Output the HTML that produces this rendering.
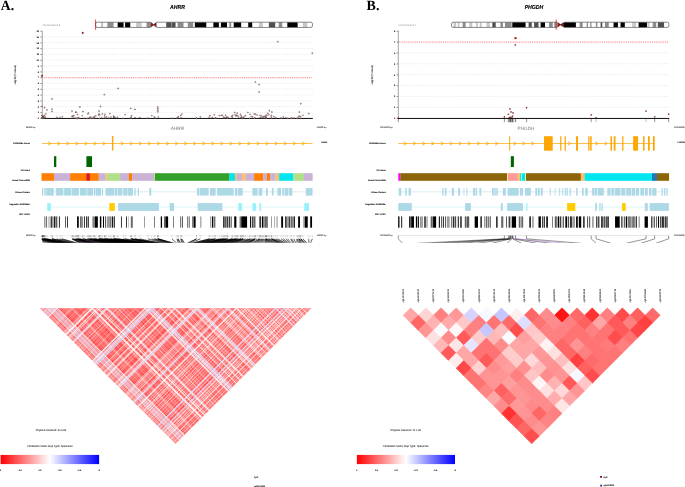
<!DOCTYPE html>
<html lang="en"><head><meta charset="utf-8"><title>coMET regional plots: AHRR and PHGDH</title>
<style>html,body{margin:0;padding:0;background:#fff;overflow:hidden}text{text-rendering:geometricPrecision}svg{display:block;will-change:transform;transform:translateZ(0)}</style></head>
<body>
<svg width="685" height="487" viewBox="0 0 685 487">
<rect width="685" height="487" fill="#fff"/>
<text x="0.00" y="0.00" font-size="14.1" fill="#000" text-anchor="start" font-family="Liberation Serif, Times New Roman, serif"  font-weight="bold" transform="translate(0.8,9.65) scale(0.97,1)">A.</text>
<line x1="44.00" y1="112.44" x2="312.50" y2="112.44" stroke="#d8d8d8" stroke-width="0.6" stroke-dasharray="0.9 1.16"/>
<line x1="44.00" y1="106.62" x2="312.50" y2="106.62" stroke="#d8d8d8" stroke-width="0.6" stroke-dasharray="0.9 1.16"/>
<line x1="44.00" y1="100.81" x2="312.50" y2="100.81" stroke="#d8d8d8" stroke-width="0.6" stroke-dasharray="0.9 1.16"/>
<line x1="44.00" y1="95.00" x2="312.50" y2="95.00" stroke="#d8d8d8" stroke-width="0.6" stroke-dasharray="0.9 1.16"/>
<line x1="44.00" y1="89.18" x2="312.50" y2="89.18" stroke="#d8d8d8" stroke-width="0.6" stroke-dasharray="0.9 1.16"/>
<line x1="44.00" y1="83.37" x2="312.50" y2="83.37" stroke="#d8d8d8" stroke-width="0.6" stroke-dasharray="0.9 1.16"/>
<line x1="44.00" y1="71.74" x2="312.50" y2="71.74" stroke="#d8d8d8" stroke-width="0.6" stroke-dasharray="0.9 1.16"/>
<line x1="44.00" y1="65.93" x2="312.50" y2="65.93" stroke="#d8d8d8" stroke-width="0.6" stroke-dasharray="0.9 1.16"/>
<line x1="44.00" y1="60.12" x2="312.50" y2="60.12" stroke="#d8d8d8" stroke-width="0.6" stroke-dasharray="0.9 1.16"/>
<line x1="44.00" y1="54.30" x2="312.50" y2="54.30" stroke="#d8d8d8" stroke-width="0.6" stroke-dasharray="0.9 1.16"/>
<line x1="44.00" y1="48.49" x2="312.50" y2="48.49" stroke="#d8d8d8" stroke-width="0.6" stroke-dasharray="0.9 1.16"/>
<line x1="44.00" y1="42.68" x2="312.50" y2="42.68" stroke="#d8d8d8" stroke-width="0.6" stroke-dasharray="0.9 1.16"/>
<line x1="44.00" y1="36.86" x2="312.50" y2="36.86" stroke="#d8d8d8" stroke-width="0.6" stroke-dasharray="0.9 1.16"/>
<line x1="42.40" y1="77.71" x2="312.50" y2="77.71" stroke="#ff2020" stroke-width="0.65" stroke-dasharray="0.95 0.9"/>
<line x1="42.30" y1="30.80" x2="42.30" y2="118.40" stroke="#4a4a4a" stroke-width="0.5" />
<line x1="40.30" y1="118.40" x2="42.00" y2="118.40" stroke="#222" stroke-width="0.45" />
<text x="39.00" y="119.18" font-size="2.2" fill="#000" text-anchor="end" font-family="Liberation Sans, Arial, sans-serif" stroke="#000" stroke-width="0.1" >0</text>
<line x1="40.30" y1="112.59" x2="42.00" y2="112.59" stroke="#222" stroke-width="0.45" />
<text x="39.00" y="113.37" font-size="2.2" fill="#000" text-anchor="end" font-family="Liberation Sans, Arial, sans-serif" stroke="#000" stroke-width="0.1" >1</text>
<line x1="40.30" y1="106.77" x2="42.00" y2="106.77" stroke="#222" stroke-width="0.45" />
<text x="39.00" y="107.55" font-size="2.2" fill="#000" text-anchor="end" font-family="Liberation Sans, Arial, sans-serif" stroke="#000" stroke-width="0.1" >2</text>
<line x1="40.30" y1="100.96" x2="42.00" y2="100.96" stroke="#222" stroke-width="0.45" />
<text x="39.00" y="101.74" font-size="2.2" fill="#000" text-anchor="end" font-family="Liberation Sans, Arial, sans-serif" stroke="#000" stroke-width="0.1" >3</text>
<line x1="40.30" y1="95.15" x2="42.00" y2="95.15" stroke="#222" stroke-width="0.45" />
<text x="39.00" y="95.93" font-size="2.2" fill="#000" text-anchor="end" font-family="Liberation Sans, Arial, sans-serif" stroke="#000" stroke-width="0.1" >4</text>
<line x1="40.30" y1="89.33" x2="42.00" y2="89.33" stroke="#222" stroke-width="0.45" />
<text x="39.00" y="90.11" font-size="2.2" fill="#000" text-anchor="end" font-family="Liberation Sans, Arial, sans-serif" stroke="#000" stroke-width="0.1" >5</text>
<line x1="40.30" y1="83.52" x2="42.00" y2="83.52" stroke="#222" stroke-width="0.45" />
<text x="39.00" y="84.30" font-size="2.2" fill="#000" text-anchor="end" font-family="Liberation Sans, Arial, sans-serif" stroke="#000" stroke-width="0.1" >6</text>
<line x1="40.30" y1="77.71" x2="42.00" y2="77.71" stroke="#222" stroke-width="0.45" />
<text x="39.00" y="78.49" font-size="2.2" fill="#000" text-anchor="end" font-family="Liberation Sans, Arial, sans-serif" stroke="#000" stroke-width="0.1" >7</text>
<line x1="40.30" y1="71.89" x2="42.00" y2="71.89" stroke="#222" stroke-width="0.45" />
<text x="39.00" y="72.67" font-size="2.2" fill="#000" text-anchor="end" font-family="Liberation Sans, Arial, sans-serif" stroke="#000" stroke-width="0.1" >8</text>
<line x1="40.30" y1="66.08" x2="42.00" y2="66.08" stroke="#222" stroke-width="0.45" />
<text x="39.00" y="66.86" font-size="2.2" fill="#000" text-anchor="end" font-family="Liberation Sans, Arial, sans-serif" stroke="#000" stroke-width="0.1" >9</text>
<line x1="40.30" y1="60.27" x2="42.00" y2="60.27" stroke="#222" stroke-width="0.45" />
<text x="39.00" y="61.05" font-size="2.2" fill="#000" text-anchor="end" font-family="Liberation Sans, Arial, sans-serif" stroke="#000" stroke-width="0.1" >10</text>
<line x1="40.30" y1="54.45" x2="42.00" y2="54.45" stroke="#222" stroke-width="0.45" />
<text x="39.00" y="55.23" font-size="2.2" fill="#000" text-anchor="end" font-family="Liberation Sans, Arial, sans-serif" stroke="#000" stroke-width="0.1" >11</text>
<line x1="40.30" y1="48.64" x2="42.00" y2="48.64" stroke="#222" stroke-width="0.45" />
<text x="39.00" y="49.42" font-size="2.2" fill="#000" text-anchor="end" font-family="Liberation Sans, Arial, sans-serif" stroke="#000" stroke-width="0.1" >12</text>
<line x1="40.30" y1="42.83" x2="42.00" y2="42.83" stroke="#222" stroke-width="0.45" />
<text x="39.00" y="43.61" font-size="2.2" fill="#000" text-anchor="end" font-family="Liberation Sans, Arial, sans-serif" stroke="#000" stroke-width="0.1" >13</text>
<line x1="40.30" y1="37.01" x2="42.00" y2="37.01" stroke="#222" stroke-width="0.45" />
<text x="39.00" y="37.79" font-size="2.2" fill="#000" text-anchor="end" font-family="Liberation Sans, Arial, sans-serif" stroke="#000" stroke-width="0.1" >14</text>
<line x1="40.30" y1="31.20" x2="42.00" y2="31.20" stroke="#222" stroke-width="0.45" />
<text x="39.00" y="31.98" font-size="2.2" fill="#000" text-anchor="end" font-family="Liberation Sans, Arial, sans-serif" stroke="#000" stroke-width="0.1" >15</text>
<line x1="41.70" y1="118.45" x2="312.80" y2="118.45" stroke="#000" stroke-width="0.95" />
<text x="0.00" y="0.00" font-size="2.95" fill="#222" text-anchor="middle" font-family="Liberation Sans, Arial, sans-serif" stroke="#222" stroke-width="0.04" transform="translate(16.30,74.7) rotate(-90)">-log10(P-value)</text>
<text x="177.40" y="129.80" font-size="4.7" fill="#7a7a7a" text-anchor="middle" font-family="Liberation Sans, Arial, sans-serif"  >AHRR</text>
<text x="42.50" y="25.90" font-size="2.6" fill="#9c9c9c" text-anchor="start" font-family="Liberation Sans, Arial, sans-serif" stroke="#9c9c9c" stroke-width="0.03" >Chromosome 5</text>
<text x="26.00" y="128.00" font-size="2.0" fill="#333" text-anchor="start" font-family="Liberation Sans, Arial, sans-serif" stroke="#333" stroke-width="0.05" >368000 bp</text>
<text x="316.80" y="128.00" font-size="2.0" fill="#333" text-anchor="start" font-family="Liberation Sans, Arial, sans-serif" stroke="#333" stroke-width="0.05" >429600 bp</text>
<text x="0.00" y="0.00" font-size="5.7" fill="#000" text-anchor="middle" font-family="Liberation Sans, Arial, sans-serif" stroke="#000" stroke-width="0.12" font-weight="bold" font-style="italic" transform="translate(177.40,8.9) scale(0.91,1)">AHRR</text>
<clipPath id="c5a"><path d="M97.30,22.20 H149.97 Q150.87,22.20 153.63,24.57 Q156.39,22.20 157.29,22.20 H310.80 A1.7,1.7 0 0 1 312.50,23.90 V25.75 A1.7,1.7 0 0 1 310.80,27.45 H157.29 Q156.39,27.45 153.63,25.07 Q150.87,27.45 149.97,27.45 H97.30 A1.7,1.7 0 0 1 95.60,25.75 V23.90 A1.7,1.7 0 0 1 97.30,22.20 Z"/></clipPath>
<g clip-path="url(#c5a)">
<rect x="101.00" y="22.20" width="2.16" height="5.25" fill="#c8c8c8" />
<rect x="107.35" y="22.20" width="6.23" height="5.25" fill="#8c8c8c" />
<rect x="117.66" y="22.20" width="5.88" height="5.25" fill="#000000" />
<rect x="125.10" y="22.20" width="5.16" height="5.25" fill="#000000" />
<rect x="136.13" y="22.20" width="5.52" height="5.25" fill="#c8c8c8" />
<rect x="146.56" y="22.20" width="4.32" height="5.25" fill="#8c8c8c" />
<rect x="150.77" y="22.20" width="2.96" height="5.25" fill="#8b1a1a" />
<rect x="153.53" y="22.20" width="2.96" height="5.25" fill="#8b1a1a" />
<rect x="166.22" y="22.20" width="4.80" height="5.25" fill="#505050" />
<rect x="171.38" y="22.20" width="4.20" height="5.25" fill="#505050" />
<rect x="177.61" y="22.20" width="5.88" height="5.25" fill="#8c8c8c" />
<rect x="187.80" y="22.20" width="5.40" height="5.25" fill="#8c8c8c" />
<rect x="194.88" y="22.20" width="11.39" height="5.25" fill="#000000" />
<rect x="213.34" y="22.20" width="5.52" height="5.25" fill="#000000" />
<rect x="220.90" y="22.20" width="6.11" height="5.25" fill="#000000" />
<rect x="229.29" y="22.20" width="1.92" height="5.25" fill="#8c8c8c" />
<rect x="233.73" y="22.20" width="7.43" height="5.25" fill="#000000" />
<rect x="248.23" y="22.20" width="3.96" height="5.25" fill="#000000" />
<rect x="258.90" y="22.20" width="3.96" height="5.25" fill="#c8c8c8" />
<rect x="268.86" y="22.20" width="6.35" height="5.25" fill="#505050" />
<rect x="278.69" y="22.20" width="3.60" height="5.25" fill="#8c8c8c" />
<rect x="287.32" y="22.20" width="10.31" height="5.25" fill="#000000" />
<rect x="302.79" y="22.20" width="4.56" height="5.25" fill="#c8c8c8" />
</g>
<path d="M97.30,22.20 H149.97 Q150.87,22.20 153.63,24.57 Q156.39,22.20 157.29,22.20 H310.80 A1.7,1.7 0 0 1 312.50,23.90 V25.75 A1.7,1.7 0 0 1 310.80,27.45 H157.29 Q156.39,27.45 153.63,25.07 Q150.87,27.45 149.97,27.45 H97.30 A1.7,1.7 0 0 1 95.60,25.75 V23.90 A1.7,1.7 0 0 1 97.30,22.20 Z" fill="none" stroke="#2a2a2a" stroke-width="0.55"/>
<line x1="95.60" y1="19.60" x2="95.60" y2="29.75" stroke="#e8000a" stroke-width="0.75" />
<circle cx="43.16" cy="116.37" r="0.55" fill="#e6b4b4" stroke="#2a1212" stroke-width="0.33"/>
<circle cx="42.10" cy="115.57" r="0.55" fill="#e6b4b4" stroke="#2a1212" stroke-width="0.33"/>
<circle cx="44.05" cy="117.85" r="0.55" fill="#e6b4b4" stroke="#2a1212" stroke-width="0.33"/>
<circle cx="43.93" cy="117.78" r="0.55" fill="#e6b4b4" stroke="#2a1212" stroke-width="0.33"/>
<circle cx="41.96" cy="117.56" r="0.55" fill="#e6b4b4" stroke="#2a1212" stroke-width="0.33"/>
<circle cx="42.18" cy="118.03" r="0.55" fill="#e6b4b4" stroke="#2a1212" stroke-width="0.33"/>
<circle cx="43.58" cy="117.83" r="0.55" fill="#e6b4b4" stroke="#2a1212" stroke-width="0.33"/>
<circle cx="42.74" cy="117.31" r="0.55" fill="#e6b4b4" stroke="#2a1212" stroke-width="0.33"/>
<circle cx="44.44" cy="115.42" r="0.55" fill="#e6b4b4" stroke="#2a1212" stroke-width="0.33"/>
<circle cx="43.47" cy="117.38" r="0.55" fill="#e6b4b4" stroke="#2a1212" stroke-width="0.33"/>
<circle cx="45.90" cy="113.86" r="0.55" fill="#e6b4b4" stroke="#2a1212" stroke-width="0.33"/>
<circle cx="43.02" cy="117.03" r="0.55" fill="#e6b4b4" stroke="#2a1212" stroke-width="0.33"/>
<circle cx="42.41" cy="116.88" r="0.55" fill="#e6b4b4" stroke="#2a1212" stroke-width="0.33"/>
<circle cx="45.23" cy="117.01" r="0.55" fill="#e6b4b4" stroke="#2a1212" stroke-width="0.33"/>
<circle cx="42.56" cy="115.41" r="0.55" fill="#e6b4b4" stroke="#2a1212" stroke-width="0.33"/>
<circle cx="43.36" cy="116.72" r="0.55" fill="#e6b4b4" stroke="#2a1212" stroke-width="0.33"/>
<circle cx="44.10" cy="117.62" r="0.55" fill="#e6b4b4" stroke="#2a1212" stroke-width="0.33"/>
<circle cx="42.67" cy="118.08" r="0.55" fill="#e6b4b4" stroke="#2a1212" stroke-width="0.33"/>
<circle cx="62.33" cy="116.84" r="0.55" fill="#e6b4b4" stroke="#2a1212" stroke-width="0.33"/>
<circle cx="60.05" cy="117.64" r="0.55" fill="#e6b4b4" stroke="#2a1212" stroke-width="0.33"/>
<circle cx="56.88" cy="117.31" r="0.55" fill="#e6b4b4" stroke="#2a1212" stroke-width="0.33"/>
<circle cx="104.95" cy="114.34" r="0.55" fill="#e6b4b4" stroke="#2a1212" stroke-width="0.33"/>
<circle cx="82.20" cy="115.79" r="0.55" fill="#e6b4b4" stroke="#2a1212" stroke-width="0.33"/>
<circle cx="113.76" cy="117.08" r="0.55" fill="#e6b4b4" stroke="#2a1212" stroke-width="0.33"/>
<circle cx="106.47" cy="116.81" r="0.55" fill="#e6b4b4" stroke="#2a1212" stroke-width="0.33"/>
<circle cx="75.90" cy="112.40" r="0.55" fill="#e6b4b4" stroke="#2a1212" stroke-width="0.33"/>
<circle cx="90.91" cy="118.34" r="0.55" fill="#e6b4b4" stroke="#2a1212" stroke-width="0.33"/>
<circle cx="94.45" cy="117.02" r="0.55" fill="#e6b4b4" stroke="#2a1212" stroke-width="0.33"/>
<circle cx="71.96" cy="116.39" r="0.55" fill="#e6b4b4" stroke="#2a1212" stroke-width="0.33"/>
<circle cx="98.65" cy="114.85" r="0.55" fill="#e6b4b4" stroke="#2a1212" stroke-width="0.33"/>
<circle cx="113.77" cy="116.96" r="0.55" fill="#e6b4b4" stroke="#2a1212" stroke-width="0.33"/>
<circle cx="99.72" cy="114.99" r="0.55" fill="#e6b4b4" stroke="#2a1212" stroke-width="0.33"/>
<circle cx="98.99" cy="113.98" r="0.55" fill="#e6b4b4" stroke="#2a1212" stroke-width="0.33"/>
<circle cx="117.23" cy="117.15" r="0.55" fill="#e6b4b4" stroke="#2a1212" stroke-width="0.33"/>
<circle cx="93.70" cy="117.96" r="0.55" fill="#e6b4b4" stroke="#2a1212" stroke-width="0.33"/>
<circle cx="105.07" cy="117.67" r="0.55" fill="#e6b4b4" stroke="#2a1212" stroke-width="0.33"/>
<circle cx="102.36" cy="113.95" r="0.55" fill="#e6b4b4" stroke="#2a1212" stroke-width="0.33"/>
<circle cx="84.23" cy="118.21" r="0.55" fill="#e6b4b4" stroke="#2a1212" stroke-width="0.33"/>
<circle cx="89.29" cy="118.15" r="0.55" fill="#e6b4b4" stroke="#2a1212" stroke-width="0.33"/>
<circle cx="93.08" cy="117.95" r="0.55" fill="#e6b4b4" stroke="#2a1212" stroke-width="0.33"/>
<circle cx="78.40" cy="117.78" r="0.55" fill="#e6b4b4" stroke="#2a1212" stroke-width="0.33"/>
<circle cx="108.41" cy="117.84" r="0.55" fill="#e6b4b4" stroke="#2a1212" stroke-width="0.33"/>
<circle cx="76.47" cy="118.36" r="0.55" fill="#e6b4b4" stroke="#2a1212" stroke-width="0.33"/>
<circle cx="113.57" cy="116.01" r="0.55" fill="#e6b4b4" stroke="#2a1212" stroke-width="0.33"/>
<circle cx="74.03" cy="115.52" r="0.55" fill="#e6b4b4" stroke="#2a1212" stroke-width="0.33"/>
<circle cx="114.17" cy="117.45" r="0.55" fill="#e6b4b4" stroke="#2a1212" stroke-width="0.33"/>
<circle cx="110.96" cy="117.13" r="0.55" fill="#e6b4b4" stroke="#2a1212" stroke-width="0.33"/>
<circle cx="90.76" cy="116.94" r="0.55" fill="#e6b4b4" stroke="#2a1212" stroke-width="0.33"/>
<circle cx="87.94" cy="113.89" r="0.55" fill="#e6b4b4" stroke="#2a1212" stroke-width="0.33"/>
<circle cx="77.55" cy="114.38" r="0.55" fill="#e6b4b4" stroke="#2a1212" stroke-width="0.33"/>
<circle cx="78.81" cy="118.20" r="0.55" fill="#e6b4b4" stroke="#2a1212" stroke-width="0.33"/>
<circle cx="94.25" cy="116.66" r="0.55" fill="#e6b4b4" stroke="#2a1212" stroke-width="0.33"/>
<circle cx="99.46" cy="118.38" r="0.55" fill="#e6b4b4" stroke="#2a1212" stroke-width="0.33"/>
<circle cx="90.95" cy="118.18" r="0.55" fill="#e6b4b4" stroke="#2a1212" stroke-width="0.33"/>
<circle cx="88.46" cy="112.97" r="0.55" fill="#e6b4b4" stroke="#2a1212" stroke-width="0.33"/>
<circle cx="104.52" cy="116.00" r="0.55" fill="#e6b4b4" stroke="#2a1212" stroke-width="0.33"/>
<circle cx="95.77" cy="115.74" r="0.55" fill="#e6b4b4" stroke="#2a1212" stroke-width="0.33"/>
<circle cx="72.70" cy="115.97" r="0.55" fill="#e6b4b4" stroke="#2a1212" stroke-width="0.33"/>
<circle cx="114.98" cy="117.48" r="0.55" fill="#e6b4b4" stroke="#2a1212" stroke-width="0.33"/>
<circle cx="109.89" cy="113.60" r="0.55" fill="#e6b4b4" stroke="#2a1212" stroke-width="0.33"/>
<circle cx="89.62" cy="117.50" r="0.55" fill="#e6b4b4" stroke="#2a1212" stroke-width="0.33"/>
<circle cx="101.71" cy="117.73" r="0.55" fill="#e6b4b4" stroke="#2a1212" stroke-width="0.33"/>
<circle cx="73.11" cy="116.90" r="0.55" fill="#e6b4b4" stroke="#2a1212" stroke-width="0.33"/>
<circle cx="78.12" cy="117.73" r="0.55" fill="#e6b4b4" stroke="#2a1212" stroke-width="0.33"/>
<circle cx="87.00" cy="118.35" r="0.55" fill="#e6b4b4" stroke="#2a1212" stroke-width="0.33"/>
<circle cx="77.56" cy="118.38" r="0.55" fill="#e6b4b4" stroke="#2a1212" stroke-width="0.33"/>
<circle cx="75.07" cy="118.04" r="0.55" fill="#e6b4b4" stroke="#2a1212" stroke-width="0.33"/>
<circle cx="147.98" cy="118.06" r="0.55" fill="#e6b4b4" stroke="#2a1212" stroke-width="0.33"/>
<circle cx="139.65" cy="117.49" r="0.55" fill="#e6b4b4" stroke="#2a1212" stroke-width="0.33"/>
<circle cx="131.12" cy="117.17" r="0.55" fill="#e6b4b4" stroke="#2a1212" stroke-width="0.33"/>
<circle cx="131.65" cy="115.61" r="0.55" fill="#e6b4b4" stroke="#2a1212" stroke-width="0.33"/>
<circle cx="151.78" cy="115.69" r="0.55" fill="#e6b4b4" stroke="#2a1212" stroke-width="0.33"/>
<circle cx="134.91" cy="117.56" r="0.55" fill="#e6b4b4" stroke="#2a1212" stroke-width="0.33"/>
<circle cx="123.27" cy="118.31" r="0.55" fill="#e6b4b4" stroke="#2a1212" stroke-width="0.33"/>
<circle cx="130.96" cy="118.05" r="0.55" fill="#e6b4b4" stroke="#2a1212" stroke-width="0.33"/>
<circle cx="125.17" cy="114.66" r="0.55" fill="#e6b4b4" stroke="#2a1212" stroke-width="0.33"/>
<circle cx="154.18" cy="117.00" r="0.55" fill="#e6b4b4" stroke="#2a1212" stroke-width="0.33"/>
<circle cx="155.17" cy="117.95" r="0.55" fill="#e6b4b4" stroke="#2a1212" stroke-width="0.33"/>
<circle cx="158.35" cy="116.95" r="0.55" fill="#e6b4b4" stroke="#2a1212" stroke-width="0.33"/>
<circle cx="171.96" cy="118.23" r="0.55" fill="#e6b4b4" stroke="#2a1212" stroke-width="0.33"/>
<circle cx="181.18" cy="117.78" r="0.55" fill="#e6b4b4" stroke="#2a1212" stroke-width="0.33"/>
<circle cx="178.20" cy="116.64" r="0.55" fill="#e6b4b4" stroke="#2a1212" stroke-width="0.33"/>
<circle cx="177.00" cy="117.99" r="0.55" fill="#e6b4b4" stroke="#2a1212" stroke-width="0.33"/>
<circle cx="180.67" cy="115.47" r="0.55" fill="#e6b4b4" stroke="#2a1212" stroke-width="0.33"/>
<circle cx="177.98" cy="117.66" r="0.55" fill="#e6b4b4" stroke="#2a1212" stroke-width="0.33"/>
<circle cx="181.91" cy="114.08" r="0.55" fill="#e6b4b4" stroke="#2a1212" stroke-width="0.33"/>
<circle cx="212.20" cy="117.38" r="0.55" fill="#e6b4b4" stroke="#2a1212" stroke-width="0.33"/>
<circle cx="210.06" cy="115.63" r="0.55" fill="#e6b4b4" stroke="#2a1212" stroke-width="0.33"/>
<circle cx="200.31" cy="116.91" r="0.55" fill="#e6b4b4" stroke="#2a1212" stroke-width="0.33"/>
<circle cx="196.55" cy="118.23" r="0.55" fill="#e6b4b4" stroke="#2a1212" stroke-width="0.33"/>
<circle cx="196.53" cy="118.17" r="0.55" fill="#e6b4b4" stroke="#2a1212" stroke-width="0.33"/>
<circle cx="209.16" cy="117.18" r="0.55" fill="#e6b4b4" stroke="#2a1212" stroke-width="0.33"/>
<circle cx="214.17" cy="114.84" r="0.55" fill="#e6b4b4" stroke="#2a1212" stroke-width="0.33"/>
<circle cx="264.40" cy="116.56" r="0.55" fill="#e6b4b4" stroke="#2a1212" stroke-width="0.33"/>
<circle cx="262.75" cy="117.28" r="0.55" fill="#e6b4b4" stroke="#2a1212" stroke-width="0.33"/>
<circle cx="226.34" cy="117.13" r="0.55" fill="#e6b4b4" stroke="#2a1212" stroke-width="0.33"/>
<circle cx="224.84" cy="117.45" r="0.55" fill="#e6b4b4" stroke="#2a1212" stroke-width="0.33"/>
<circle cx="260.02" cy="115.18" r="0.55" fill="#e6b4b4" stroke="#2a1212" stroke-width="0.33"/>
<circle cx="257.02" cy="114.94" r="0.55" fill="#e6b4b4" stroke="#2a1212" stroke-width="0.33"/>
<circle cx="254.98" cy="117.95" r="0.55" fill="#e6b4b4" stroke="#2a1212" stroke-width="0.33"/>
<circle cx="219.24" cy="115.60" r="0.55" fill="#e6b4b4" stroke="#2a1212" stroke-width="0.33"/>
<circle cx="254.12" cy="113.95" r="0.55" fill="#e6b4b4" stroke="#2a1212" stroke-width="0.33"/>
<circle cx="252.51" cy="116.91" r="0.55" fill="#e6b4b4" stroke="#2a1212" stroke-width="0.33"/>
<circle cx="254.46" cy="118.19" r="0.55" fill="#e6b4b4" stroke="#2a1212" stroke-width="0.33"/>
<circle cx="231.63" cy="116.39" r="0.55" fill="#e6b4b4" stroke="#2a1212" stroke-width="0.33"/>
<circle cx="234.79" cy="112.40" r="0.55" fill="#e6b4b4" stroke="#2a1212" stroke-width="0.33"/>
<circle cx="235.07" cy="114.76" r="0.55" fill="#e6b4b4" stroke="#2a1212" stroke-width="0.33"/>
<circle cx="223.50" cy="117.14" r="0.55" fill="#e6b4b4" stroke="#2a1212" stroke-width="0.33"/>
<circle cx="221.35" cy="115.37" r="0.55" fill="#e6b4b4" stroke="#2a1212" stroke-width="0.33"/>
<circle cx="255.33" cy="114.17" r="0.55" fill="#e6b4b4" stroke="#2a1212" stroke-width="0.33"/>
<circle cx="222.31" cy="115.29" r="0.55" fill="#e6b4b4" stroke="#2a1212" stroke-width="0.33"/>
<circle cx="247.86" cy="112.44" r="0.55" fill="#e6b4b4" stroke="#2a1212" stroke-width="0.33"/>
<circle cx="232.52" cy="117.19" r="0.55" fill="#e6b4b4" stroke="#2a1212" stroke-width="0.33"/>
<circle cx="215.71" cy="118.02" r="0.55" fill="#e6b4b4" stroke="#2a1212" stroke-width="0.33"/>
<circle cx="263.54" cy="116.67" r="0.55" fill="#e6b4b4" stroke="#2a1212" stroke-width="0.33"/>
<circle cx="261.68" cy="116.03" r="0.55" fill="#e6b4b4" stroke="#2a1212" stroke-width="0.33"/>
<circle cx="236.69" cy="115.29" r="0.55" fill="#e6b4b4" stroke="#2a1212" stroke-width="0.33"/>
<circle cx="225.55" cy="115.16" r="0.55" fill="#e6b4b4" stroke="#2a1212" stroke-width="0.33"/>
<circle cx="227.59" cy="117.93" r="0.55" fill="#e6b4b4" stroke="#2a1212" stroke-width="0.33"/>
<circle cx="244.32" cy="116.68" r="0.55" fill="#e6b4b4" stroke="#2a1212" stroke-width="0.33"/>
<circle cx="227.97" cy="117.29" r="0.55" fill="#e6b4b4" stroke="#2a1212" stroke-width="0.33"/>
<circle cx="260.50" cy="117.78" r="0.55" fill="#e6b4b4" stroke="#2a1212" stroke-width="0.33"/>
<circle cx="232.69" cy="115.33" r="0.55" fill="#e6b4b4" stroke="#2a1212" stroke-width="0.33"/>
<circle cx="260.21" cy="117.57" r="0.55" fill="#e6b4b4" stroke="#2a1212" stroke-width="0.33"/>
<circle cx="236.03" cy="115.94" r="0.55" fill="#e6b4b4" stroke="#2a1212" stroke-width="0.33"/>
<circle cx="241.59" cy="117.00" r="0.55" fill="#e6b4b4" stroke="#2a1212" stroke-width="0.33"/>
<circle cx="241.18" cy="115.83" r="0.55" fill="#e6b4b4" stroke="#2a1212" stroke-width="0.33"/>
<circle cx="224.16" cy="118.10" r="0.55" fill="#e6b4b4" stroke="#2a1212" stroke-width="0.33"/>
<circle cx="215.20" cy="117.95" r="0.55" fill="#e6b4b4" stroke="#2a1212" stroke-width="0.33"/>
<circle cx="238.67" cy="116.99" r="0.55" fill="#e6b4b4" stroke="#2a1212" stroke-width="0.33"/>
<circle cx="251.26" cy="116.40" r="0.55" fill="#e6b4b4" stroke="#2a1212" stroke-width="0.33"/>
<circle cx="240.92" cy="117.66" r="0.55" fill="#e6b4b4" stroke="#2a1212" stroke-width="0.33"/>
<circle cx="242.77" cy="118.16" r="0.55" fill="#e6b4b4" stroke="#2a1212" stroke-width="0.33"/>
<circle cx="243.01" cy="117.29" r="0.55" fill="#e6b4b4" stroke="#2a1212" stroke-width="0.33"/>
<circle cx="227.42" cy="117.71" r="0.55" fill="#e6b4b4" stroke="#2a1212" stroke-width="0.33"/>
<circle cx="240.39" cy="114.33" r="0.55" fill="#e6b4b4" stroke="#2a1212" stroke-width="0.33"/>
<circle cx="243.09" cy="118.07" r="0.55" fill="#e6b4b4" stroke="#2a1212" stroke-width="0.33"/>
<circle cx="237.16" cy="113.11" r="0.55" fill="#e6b4b4" stroke="#2a1212" stroke-width="0.33"/>
<circle cx="245.63" cy="115.53" r="0.55" fill="#e6b4b4" stroke="#2a1212" stroke-width="0.33"/>
<circle cx="249.64" cy="118.30" r="0.55" fill="#e6b4b4" stroke="#2a1212" stroke-width="0.33"/>
<circle cx="237.62" cy="115.72" r="0.55" fill="#e6b4b4" stroke="#2a1212" stroke-width="0.33"/>
<circle cx="262.08" cy="117.83" r="0.55" fill="#e6b4b4" stroke="#2a1212" stroke-width="0.33"/>
<circle cx="249.96" cy="114.31" r="0.55" fill="#e6b4b4" stroke="#2a1212" stroke-width="0.33"/>
<circle cx="266.82" cy="115.06" r="0.55" fill="#e6b4b4" stroke="#2a1212" stroke-width="0.33"/>
<circle cx="268.92" cy="114.81" r="0.55" fill="#e6b4b4" stroke="#2a1212" stroke-width="0.33"/>
<circle cx="265.96" cy="117.06" r="0.55" fill="#e6b4b4" stroke="#2a1212" stroke-width="0.33"/>
<circle cx="265.85" cy="117.67" r="0.55" fill="#e6b4b4" stroke="#2a1212" stroke-width="0.33"/>
<circle cx="266.68" cy="118.12" r="0.55" fill="#e6b4b4" stroke="#2a1212" stroke-width="0.33"/>
<circle cx="265.51" cy="116.70" r="0.55" fill="#e6b4b4" stroke="#2a1212" stroke-width="0.33"/>
<circle cx="271.28" cy="115.34" r="0.55" fill="#e6b4b4" stroke="#2a1212" stroke-width="0.33"/>
<circle cx="266.08" cy="117.78" r="0.55" fill="#e6b4b4" stroke="#2a1212" stroke-width="0.33"/>
<circle cx="266.00" cy="115.53" r="0.55" fill="#e6b4b4" stroke="#2a1212" stroke-width="0.33"/>
<circle cx="271.18" cy="117.02" r="0.55" fill="#e6b4b4" stroke="#2a1212" stroke-width="0.33"/>
<circle cx="271.67" cy="118.11" r="0.55" fill="#e6b4b4" stroke="#2a1212" stroke-width="0.33"/>
<circle cx="267.79" cy="113.40" r="0.55" fill="#e6b4b4" stroke="#2a1212" stroke-width="0.33"/>
<circle cx="281.16" cy="118.01" r="0.55" fill="#e6b4b4" stroke="#2a1212" stroke-width="0.33"/>
<circle cx="273.78" cy="116.65" r="0.55" fill="#e6b4b4" stroke="#2a1212" stroke-width="0.33"/>
<circle cx="275.73" cy="117.60" r="0.55" fill="#e6b4b4" stroke="#2a1212" stroke-width="0.33"/>
<circle cx="285.74" cy="117.73" r="0.55" fill="#e6b4b4" stroke="#2a1212" stroke-width="0.33"/>
<circle cx="283.27" cy="116.95" r="0.55" fill="#e6b4b4" stroke="#2a1212" stroke-width="0.33"/>
<circle cx="290.76" cy="118.22" r="0.55" fill="#e6b4b4" stroke="#2a1212" stroke-width="0.33"/>
<circle cx="287.64" cy="118.33" r="0.55" fill="#e6b4b4" stroke="#2a1212" stroke-width="0.33"/>
<circle cx="291.73" cy="118.04" r="0.55" fill="#e6b4b4" stroke="#2a1212" stroke-width="0.33"/>
<circle cx="296.79" cy="118.37" r="0.55" fill="#e6b4b4" stroke="#2a1212" stroke-width="0.33"/>
<circle cx="294.04" cy="117.94" r="0.55" fill="#e6b4b4" stroke="#2a1212" stroke-width="0.33"/>
<circle cx="300.72" cy="118.23" r="0.55" fill="#e6b4b4" stroke="#2a1212" stroke-width="0.33"/>
<circle cx="297.55" cy="118.11" r="0.55" fill="#e6b4b4" stroke="#2a1212" stroke-width="0.33"/>
<circle cx="298.81" cy="116.84" r="0.55" fill="#e6b4b4" stroke="#2a1212" stroke-width="0.33"/>
<circle cx="302.91" cy="115.26" r="0.55" fill="#e6b4b4" stroke="#2a1212" stroke-width="0.33"/>
<circle cx="300.62" cy="116.45" r="0.55" fill="#e6b4b4" stroke="#2a1212" stroke-width="0.33"/>
<circle cx="299.09" cy="116.13" r="0.55" fill="#e6b4b4" stroke="#2a1212" stroke-width="0.33"/>
<circle cx="82.70" cy="32.90" r="0.82" fill="#a30f14" stroke="#5c0000" stroke-width="0.35"/>
<circle cx="277.80" cy="41.70" r="0.62" fill="#e6b4b4" stroke="#2a1212" stroke-width="0.33"/>
<circle cx="312.30" cy="53.20" r="0.62" fill="#e6b4b4" stroke="#2a1212" stroke-width="0.33"/>
<circle cx="42.00" cy="75.80" r="0.82" fill="#a30f14" stroke="#5c0000" stroke-width="0.35"/>
<circle cx="52.00" cy="98.90" r="0.62" fill="#e6b4b4" stroke="#2a1212" stroke-width="0.33"/>
<circle cx="118.10" cy="88.40" r="0.62" fill="#e6b4b4" stroke="#2a1212" stroke-width="0.33"/>
<circle cx="104.30" cy="94.60" r="0.62" fill="#e6b4b4" stroke="#2a1212" stroke-width="0.33"/>
<circle cx="255.40" cy="82.00" r="0.62" fill="#e6b4b4" stroke="#2a1212" stroke-width="0.33"/>
<circle cx="259.10" cy="84.50" r="0.62" fill="#e6b4b4" stroke="#2a1212" stroke-width="0.33"/>
<circle cx="259.10" cy="92.00" r="0.62" fill="#e6b4b4" stroke="#2a1212" stroke-width="0.33"/>
<circle cx="300.80" cy="103.70" r="0.62" fill="#e6b4b4" stroke="#2a1212" stroke-width="0.33"/>
<circle cx="42.20" cy="106.40" r="0.62" fill="#e6b4b4" stroke="#2a1212" stroke-width="0.33"/>
<circle cx="44.70" cy="107.70" r="0.62" fill="#e6b4b4" stroke="#2a1212" stroke-width="0.33"/>
<circle cx="52.00" cy="109.00" r="0.62" fill="#e6b4b4" stroke="#2a1212" stroke-width="0.33"/>
<circle cx="52.00" cy="111.40" r="0.62" fill="#e6b4b4" stroke="#2a1212" stroke-width="0.33"/>
<circle cx="79.90" cy="106.90" r="0.62" fill="#e6b4b4" stroke="#2a1212" stroke-width="0.33"/>
<circle cx="100.50" cy="106.40" r="0.62" fill="#e6b4b4" stroke="#2a1212" stroke-width="0.33"/>
<circle cx="130.70" cy="108.40" r="0.62" fill="#e6b4b4" stroke="#2a1212" stroke-width="0.33"/>
<circle cx="134.90" cy="109.40" r="0.62" fill="#e6b4b4" stroke="#2a1212" stroke-width="0.33"/>
<circle cx="157.80" cy="107.00" r="0.62" fill="#e6b4b4" stroke="#2a1212" stroke-width="0.33"/>
<circle cx="157.80" cy="108.60" r="0.62" fill="#e6b4b4" stroke="#2a1212" stroke-width="0.33"/>
<circle cx="157.80" cy="110.20" r="0.62" fill="#e6b4b4" stroke="#2a1212" stroke-width="0.33"/>
<circle cx="157.80" cy="111.80" r="0.62" fill="#e6b4b4" stroke="#2a1212" stroke-width="0.33"/>
<circle cx="269.40" cy="110.70" r="0.62" fill="#e6b4b4" stroke="#2a1212" stroke-width="0.33"/>
<circle cx="271.90" cy="112.00" r="0.62" fill="#e6b4b4" stroke="#2a1212" stroke-width="0.33"/>
<circle cx="299.30" cy="112.00" r="0.62" fill="#e6b4b4" stroke="#2a1212" stroke-width="0.33"/>
<circle cx="308.80" cy="113.70" r="0.62" fill="#e6b4b4" stroke="#2a1212" stroke-width="0.33"/>
<circle cx="72.00" cy="111.00" r="0.62" fill="#e6b4b4" stroke="#2a1212" stroke-width="0.33"/>
<circle cx="76.00" cy="112.00" r="0.62" fill="#e6b4b4" stroke="#2a1212" stroke-width="0.33"/>
<circle cx="83.00" cy="111.50" r="0.62" fill="#e6b4b4" stroke="#2a1212" stroke-width="0.33"/>
<circle cx="99.00" cy="111.00" r="0.62" fill="#e6b4b4" stroke="#2a1212" stroke-width="0.33"/>
<circle cx="47.00" cy="110.00" r="0.62" fill="#e6b4b4" stroke="#2a1212" stroke-width="0.33"/>
<line x1="42.00" y1="143.50" x2="312.50" y2="143.50" stroke="#ffa500" stroke-width="0.7" />
<polyline points="48.20,141.85 51.10,143.50 48.20,145.15" fill="none" stroke="#ffa500" stroke-width="0.8" stroke-linejoin="miter"/>
<polyline points="57.26,141.85 60.16,143.50 57.26,145.15" fill="none" stroke="#ffa500" stroke-width="0.8" stroke-linejoin="miter"/>
<polyline points="66.32,141.85 69.22,143.50 66.32,145.15" fill="none" stroke="#ffa500" stroke-width="0.8" stroke-linejoin="miter"/>
<polyline points="75.38,141.85 78.28,143.50 75.38,145.15" fill="none" stroke="#ffa500" stroke-width="0.8" stroke-linejoin="miter"/>
<polyline points="84.44,141.85 87.34,143.50 84.44,145.15" fill="none" stroke="#ffa500" stroke-width="0.8" stroke-linejoin="miter"/>
<polyline points="93.50,141.85 96.40,143.50 93.50,145.15" fill="none" stroke="#ffa500" stroke-width="0.8" stroke-linejoin="miter"/>
<polyline points="102.56,141.85 105.46,143.50 102.56,145.15" fill="none" stroke="#ffa500" stroke-width="0.8" stroke-linejoin="miter"/>
<polyline points="120.68,141.85 123.58,143.50 120.68,145.15" fill="none" stroke="#ffa500" stroke-width="0.8" stroke-linejoin="miter"/>
<polyline points="129.74,141.85 132.64,143.50 129.74,145.15" fill="none" stroke="#ffa500" stroke-width="0.8" stroke-linejoin="miter"/>
<polyline points="138.80,141.85 141.70,143.50 138.80,145.15" fill="none" stroke="#ffa500" stroke-width="0.8" stroke-linejoin="miter"/>
<polyline points="147.86,141.85 150.76,143.50 147.86,145.15" fill="none" stroke="#ffa500" stroke-width="0.8" stroke-linejoin="miter"/>
<polyline points="156.92,141.85 159.82,143.50 156.92,145.15" fill="none" stroke="#ffa500" stroke-width="0.8" stroke-linejoin="miter"/>
<polyline points="165.98,141.85 168.88,143.50 165.98,145.15" fill="none" stroke="#ffa500" stroke-width="0.8" stroke-linejoin="miter"/>
<polyline points="175.04,141.85 177.94,143.50 175.04,145.15" fill="none" stroke="#ffa500" stroke-width="0.8" stroke-linejoin="miter"/>
<polyline points="184.10,141.85 187.00,143.50 184.10,145.15" fill="none" stroke="#ffa500" stroke-width="0.8" stroke-linejoin="miter"/>
<polyline points="193.16,141.85 196.06,143.50 193.16,145.15" fill="none" stroke="#ffa500" stroke-width="0.8" stroke-linejoin="miter"/>
<polyline points="202.22,141.85 205.12,143.50 202.22,145.15" fill="none" stroke="#ffa500" stroke-width="0.8" stroke-linejoin="miter"/>
<polyline points="211.28,141.85 214.18,143.50 211.28,145.15" fill="none" stroke="#ffa500" stroke-width="0.8" stroke-linejoin="miter"/>
<polyline points="220.34,141.85 223.24,143.50 220.34,145.15" fill="none" stroke="#ffa500" stroke-width="0.8" stroke-linejoin="miter"/>
<polyline points="229.40,141.85 232.30,143.50 229.40,145.15" fill="none" stroke="#ffa500" stroke-width="0.8" stroke-linejoin="miter"/>
<polyline points="238.46,141.85 241.36,143.50 238.46,145.15" fill="none" stroke="#ffa500" stroke-width="0.8" stroke-linejoin="miter"/>
<polyline points="247.52,141.85 250.42,143.50 247.52,145.15" fill="none" stroke="#ffa500" stroke-width="0.8" stroke-linejoin="miter"/>
<polyline points="256.58,141.85 259.48,143.50 256.58,145.15" fill="none" stroke="#ffa500" stroke-width="0.8" stroke-linejoin="miter"/>
<polyline points="265.64,141.85 268.54,143.50 265.64,145.15" fill="none" stroke="#ffa500" stroke-width="0.8" stroke-linejoin="miter"/>
<polyline points="274.70,141.85 277.60,143.50 274.70,145.15" fill="none" stroke="#ffa500" stroke-width="0.8" stroke-linejoin="miter"/>
<polyline points="283.76,141.85 286.66,143.50 283.76,145.15" fill="none" stroke="#ffa500" stroke-width="0.8" stroke-linejoin="miter"/>
<polyline points="292.82,141.85 295.72,143.50 292.82,145.15" fill="none" stroke="#ffa500" stroke-width="0.8" stroke-linejoin="miter"/>
<polyline points="301.88,141.85 304.78,143.50 301.88,145.15" fill="none" stroke="#ffa500" stroke-width="0.8" stroke-linejoin="miter"/>
<rect x="111.90" y="135.90" width="1.40" height="14.60" fill="#ffa500" />
<text x="29.90" y="144.30" font-size="2.1" fill="#111" text-anchor="end" font-family="Liberation Sans, Arial, sans-serif" stroke="#111" stroke-width="0.1" >ENSEMBL Genes</text>
<text x="321.30" y="143.20" font-size="2.1" fill="#111" text-anchor="start" font-family="Liberation Sans, Arial, sans-serif" stroke="#111" stroke-width="0.1" >AHRR</text>
<rect x="54.00" y="156.20" width="2.30" height="10.80" fill="#006400" />
<rect x="86.40" y="156.20" width="5.60" height="10.80" fill="#006400" />
<text x="29.90" y="171.00" font-size="2.1" fill="#111" text-anchor="end" font-family="Liberation Sans, Arial, sans-serif" stroke="#111" stroke-width="0.1" >CG Island</text>
<rect x="41.50" y="173.20" width="12.65" height="7.60" fill="#ff7f00" />
<rect x="54.00" y="173.20" width="16.25" height="7.60" fill="#cab2d6" />
<rect x="70.10" y="173.20" width="16.25" height="7.60" fill="#ff7f00" />
<rect x="86.20" y="173.20" width="3.85" height="7.60" fill="#e31a1c" />
<rect x="89.90" y="173.20" width="8.95" height="7.60" fill="#ff7f00" />
<rect x="98.70" y="173.20" width="6.95" height="7.60" fill="#cab2d6" />
<rect x="105.50" y="173.20" width="1.65" height="7.60" fill="#fdbf6f" />
<rect x="107.00" y="173.20" width="13.25" height="7.60" fill="#b2df8a" />
<rect x="120.10" y="173.20" width="8.95" height="7.60" fill="#cab2d6" />
<rect x="128.90" y="173.20" width="3.45" height="7.60" fill="#ff7f00" />
<rect x="132.20" y="173.20" width="21.75" height="7.60" fill="#cab2d6" />
<rect x="153.80" y="173.20" width="1.35" height="7.60" fill="#b2df8a" />
<rect x="155.00" y="173.20" width="74.55" height="7.60" fill="#33a02c" />
<rect x="229.40" y="173.20" width="5.65" height="7.60" fill="#00e5ee" />
<rect x="234.90" y="173.20" width="2.15" height="7.60" fill="#fdbf6f" />
<rect x="236.90" y="173.20" width="5.15" height="7.60" fill="#cab2d6" />
<rect x="241.90" y="173.20" width="3.85" height="7.60" fill="#fdbf6f" />
<rect x="245.60" y="173.20" width="8.65" height="7.60" fill="#cab2d6" />
<rect x="254.10" y="173.20" width="9.15" height="7.60" fill="#ff7f00" />
<rect x="263.10" y="173.20" width="3.95" height="7.60" fill="#cab2d6" />
<rect x="266.90" y="173.20" width="3.35" height="7.60" fill="#ff7f00" />
<rect x="270.10" y="173.20" width="5.65" height="7.60" fill="#cab2d6" />
<rect x="275.60" y="173.20" width="3.65" height="7.60" fill="#fdbf6f" />
<rect x="279.10" y="173.20" width="14.35" height="7.60" fill="#00e5ee" />
<rect x="293.30" y="173.20" width="10.85" height="7.60" fill="#b2df8a" />
<rect x="304.00" y="173.20" width="8.65" height="7.60" fill="#cab2d6" />
<text x="29.90" y="180.80" font-size="2.1" fill="#111" text-anchor="end" font-family="Liberation Sans, Arial, sans-serif" stroke="#111" stroke-width="0.1" >Broad ChromHMM</text>
<line x1="42.00" y1="191.80" x2="312.50" y2="191.80" stroke="#add8e6" stroke-width="0.45" />
<rect x="41.96" y="188.00" width="1.26" height="7.60" fill="#add8e6" />
<rect x="44.22" y="188.00" width="1.51" height="7.60" fill="#add8e6" />
<rect x="46.23" y="188.00" width="7.54" height="7.60" fill="#add8e6" />
<rect x="55.78" y="188.00" width="7.54" height="7.60" fill="#add8e6" />
<rect x="63.82" y="188.00" width="7.29" height="7.60" fill="#add8e6" />
<rect x="71.61" y="188.00" width="7.29" height="7.60" fill="#add8e6" />
<rect x="79.90" y="188.00" width="6.78" height="7.60" fill="#add8e6" />
<rect x="87.19" y="188.00" width="5.78" height="7.60" fill="#add8e6" />
<rect x="93.72" y="188.00" width="1.26" height="7.60" fill="#add8e6" />
<rect x="95.48" y="188.00" width="5.53" height="7.60" fill="#add8e6" />
<rect x="101.76" y="188.00" width="1.26" height="7.60" fill="#add8e6" />
<rect x="105.53" y="188.00" width="8.79" height="7.60" fill="#add8e6" />
<rect x="114.82" y="188.00" width="2.76" height="7.60" fill="#add8e6" />
<rect x="118.09" y="188.00" width="4.27" height="7.60" fill="#add8e6" />
<rect x="123.12" y="188.00" width="3.77" height="7.60" fill="#add8e6" />
<rect x="127.39" y="188.00" width="5.53" height="7.60" fill="#add8e6" />
<rect x="134.42" y="188.00" width="1.26" height="7.60" fill="#add8e6" />
<rect x="137.69" y="188.00" width="1.26" height="7.60" fill="#add8e6" />
<rect x="149.25" y="188.00" width="2.01" height="7.60" fill="#add8e6" />
<rect x="196.96" y="188.00" width="2.00" height="7.60" fill="#add8e6" />
<rect x="199.46" y="188.00" width="9.24" height="7.60" fill="#add8e6" />
<rect x="209.94" y="188.00" width="5.74" height="7.60" fill="#add8e6" />
<rect x="216.93" y="188.00" width="16.72" height="7.60" fill="#add8e6" />
<rect x="234.91" y="188.00" width="2.50" height="7.60" fill="#add8e6" />
<rect x="237.90" y="188.00" width="4.74" height="7.60" fill="#add8e6" />
<rect x="252.38" y="188.00" width="5.24" height="7.60" fill="#add8e6" />
<rect x="258.62" y="188.00" width="3.74" height="7.60" fill="#add8e6" />
<rect x="265.86" y="188.00" width="2.00" height="7.60" fill="#add8e6" />
<rect x="271.85" y="188.00" width="1.75" height="7.60" fill="#add8e6" />
<rect x="277.34" y="188.00" width="3.74" height="7.60" fill="#add8e6" />
<rect x="282.33" y="188.00" width="2.00" height="7.60" fill="#add8e6" />
<rect x="284.83" y="188.00" width="3.49" height="7.60" fill="#add8e6" />
<rect x="288.82" y="188.00" width="3.49" height="7.60" fill="#add8e6" />
<rect x="305.80" y="188.00" width="6.74" height="7.60" fill="#add8e6" />
<text x="29.90" y="192.90" font-size="2.1" fill="#111" text-anchor="end" font-family="Liberation Sans, Arial, sans-serif" stroke="#111" stroke-width="0.1" >DNase Clusters</text>
<line x1="47.20" y1="207.00" x2="309.00" y2="207.00" stroke="#b5ecf5" stroke-width="0.45" />
<rect x="47.20" y="203.10" width="3.60" height="7.80" fill="#97f0fb" />
<rect x="109.30" y="203.10" width="5.50" height="7.80" fill="#ffcc00" />
<rect x="118.10" y="203.10" width="40.90" height="7.80" fill="#add8e6" />
<rect x="169.60" y="203.10" width="4.40" height="7.80" fill="#add8e6" />
<rect x="197.70" y="203.10" width="24.70" height="7.80" fill="#add8e6" />
<rect x="238.40" y="203.10" width="3.50" height="7.80" fill="#97f0fb" />
<rect x="252.40" y="203.10" width="3.50" height="7.80" fill="#97f0fb" />
<rect x="259.40" y="203.10" width="1.70" height="7.80" fill="#97f0fb" />
<rect x="304.30" y="203.10" width="4.70" height="7.80" fill="#97f0fb" />
<text x="29.90" y="204.90" font-size="2.1" fill="#111" text-anchor="end" font-family="Liberation Sans, Arial, sans-serif" stroke="#111" stroke-width="0.1" >Regulation ENSEMBL</text>
<text x="29.90" y="214.70" font-size="2.1" fill="#111" text-anchor="end" font-family="Liberation Sans, Arial, sans-serif" stroke="#111" stroke-width="0.1" >SNP UCSC</text>
<rect x="44.18" y="216.40" width="0.64" height="11.30" fill="#666" />
<rect x="45.79" y="216.40" width="0.77" height="11.30" fill="#000" />
<rect x="47.94" y="216.40" width="0.37" height="11.30" fill="#666" />
<rect x="49.81" y="216.40" width="0.51" height="11.30" fill="#000" />
<rect x="51.16" y="216.40" width="0.77" height="11.30" fill="#000" />
<rect x="52.63" y="216.40" width="0.64" height="11.30" fill="#000" />
<rect x="53.98" y="216.40" width="0.91" height="11.30" fill="#000" />
<rect x="55.59" y="216.40" width="1.04" height="11.30" fill="#000" />
<rect x="57.60" y="216.40" width="0.51" height="11.30" fill="#666" />
<rect x="59.21" y="216.40" width="0.77" height="11.30" fill="#000" />
<rect x="65.38" y="216.40" width="0.64" height="11.30" fill="#000" />
<rect x="67.00" y="216.40" width="0.77" height="11.30" fill="#000" />
<rect x="77.06" y="216.40" width="1.71" height="11.30" fill="#000" />
<rect x="80.42" y="216.40" width="1.04" height="11.30" fill="#000" />
<rect x="82.30" y="216.40" width="0.77" height="11.30" fill="#666" />
<rect x="84.18" y="216.40" width="0.77" height="11.30" fill="#000" />
<rect x="86.06" y="216.40" width="0.77" height="11.30" fill="#000" />
<rect x="87.67" y="216.40" width="1.04" height="11.30" fill="#000" />
<rect x="92.50" y="216.40" width="1.31" height="11.30" fill="#666" />
<rect x="94.51" y="216.40" width="3.32" height="11.30" fill="#000" />
<rect x="99.88" y="216.40" width="1.44" height="11.30" fill="#000" />
<rect x="102.97" y="216.40" width="1.04" height="11.30" fill="#000" />
<rect x="105.25" y="216.40" width="0.64" height="11.30" fill="#000" />
<rect x="106.86" y="216.40" width="0.77" height="11.30" fill="#666" />
<rect x="108.61" y="216.40" width="0.77" height="11.30" fill="#000" />
<rect x="110.49" y="216.40" width="0.77" height="11.30" fill="#000" />
<rect x="112.10" y="216.40" width="0.91" height="11.30" fill="#000" />
<rect x="113.71" y="216.40" width="1.04" height="11.30" fill="#000" />
<rect x="120.96" y="216.40" width="0.77" height="11.30" fill="#000" />
<rect x="126.06" y="216.40" width="0.77" height="11.30" fill="#000" />
<rect x="128.07" y="216.40" width="0.37" height="11.30" fill="#666" />
<rect x="131.43" y="216.40" width="1.04" height="11.30" fill="#000" />
<rect x="130.82" y="216.40" width="0.64" height="11.30" fill="#666" />
<rect x="144.24" y="216.40" width="0.64" height="11.30" fill="#666" />
<rect x="154.04" y="216.40" width="0.51" height="11.30" fill="#000" />
<rect x="160.75" y="216.40" width="1.31" height="11.30" fill="#000" />
<rect x="163.98" y="216.40" width="1.04" height="11.30" fill="#666" />
<rect x="165.32" y="216.40" width="2.79" height="11.30" fill="#000" />
<rect x="173.10" y="216.40" width="0.51" height="11.30" fill="#000" />
<rect x="180.49" y="216.40" width="0.64" height="11.30" fill="#000" />
<rect x="182.10" y="216.40" width="0.64" height="11.30" fill="#000" />
<rect x="187.20" y="216.40" width="0.51" height="11.30" fill="#000" />
<rect x="188.81" y="216.40" width="0.64" height="11.30" fill="#000" />
<rect x="192.16" y="216.40" width="1.04" height="11.30" fill="#666" />
<rect x="193.51" y="216.40" width="2.12" height="11.30" fill="#000" />
<rect x="200.49" y="216.40" width="0.77" height="11.30" fill="#666" />
<rect x="210.42" y="216.40" width="0.77" height="11.30" fill="#666" />
<rect x="212.03" y="216.40" width="1.31" height="11.30" fill="#000" />
<rect x="214.45" y="216.40" width="0.77" height="11.30" fill="#000" />
<rect x="223.22" y="216.40" width="1.31" height="11.30" fill="#000" />
<rect x="225.37" y="216.40" width="1.04" height="11.30" fill="#000" />
<rect x="227.25" y="216.40" width="1.04" height="11.30" fill="#000" />
<rect x="229.13" y="216.40" width="0.77" height="11.30" fill="#000" />
<rect x="230.74" y="216.40" width="0.77" height="11.30" fill="#000" />
<rect x="234.23" y="216.40" width="2.12" height="11.30" fill="#000" />
<rect x="239.60" y="216.40" width="1.31" height="11.30" fill="#666" />
<rect x="241.21" y="216.40" width="5.87" height="11.30" fill="#000" />
<rect x="250.07" y="216.40" width="1.04" height="11.30" fill="#000" />
<rect x="251.95" y="216.40" width="0.77" height="11.30" fill="#000" />
<rect x="253.56" y="216.40" width="1.04" height="11.30" fill="#000" />
<rect x="255.44" y="216.40" width="0.51" height="11.30" fill="#666" />
<rect x="259.47" y="216.40" width="1.31" height="11.30" fill="#000" />
<rect x="261.88" y="216.40" width="1.58" height="11.30" fill="#000" />
<rect x="264.57" y="216.40" width="1.04" height="11.30" fill="#000" />
<rect x="266.45" y="216.40" width="1.04" height="11.30" fill="#000" />
<rect x="271.14" y="216.40" width="0.64" height="11.30" fill="#666" />
<rect x="274.50" y="216.40" width="0.51" height="11.30" fill="#666" />
<rect x="276.65" y="216.40" width="0.77" height="11.30" fill="#666" />
<rect x="281.21" y="216.40" width="1.85" height="11.30" fill="#000" />
<rect x="285.24" y="216.40" width="1.31" height="11.30" fill="#000" />
<rect x="287.65" y="216.40" width="0.77" height="11.30" fill="#000" />
<rect x="289.26" y="216.40" width="1.04" height="11.30" fill="#000" />
<rect x="291.41" y="216.40" width="1.04" height="11.30" fill="#000" />
<rect x="293.56" y="216.40" width="1.31" height="11.30" fill="#000" />
<rect x="298.12" y="216.40" width="1.85" height="11.30" fill="#000" />
<rect x="303.49" y="216.40" width="1.04" height="11.30" fill="#666" />
<rect x="304.83" y="216.40" width="2.92" height="11.30" fill="#000" />
<rect x="310.20" y="216.40" width="1.85" height="11.30" fill="#000" />
<text x="26.00" y="235.90" font-size="2.0" fill="#333" text-anchor="start" font-family="Liberation Sans, Arial, sans-serif" stroke="#333" stroke-width="0.05" >368000 bp</text>
<text x="316.80" y="235.90" font-size="2.0" fill="#333" text-anchor="start" font-family="Liberation Sans, Arial, sans-serif" stroke="#333" stroke-width="0.05" >429600 bp</text>
<line x1="42.00" y1="235.50" x2="312.50" y2="235.50" stroke="#d9d9d9" stroke-width="0.3" />
<clipPath id="cA"><rect x="38" y="234" width="278" height="8.8"/></clipPath><g clip-path="url(#cA)">
<line x1="41.96" y1="235.70" x2="41.96" y2="236.40" stroke="#222" stroke-width="0.4" />
<line x1="41.96" y1="236.40" x2="41.96" y2="239.00" stroke="#aaa" stroke-width="0.12" />
<line x1="41.96" y1="238.90" x2="43.66" y2="243.60" stroke="#000" stroke-width="0.62" />
<line x1="42.00" y1="235.70" x2="42.00" y2="236.40" stroke="#222" stroke-width="0.4" />
<line x1="42.00" y1="236.40" x2="42.00" y2="239.00" stroke="#aaa" stroke-width="0.12" />
<line x1="42.00" y1="238.90" x2="44.98" y2="243.60" stroke="#000" stroke-width="0.62" />
<line x1="42.10" y1="235.70" x2="42.10" y2="236.40" stroke="#222" stroke-width="0.4" />
<line x1="42.10" y1="236.40" x2="42.10" y2="239.00" stroke="#aaa" stroke-width="0.12" />
<line x1="42.10" y1="238.90" x2="46.30" y2="243.60" stroke="#000" stroke-width="0.62" />
<line x1="42.18" y1="235.70" x2="42.18" y2="236.40" stroke="#222" stroke-width="0.4" />
<line x1="42.18" y1="236.40" x2="42.18" y2="239.00" stroke="#aaa" stroke-width="0.12" />
<line x1="42.18" y1="238.90" x2="47.62" y2="243.60" stroke="#000" stroke-width="0.62" />
<line x1="42.20" y1="235.70" x2="42.20" y2="236.40" stroke="#222" stroke-width="0.4" />
<line x1="42.20" y1="236.40" x2="42.20" y2="239.00" stroke="#aaa" stroke-width="0.12" />
<line x1="42.20" y1="238.90" x2="48.94" y2="243.60" stroke="#000" stroke-width="0.62" />
<line x1="42.41" y1="235.70" x2="42.41" y2="236.40" stroke="#222" stroke-width="0.4" />
<line x1="42.41" y1="236.40" x2="42.41" y2="239.00" stroke="#aaa" stroke-width="0.12" />
<line x1="42.41" y1="238.90" x2="50.26" y2="243.60" stroke="#000" stroke-width="0.62" />
<line x1="42.56" y1="235.70" x2="42.56" y2="236.40" stroke="#222" stroke-width="0.4" />
<line x1="42.56" y1="236.40" x2="42.56" y2="239.00" stroke="#aaa" stroke-width="0.12" />
<line x1="42.56" y1="238.90" x2="51.58" y2="243.60" stroke="#000" stroke-width="0.62" />
<line x1="42.67" y1="235.70" x2="42.67" y2="236.40" stroke="#222" stroke-width="0.4" />
<line x1="42.67" y1="236.40" x2="42.67" y2="239.00" stroke="#aaa" stroke-width="0.12" />
<line x1="42.67" y1="238.90" x2="52.90" y2="243.60" stroke="#000" stroke-width="0.62" />
<line x1="42.74" y1="235.70" x2="42.74" y2="236.40" stroke="#222" stroke-width="0.4" />
<line x1="42.74" y1="236.40" x2="42.74" y2="239.00" stroke="#aaa" stroke-width="0.12" />
<line x1="42.74" y1="238.90" x2="54.22" y2="243.60" stroke="#000" stroke-width="0.62" />
<line x1="43.02" y1="235.70" x2="43.02" y2="236.40" stroke="#222" stroke-width="0.4" />
<line x1="43.02" y1="236.40" x2="43.02" y2="239.00" stroke="#aaa" stroke-width="0.12" />
<line x1="43.02" y1="238.90" x2="55.54" y2="243.60" stroke="#000" stroke-width="0.62" />
<line x1="43.16" y1="235.70" x2="43.16" y2="236.40" stroke="#222" stroke-width="0.4" />
<line x1="43.16" y1="236.40" x2="43.16" y2="239.00" stroke="#aaa" stroke-width="0.12" />
<line x1="43.16" y1="238.90" x2="56.86" y2="243.60" stroke="#000" stroke-width="0.62" />
<line x1="43.36" y1="235.70" x2="43.36" y2="236.40" stroke="#222" stroke-width="0.4" />
<line x1="43.36" y1="236.40" x2="43.36" y2="239.00" stroke="#aaa" stroke-width="0.12" />
<line x1="43.36" y1="238.90" x2="58.18" y2="243.60" stroke="#000" stroke-width="0.62" />
<line x1="43.47" y1="235.70" x2="43.47" y2="236.40" stroke="#222" stroke-width="0.4" />
<line x1="43.47" y1="236.40" x2="43.47" y2="239.00" stroke="#aaa" stroke-width="0.12" />
<line x1="43.47" y1="238.90" x2="59.50" y2="243.60" stroke="#000" stroke-width="0.62" />
<line x1="43.58" y1="235.70" x2="43.58" y2="236.40" stroke="#222" stroke-width="0.4" />
<line x1="43.58" y1="236.40" x2="43.58" y2="239.00" stroke="#aaa" stroke-width="0.12" />
<line x1="43.58" y1="238.90" x2="60.82" y2="243.60" stroke="#000" stroke-width="0.62" />
<line x1="43.93" y1="235.70" x2="43.93" y2="236.40" stroke="#222" stroke-width="0.4" />
<line x1="43.93" y1="236.40" x2="43.93" y2="239.00" stroke="#aaa" stroke-width="0.12" />
<line x1="43.93" y1="238.90" x2="62.14" y2="243.60" stroke="#000" stroke-width="0.62" />
<line x1="44.05" y1="235.70" x2="44.05" y2="236.40" stroke="#222" stroke-width="0.4" />
<line x1="44.05" y1="236.40" x2="44.05" y2="239.00" stroke="#aaa" stroke-width="0.12" />
<line x1="44.05" y1="238.90" x2="63.46" y2="243.60" stroke="#000" stroke-width="0.62" />
<line x1="44.10" y1="235.70" x2="44.10" y2="236.40" stroke="#222" stroke-width="0.4" />
<line x1="44.10" y1="236.40" x2="44.10" y2="239.00" stroke="#aaa" stroke-width="0.12" />
<line x1="44.10" y1="238.90" x2="64.78" y2="243.60" stroke="#000" stroke-width="0.62" />
<line x1="44.44" y1="235.70" x2="44.44" y2="236.40" stroke="#222" stroke-width="0.4" />
<line x1="44.44" y1="236.40" x2="44.44" y2="239.00" stroke="#aaa" stroke-width="0.12" />
<line x1="44.44" y1="238.90" x2="66.10" y2="243.60" stroke="#000" stroke-width="0.62" />
<line x1="44.70" y1="235.70" x2="44.70" y2="236.40" stroke="#222" stroke-width="0.4" />
<line x1="44.70" y1="236.40" x2="44.70" y2="239.00" stroke="#aaa" stroke-width="0.12" />
<line x1="44.70" y1="238.90" x2="67.42" y2="243.60" stroke="#000" stroke-width="0.62" />
<line x1="45.23" y1="235.70" x2="45.23" y2="236.40" stroke="#222" stroke-width="0.4" />
<line x1="45.23" y1="236.40" x2="45.23" y2="239.00" stroke="#aaa" stroke-width="0.12" />
<line x1="45.23" y1="238.90" x2="68.74" y2="243.60" stroke="#000" stroke-width="0.62" />
<line x1="45.90" y1="235.70" x2="45.90" y2="236.40" stroke="#222" stroke-width="0.4" />
<line x1="45.90" y1="236.40" x2="45.90" y2="239.00" stroke="#aaa" stroke-width="0.12" />
<line x1="45.90" y1="238.90" x2="70.06" y2="243.60" stroke="#000" stroke-width="0.62" />
<line x1="47.00" y1="235.70" x2="47.00" y2="236.40" stroke="#222" stroke-width="0.4" />
<line x1="47.00" y1="236.40" x2="47.00" y2="239.00" stroke="#aaa" stroke-width="0.12" />
<line x1="47.00" y1="238.90" x2="71.38" y2="243.60" stroke="#000" stroke-width="0.62" />
<line x1="52.00" y1="235.70" x2="52.00" y2="236.40" stroke="#222" stroke-width="0.4" />
<line x1="52.00" y1="236.40" x2="52.00" y2="239.00" stroke="#aaa" stroke-width="0.12" />
<line x1="52.00" y1="238.90" x2="72.70" y2="243.60" stroke="#000" stroke-width="0.62" />
<line x1="52.00" y1="235.70" x2="52.00" y2="236.40" stroke="#222" stroke-width="0.4" />
<line x1="52.00" y1="236.40" x2="52.00" y2="239.00" stroke="#aaa" stroke-width="0.12" />
<line x1="52.00" y1="238.90" x2="74.02" y2="243.60" stroke="#000" stroke-width="0.62" />
<line x1="52.00" y1="235.70" x2="52.00" y2="236.40" stroke="#222" stroke-width="0.4" />
<line x1="52.00" y1="236.40" x2="52.00" y2="239.00" stroke="#aaa" stroke-width="0.12" />
<line x1="52.00" y1="238.90" x2="75.34" y2="243.60" stroke="#000" stroke-width="0.62" />
<line x1="56.88" y1="235.70" x2="56.88" y2="236.40" stroke="#222" stroke-width="0.4" />
<line x1="56.88" y1="236.40" x2="56.88" y2="239.00" stroke="#aaa" stroke-width="0.12" />
<line x1="56.88" y1="238.90" x2="76.67" y2="243.60" stroke="#000" stroke-width="0.62" />
<line x1="60.05" y1="235.70" x2="60.05" y2="236.40" stroke="#222" stroke-width="0.4" />
<line x1="60.05" y1="236.40" x2="60.05" y2="239.00" stroke="#aaa" stroke-width="0.12" />
<line x1="60.05" y1="238.90" x2="77.99" y2="243.60" stroke="#000" stroke-width="0.62" />
<line x1="62.33" y1="235.70" x2="62.33" y2="236.40" stroke="#222" stroke-width="0.4" />
<line x1="62.33" y1="236.40" x2="62.33" y2="239.00" stroke="#aaa" stroke-width="0.12" />
<line x1="62.33" y1="238.90" x2="79.31" y2="243.60" stroke="#000" stroke-width="0.62" />
<line x1="71.96" y1="235.70" x2="71.96" y2="236.40" stroke="#222" stroke-width="0.4" />
<line x1="71.96" y1="236.40" x2="71.96" y2="239.00" stroke="#aaa" stroke-width="0.12" />
<line x1="71.96" y1="238.90" x2="80.63" y2="243.60" stroke="#000" stroke-width="0.62" />
<line x1="72.00" y1="235.70" x2="72.00" y2="236.40" stroke="#222" stroke-width="0.4" />
<line x1="72.00" y1="236.40" x2="72.00" y2="239.00" stroke="#aaa" stroke-width="0.12" />
<line x1="72.00" y1="238.90" x2="81.95" y2="243.60" stroke="#000" stroke-width="0.62" />
<line x1="72.70" y1="235.70" x2="72.70" y2="236.40" stroke="#222" stroke-width="0.4" />
<line x1="72.70" y1="236.40" x2="72.70" y2="239.00" stroke="#aaa" stroke-width="0.12" />
<line x1="72.70" y1="238.90" x2="83.27" y2="243.60" stroke="#000" stroke-width="0.62" />
<line x1="73.11" y1="235.70" x2="73.11" y2="236.40" stroke="#222" stroke-width="0.4" />
<line x1="73.11" y1="236.40" x2="73.11" y2="239.00" stroke="#aaa" stroke-width="0.12" />
<line x1="73.11" y1="238.90" x2="84.59" y2="243.60" stroke="#000" stroke-width="0.62" />
<line x1="74.03" y1="235.70" x2="74.03" y2="236.40" stroke="#222" stroke-width="0.4" />
<line x1="74.03" y1="236.40" x2="74.03" y2="239.00" stroke="#aaa" stroke-width="0.12" />
<line x1="74.03" y1="238.90" x2="85.91" y2="243.60" stroke="#000" stroke-width="0.62" />
<line x1="75.07" y1="235.70" x2="75.07" y2="236.40" stroke="#222" stroke-width="0.4" />
<line x1="75.07" y1="236.40" x2="75.07" y2="239.00" stroke="#aaa" stroke-width="0.12" />
<line x1="75.07" y1="238.90" x2="87.23" y2="243.60" stroke="#000" stroke-width="0.62" />
<line x1="75.90" y1="235.70" x2="75.90" y2="236.40" stroke="#222" stroke-width="0.4" />
<line x1="75.90" y1="236.40" x2="75.90" y2="239.00" stroke="#aaa" stroke-width="0.12" />
<line x1="75.90" y1="238.90" x2="88.55" y2="243.60" stroke="#000" stroke-width="0.62" />
<line x1="76.00" y1="235.70" x2="76.00" y2="236.40" stroke="#222" stroke-width="0.4" />
<line x1="76.00" y1="236.40" x2="76.00" y2="239.00" stroke="#aaa" stroke-width="0.12" />
<line x1="76.00" y1="238.90" x2="89.87" y2="243.60" stroke="#000" stroke-width="0.62" />
<line x1="76.47" y1="235.70" x2="76.47" y2="236.40" stroke="#222" stroke-width="0.4" />
<line x1="76.47" y1="236.40" x2="76.47" y2="239.00" stroke="#aaa" stroke-width="0.12" />
<line x1="76.47" y1="238.90" x2="91.19" y2="243.60" stroke="#000" stroke-width="0.62" />
<line x1="77.55" y1="235.70" x2="77.55" y2="236.40" stroke="#222" stroke-width="0.4" />
<line x1="77.55" y1="236.40" x2="77.55" y2="239.00" stroke="#aaa" stroke-width="0.12" />
<line x1="77.55" y1="238.90" x2="92.51" y2="243.60" stroke="#000" stroke-width="0.62" />
<line x1="77.56" y1="235.70" x2="77.56" y2="236.40" stroke="#222" stroke-width="0.4" />
<line x1="77.56" y1="236.40" x2="77.56" y2="239.00" stroke="#aaa" stroke-width="0.12" />
<line x1="77.56" y1="238.90" x2="93.83" y2="243.60" stroke="#000" stroke-width="0.62" />
<line x1="78.12" y1="235.70" x2="78.12" y2="236.40" stroke="#222" stroke-width="0.4" />
<line x1="78.12" y1="236.40" x2="78.12" y2="239.00" stroke="#aaa" stroke-width="0.12" />
<line x1="78.12" y1="238.90" x2="95.15" y2="243.60" stroke="#000" stroke-width="0.62" />
<line x1="78.40" y1="235.70" x2="78.40" y2="236.40" stroke="#222" stroke-width="0.4" />
<line x1="78.40" y1="236.40" x2="78.40" y2="239.00" stroke="#aaa" stroke-width="0.12" />
<line x1="78.40" y1="238.90" x2="96.47" y2="243.60" stroke="#000" stroke-width="0.62" />
<line x1="78.81" y1="235.70" x2="78.81" y2="236.40" stroke="#222" stroke-width="0.4" />
<line x1="78.81" y1="236.40" x2="78.81" y2="239.00" stroke="#aaa" stroke-width="0.12" />
<line x1="78.81" y1="238.90" x2="97.79" y2="243.60" stroke="#000" stroke-width="0.62" />
<line x1="79.90" y1="235.70" x2="79.90" y2="236.40" stroke="#222" stroke-width="0.4" />
<line x1="79.90" y1="236.40" x2="79.90" y2="239.00" stroke="#aaa" stroke-width="0.12" />
<line x1="79.90" y1="238.90" x2="99.11" y2="243.60" stroke="#000" stroke-width="0.62" />
<line x1="82.20" y1="235.70" x2="82.20" y2="236.40" stroke="#222" stroke-width="0.4" />
<line x1="82.20" y1="236.40" x2="82.20" y2="239.00" stroke="#aaa" stroke-width="0.12" />
<line x1="82.20" y1="238.90" x2="100.43" y2="243.60" stroke="#000" stroke-width="0.62" />
<line x1="82.70" y1="235.70" x2="82.70" y2="236.40" stroke="#222" stroke-width="0.4" />
<line x1="82.70" y1="236.40" x2="82.70" y2="239.00" stroke="#aaa" stroke-width="0.12" />
<line x1="82.70" y1="238.90" x2="101.75" y2="243.60" stroke="#a34bd1" stroke-width="0.62" />
<line x1="83.00" y1="235.70" x2="83.00" y2="236.40" stroke="#222" stroke-width="0.4" />
<line x1="83.00" y1="236.40" x2="83.00" y2="239.00" stroke="#aaa" stroke-width="0.12" />
<line x1="83.00" y1="238.90" x2="103.07" y2="243.60" stroke="#000" stroke-width="0.62" />
<line x1="84.23" y1="235.70" x2="84.23" y2="236.40" stroke="#222" stroke-width="0.4" />
<line x1="84.23" y1="236.40" x2="84.23" y2="239.00" stroke="#aaa" stroke-width="0.12" />
<line x1="84.23" y1="238.90" x2="104.39" y2="243.60" stroke="#000" stroke-width="0.62" />
<line x1="87.00" y1="235.70" x2="87.00" y2="236.40" stroke="#222" stroke-width="0.4" />
<line x1="87.00" y1="236.40" x2="87.00" y2="239.00" stroke="#aaa" stroke-width="0.12" />
<line x1="87.00" y1="238.90" x2="105.71" y2="243.60" stroke="#000" stroke-width="0.62" />
<line x1="87.94" y1="235.70" x2="87.94" y2="236.40" stroke="#222" stroke-width="0.4" />
<line x1="87.94" y1="236.40" x2="87.94" y2="239.00" stroke="#aaa" stroke-width="0.12" />
<line x1="87.94" y1="238.90" x2="107.03" y2="243.60" stroke="#000" stroke-width="0.62" />
<line x1="88.46" y1="235.70" x2="88.46" y2="236.40" stroke="#222" stroke-width="0.4" />
<line x1="88.46" y1="236.40" x2="88.46" y2="239.00" stroke="#aaa" stroke-width="0.12" />
<line x1="88.46" y1="238.90" x2="108.35" y2="243.60" stroke="#000" stroke-width="0.62" />
<line x1="89.29" y1="235.70" x2="89.29" y2="236.40" stroke="#222" stroke-width="0.4" />
<line x1="89.29" y1="236.40" x2="89.29" y2="239.00" stroke="#aaa" stroke-width="0.12" />
<line x1="89.29" y1="238.90" x2="109.67" y2="243.60" stroke="#000" stroke-width="0.62" />
<line x1="89.62" y1="235.70" x2="89.62" y2="236.40" stroke="#222" stroke-width="0.4" />
<line x1="89.62" y1="236.40" x2="89.62" y2="239.00" stroke="#aaa" stroke-width="0.12" />
<line x1="89.62" y1="238.90" x2="110.99" y2="243.60" stroke="#000" stroke-width="0.62" />
<line x1="90.76" y1="235.70" x2="90.76" y2="236.40" stroke="#222" stroke-width="0.4" />
<line x1="90.76" y1="236.40" x2="90.76" y2="239.00" stroke="#aaa" stroke-width="0.12" />
<line x1="90.76" y1="238.90" x2="112.31" y2="243.60" stroke="#000" stroke-width="0.62" />
<line x1="90.91" y1="235.70" x2="90.91" y2="236.40" stroke="#222" stroke-width="0.4" />
<line x1="90.91" y1="236.40" x2="90.91" y2="239.00" stroke="#aaa" stroke-width="0.12" />
<line x1="90.91" y1="238.90" x2="113.63" y2="243.60" stroke="#000" stroke-width="0.62" />
<line x1="90.95" y1="235.70" x2="90.95" y2="236.40" stroke="#222" stroke-width="0.4" />
<line x1="90.95" y1="236.40" x2="90.95" y2="239.00" stroke="#aaa" stroke-width="0.12" />
<line x1="90.95" y1="238.90" x2="114.95" y2="243.60" stroke="#000" stroke-width="0.62" />
<line x1="93.08" y1="235.70" x2="93.08" y2="236.40" stroke="#222" stroke-width="0.4" />
<line x1="93.08" y1="236.40" x2="93.08" y2="239.00" stroke="#aaa" stroke-width="0.12" />
<line x1="93.08" y1="238.90" x2="116.27" y2="243.60" stroke="#000" stroke-width="0.62" />
<line x1="93.70" y1="235.70" x2="93.70" y2="236.40" stroke="#222" stroke-width="0.4" />
<line x1="93.70" y1="236.40" x2="93.70" y2="239.00" stroke="#aaa" stroke-width="0.12" />
<line x1="93.70" y1="238.90" x2="117.59" y2="243.60" stroke="#000" stroke-width="0.62" />
<line x1="94.25" y1="235.70" x2="94.25" y2="236.40" stroke="#222" stroke-width="0.4" />
<line x1="94.25" y1="236.40" x2="94.25" y2="239.00" stroke="#aaa" stroke-width="0.12" />
<line x1="94.25" y1="238.90" x2="118.91" y2="243.60" stroke="#000" stroke-width="0.62" />
<line x1="94.45" y1="235.70" x2="94.45" y2="236.40" stroke="#222" stroke-width="0.4" />
<line x1="94.45" y1="236.40" x2="94.45" y2="239.00" stroke="#aaa" stroke-width="0.12" />
<line x1="94.45" y1="238.90" x2="120.23" y2="243.60" stroke="#000" stroke-width="0.62" />
<line x1="95.77" y1="235.70" x2="95.77" y2="236.40" stroke="#222" stroke-width="0.4" />
<line x1="95.77" y1="236.40" x2="95.77" y2="239.00" stroke="#aaa" stroke-width="0.12" />
<line x1="95.77" y1="238.90" x2="121.55" y2="243.60" stroke="#000" stroke-width="0.62" />
<line x1="98.65" y1="235.70" x2="98.65" y2="236.40" stroke="#222" stroke-width="0.4" />
<line x1="98.65" y1="236.40" x2="98.65" y2="239.00" stroke="#aaa" stroke-width="0.12" />
<line x1="98.65" y1="238.90" x2="122.87" y2="243.60" stroke="#000" stroke-width="0.62" />
<line x1="98.99" y1="235.70" x2="98.99" y2="236.40" stroke="#222" stroke-width="0.4" />
<line x1="98.99" y1="236.40" x2="98.99" y2="239.00" stroke="#aaa" stroke-width="0.12" />
<line x1="98.99" y1="238.90" x2="124.19" y2="243.60" stroke="#000" stroke-width="0.62" />
<line x1="99.00" y1="235.70" x2="99.00" y2="236.40" stroke="#222" stroke-width="0.4" />
<line x1="99.00" y1="236.40" x2="99.00" y2="239.00" stroke="#aaa" stroke-width="0.12" />
<line x1="99.00" y1="238.90" x2="125.51" y2="243.60" stroke="#000" stroke-width="0.62" />
<line x1="99.46" y1="235.70" x2="99.46" y2="236.40" stroke="#222" stroke-width="0.4" />
<line x1="99.46" y1="236.40" x2="99.46" y2="239.00" stroke="#aaa" stroke-width="0.12" />
<line x1="99.46" y1="238.90" x2="126.83" y2="243.60" stroke="#000" stroke-width="0.62" />
<line x1="99.72" y1="235.70" x2="99.72" y2="236.40" stroke="#222" stroke-width="0.4" />
<line x1="99.72" y1="236.40" x2="99.72" y2="239.00" stroke="#aaa" stroke-width="0.12" />
<line x1="99.72" y1="238.90" x2="128.15" y2="243.60" stroke="#000" stroke-width="0.62" />
<line x1="100.50" y1="235.70" x2="100.50" y2="236.40" stroke="#222" stroke-width="0.4" />
<line x1="100.50" y1="236.40" x2="100.50" y2="239.00" stroke="#aaa" stroke-width="0.12" />
<line x1="100.50" y1="238.90" x2="129.47" y2="243.60" stroke="#000" stroke-width="0.62" />
<line x1="101.71" y1="235.70" x2="101.71" y2="236.40" stroke="#222" stroke-width="0.4" />
<line x1="101.71" y1="236.40" x2="101.71" y2="239.00" stroke="#aaa" stroke-width="0.12" />
<line x1="101.71" y1="238.90" x2="130.79" y2="243.60" stroke="#000" stroke-width="0.62" />
<line x1="102.36" y1="235.70" x2="102.36" y2="236.40" stroke="#222" stroke-width="0.4" />
<line x1="102.36" y1="236.40" x2="102.36" y2="239.00" stroke="#aaa" stroke-width="0.12" />
<line x1="102.36" y1="238.90" x2="132.11" y2="243.60" stroke="#000" stroke-width="0.62" />
<line x1="104.30" y1="235.70" x2="104.30" y2="236.40" stroke="#222" stroke-width="0.4" />
<line x1="104.30" y1="236.40" x2="104.30" y2="239.00" stroke="#aaa" stroke-width="0.12" />
<line x1="104.30" y1="238.90" x2="133.43" y2="243.60" stroke="#000" stroke-width="0.62" />
<line x1="104.52" y1="235.70" x2="104.52" y2="236.40" stroke="#222" stroke-width="0.4" />
<line x1="104.52" y1="236.40" x2="104.52" y2="239.00" stroke="#aaa" stroke-width="0.12" />
<line x1="104.52" y1="238.90" x2="134.75" y2="243.60" stroke="#000" stroke-width="0.62" />
<line x1="104.95" y1="235.70" x2="104.95" y2="236.40" stroke="#222" stroke-width="0.4" />
<line x1="104.95" y1="236.40" x2="104.95" y2="239.00" stroke="#aaa" stroke-width="0.12" />
<line x1="104.95" y1="238.90" x2="136.07" y2="243.60" stroke="#000" stroke-width="0.62" />
<line x1="105.07" y1="235.70" x2="105.07" y2="236.40" stroke="#222" stroke-width="0.4" />
<line x1="105.07" y1="236.40" x2="105.07" y2="239.00" stroke="#aaa" stroke-width="0.12" />
<line x1="105.07" y1="238.90" x2="137.39" y2="243.60" stroke="#000" stroke-width="0.62" />
<line x1="106.47" y1="235.70" x2="106.47" y2="236.40" stroke="#222" stroke-width="0.4" />
<line x1="106.47" y1="236.40" x2="106.47" y2="239.00" stroke="#aaa" stroke-width="0.12" />
<line x1="106.47" y1="238.90" x2="138.71" y2="243.60" stroke="#000" stroke-width="0.62" />
<line x1="108.41" y1="235.70" x2="108.41" y2="236.40" stroke="#222" stroke-width="0.4" />
<line x1="108.41" y1="236.40" x2="108.41" y2="239.00" stroke="#aaa" stroke-width="0.12" />
<line x1="108.41" y1="238.90" x2="140.03" y2="243.60" stroke="#000" stroke-width="0.62" />
<line x1="109.89" y1="235.70" x2="109.89" y2="236.40" stroke="#222" stroke-width="0.4" />
<line x1="109.89" y1="236.40" x2="109.89" y2="239.00" stroke="#aaa" stroke-width="0.12" />
<line x1="109.89" y1="238.90" x2="141.35" y2="243.60" stroke="#000" stroke-width="0.62" />
<line x1="110.96" y1="235.70" x2="110.96" y2="236.40" stroke="#222" stroke-width="0.4" />
<line x1="110.96" y1="236.40" x2="110.96" y2="239.00" stroke="#aaa" stroke-width="0.12" />
<line x1="110.96" y1="238.90" x2="142.67" y2="243.60" stroke="#000" stroke-width="0.62" />
<line x1="113.57" y1="235.70" x2="113.57" y2="236.40" stroke="#222" stroke-width="0.4" />
<line x1="113.57" y1="236.40" x2="113.57" y2="239.00" stroke="#aaa" stroke-width="0.12" />
<line x1="113.57" y1="238.90" x2="144.00" y2="243.60" stroke="#000" stroke-width="0.62" />
<line x1="113.76" y1="235.70" x2="113.76" y2="236.40" stroke="#222" stroke-width="0.4" />
<line x1="113.76" y1="236.40" x2="113.76" y2="239.00" stroke="#aaa" stroke-width="0.12" />
<line x1="113.76" y1="238.90" x2="145.32" y2="243.60" stroke="#000" stroke-width="0.62" />
<line x1="113.77" y1="235.70" x2="113.77" y2="236.40" stroke="#222" stroke-width="0.4" />
<line x1="113.77" y1="236.40" x2="113.77" y2="239.00" stroke="#aaa" stroke-width="0.12" />
<line x1="113.77" y1="238.90" x2="146.64" y2="243.60" stroke="#000" stroke-width="0.62" />
<line x1="114.17" y1="235.70" x2="114.17" y2="236.40" stroke="#222" stroke-width="0.4" />
<line x1="114.17" y1="236.40" x2="114.17" y2="239.00" stroke="#aaa" stroke-width="0.12" />
<line x1="114.17" y1="238.90" x2="147.96" y2="243.60" stroke="#000" stroke-width="0.62" />
<line x1="114.98" y1="235.70" x2="114.98" y2="236.40" stroke="#222" stroke-width="0.4" />
<line x1="114.98" y1="236.40" x2="114.98" y2="239.00" stroke="#aaa" stroke-width="0.12" />
<line x1="114.98" y1="238.90" x2="149.28" y2="243.60" stroke="#000" stroke-width="0.62" />
<line x1="117.23" y1="235.70" x2="117.23" y2="236.40" stroke="#222" stroke-width="0.4" />
<line x1="117.23" y1="236.40" x2="117.23" y2="239.00" stroke="#aaa" stroke-width="0.12" />
<line x1="117.23" y1="238.90" x2="150.60" y2="243.60" stroke="#000" stroke-width="0.62" />
<line x1="118.10" y1="235.70" x2="118.10" y2="236.40" stroke="#222" stroke-width="0.4" />
<line x1="118.10" y1="236.40" x2="118.10" y2="239.00" stroke="#aaa" stroke-width="0.12" />
<line x1="118.10" y1="238.90" x2="151.92" y2="243.60" stroke="#000" stroke-width="0.62" />
<line x1="123.27" y1="235.70" x2="123.27" y2="236.40" stroke="#222" stroke-width="0.4" />
<line x1="123.27" y1="236.40" x2="123.27" y2="239.00" stroke="#aaa" stroke-width="0.12" />
<line x1="123.27" y1="238.90" x2="153.24" y2="243.60" stroke="#000" stroke-width="0.62" />
<line x1="125.17" y1="235.70" x2="125.17" y2="236.40" stroke="#222" stroke-width="0.4" />
<line x1="125.17" y1="236.40" x2="125.17" y2="239.00" stroke="#aaa" stroke-width="0.12" />
<line x1="125.17" y1="238.90" x2="154.56" y2="243.60" stroke="#000" stroke-width="0.62" />
<line x1="130.70" y1="235.70" x2="130.70" y2="236.40" stroke="#222" stroke-width="0.4" />
<line x1="130.70" y1="236.40" x2="130.70" y2="239.00" stroke="#aaa" stroke-width="0.12" />
<line x1="130.70" y1="238.90" x2="155.88" y2="243.60" stroke="#000" stroke-width="0.62" />
<line x1="130.96" y1="235.70" x2="130.96" y2="236.40" stroke="#222" stroke-width="0.4" />
<line x1="130.96" y1="236.40" x2="130.96" y2="239.00" stroke="#aaa" stroke-width="0.12" />
<line x1="130.96" y1="238.90" x2="157.20" y2="243.60" stroke="#000" stroke-width="0.62" />
<line x1="131.12" y1="235.70" x2="131.12" y2="236.40" stroke="#222" stroke-width="0.4" />
<line x1="131.12" y1="236.40" x2="131.12" y2="239.00" stroke="#aaa" stroke-width="0.12" />
<line x1="131.12" y1="238.90" x2="158.52" y2="243.60" stroke="#000" stroke-width="0.62" />
<line x1="131.65" y1="235.70" x2="131.65" y2="236.40" stroke="#222" stroke-width="0.4" />
<line x1="131.65" y1="236.40" x2="131.65" y2="239.00" stroke="#aaa" stroke-width="0.12" />
<line x1="131.65" y1="238.90" x2="159.84" y2="243.60" stroke="#000" stroke-width="0.62" />
<line x1="134.90" y1="235.70" x2="134.90" y2="236.40" stroke="#222" stroke-width="0.4" />
<line x1="134.90" y1="236.40" x2="134.90" y2="239.00" stroke="#aaa" stroke-width="0.12" />
<line x1="134.90" y1="238.90" x2="161.16" y2="243.60" stroke="#000" stroke-width="0.62" />
<line x1="134.91" y1="235.70" x2="134.91" y2="236.40" stroke="#222" stroke-width="0.4" />
<line x1="134.91" y1="236.40" x2="134.91" y2="239.00" stroke="#aaa" stroke-width="0.12" />
<line x1="134.91" y1="238.90" x2="162.48" y2="243.60" stroke="#000" stroke-width="0.62" />
<line x1="139.65" y1="235.70" x2="139.65" y2="236.40" stroke="#222" stroke-width="0.4" />
<line x1="139.65" y1="236.40" x2="139.65" y2="239.00" stroke="#aaa" stroke-width="0.12" />
<line x1="139.65" y1="238.90" x2="163.80" y2="243.60" stroke="#000" stroke-width="0.62" />
<line x1="147.98" y1="235.70" x2="147.98" y2="236.40" stroke="#222" stroke-width="0.4" />
<line x1="147.98" y1="236.40" x2="147.98" y2="239.00" stroke="#aaa" stroke-width="0.12" />
<line x1="147.98" y1="238.90" x2="165.12" y2="243.60" stroke="#000" stroke-width="0.62" />
<line x1="151.78" y1="235.70" x2="151.78" y2="236.40" stroke="#222" stroke-width="0.4" />
<line x1="151.78" y1="236.40" x2="151.78" y2="239.00" stroke="#aaa" stroke-width="0.12" />
<line x1="151.78" y1="238.90" x2="166.44" y2="243.60" stroke="#000" stroke-width="0.62" />
<line x1="154.18" y1="235.70" x2="154.18" y2="236.40" stroke="#222" stroke-width="0.4" />
<line x1="154.18" y1="236.40" x2="154.18" y2="239.00" stroke="#aaa" stroke-width="0.12" />
<line x1="154.18" y1="238.90" x2="167.76" y2="243.60" stroke="#000" stroke-width="0.62" />
<line x1="155.17" y1="235.70" x2="155.17" y2="236.40" stroke="#222" stroke-width="0.4" />
<line x1="155.17" y1="236.40" x2="155.17" y2="239.00" stroke="#aaa" stroke-width="0.12" />
<line x1="155.17" y1="238.90" x2="169.08" y2="243.60" stroke="#000" stroke-width="0.62" />
<line x1="157.80" y1="235.70" x2="157.80" y2="236.40" stroke="#222" stroke-width="0.4" />
<line x1="157.80" y1="236.40" x2="157.80" y2="239.00" stroke="#aaa" stroke-width="0.12" />
<line x1="157.80" y1="238.90" x2="170.40" y2="243.60" stroke="#000" stroke-width="0.62" />
<line x1="157.80" y1="235.70" x2="157.80" y2="236.40" stroke="#222" stroke-width="0.4" />
<line x1="157.80" y1="236.40" x2="157.80" y2="239.00" stroke="#aaa" stroke-width="0.12" />
<line x1="157.80" y1="238.90" x2="171.72" y2="243.60" stroke="#000" stroke-width="0.62" />
<line x1="157.80" y1="235.70" x2="157.80" y2="236.40" stroke="#222" stroke-width="0.4" />
<line x1="157.80" y1="236.40" x2="157.80" y2="239.00" stroke="#aaa" stroke-width="0.12" />
<line x1="157.80" y1="238.90" x2="173.04" y2="243.60" stroke="#000" stroke-width="0.62" />
<line x1="157.80" y1="235.70" x2="157.80" y2="236.40" stroke="#222" stroke-width="0.4" />
<line x1="157.80" y1="236.40" x2="157.80" y2="239.00" stroke="#aaa" stroke-width="0.12" />
<line x1="157.80" y1="238.90" x2="174.36" y2="243.60" stroke="#000" stroke-width="0.62" />
<line x1="158.35" y1="235.70" x2="158.35" y2="236.40" stroke="#222" stroke-width="0.4" />
<line x1="158.35" y1="236.40" x2="158.35" y2="239.00" stroke="#aaa" stroke-width="0.12" />
<line x1="158.35" y1="238.90" x2="175.68" y2="243.60" stroke="#000" stroke-width="0.62" />
<line x1="171.96" y1="235.70" x2="171.96" y2="236.40" stroke="#222" stroke-width="0.4" />
<line x1="171.96" y1="236.40" x2="171.96" y2="239.00" stroke="#aaa" stroke-width="0.12" />
<line x1="171.96" y1="238.90" x2="177.00" y2="243.60" stroke="#000" stroke-width="0.62" />
<line x1="177.00" y1="235.70" x2="177.00" y2="236.40" stroke="#222" stroke-width="0.4" />
<line x1="177.00" y1="236.40" x2="177.00" y2="239.00" stroke="#aaa" stroke-width="0.12" />
<line x1="177.00" y1="238.90" x2="178.32" y2="243.60" stroke="#000" stroke-width="0.62" />
<line x1="177.98" y1="235.70" x2="177.98" y2="236.40" stroke="#222" stroke-width="0.4" />
<line x1="177.98" y1="236.40" x2="177.98" y2="239.00" stroke="#aaa" stroke-width="0.12" />
<line x1="177.98" y1="238.90" x2="179.64" y2="243.60" stroke="#000" stroke-width="0.62" />
<line x1="178.20" y1="235.70" x2="178.20" y2="236.40" stroke="#222" stroke-width="0.4" />
<line x1="178.20" y1="236.40" x2="178.20" y2="239.00" stroke="#aaa" stroke-width="0.12" />
<line x1="178.20" y1="238.90" x2="180.96" y2="243.60" stroke="#000" stroke-width="0.62" />
<line x1="180.67" y1="235.70" x2="180.67" y2="236.40" stroke="#222" stroke-width="0.4" />
<line x1="180.67" y1="236.40" x2="180.67" y2="239.00" stroke="#aaa" stroke-width="0.12" />
<line x1="180.67" y1="238.90" x2="182.28" y2="243.60" stroke="#000" stroke-width="0.62" />
<line x1="181.18" y1="235.70" x2="181.18" y2="236.40" stroke="#222" stroke-width="0.4" />
<line x1="181.18" y1="236.40" x2="181.18" y2="239.00" stroke="#aaa" stroke-width="0.12" />
<line x1="181.18" y1="238.90" x2="183.60" y2="243.60" stroke="#000" stroke-width="0.62" />
<line x1="181.91" y1="235.70" x2="181.91" y2="236.40" stroke="#222" stroke-width="0.4" />
<line x1="181.91" y1="236.40" x2="181.91" y2="239.00" stroke="#aaa" stroke-width="0.12" />
<line x1="181.91" y1="238.90" x2="184.92" y2="243.60" stroke="#000" stroke-width="0.62" />
<line x1="196.53" y1="235.70" x2="196.53" y2="236.40" stroke="#222" stroke-width="0.4" />
<line x1="196.53" y1="236.40" x2="196.53" y2="239.00" stroke="#aaa" stroke-width="0.12" />
<line x1="196.53" y1="238.90" x2="186.24" y2="243.60" stroke="#000" stroke-width="0.62" />
<line x1="196.55" y1="235.70" x2="196.55" y2="236.40" stroke="#222" stroke-width="0.4" />
<line x1="196.55" y1="236.40" x2="196.55" y2="239.00" stroke="#aaa" stroke-width="0.12" />
<line x1="196.55" y1="238.90" x2="187.56" y2="243.60" stroke="#000" stroke-width="0.62" />
<line x1="200.31" y1="235.70" x2="200.31" y2="236.40" stroke="#222" stroke-width="0.4" />
<line x1="200.31" y1="236.40" x2="200.31" y2="239.00" stroke="#aaa" stroke-width="0.12" />
<line x1="200.31" y1="238.90" x2="188.88" y2="243.60" stroke="#000" stroke-width="0.62" />
<line x1="209.16" y1="235.70" x2="209.16" y2="236.40" stroke="#222" stroke-width="0.4" />
<line x1="209.16" y1="236.40" x2="209.16" y2="239.00" stroke="#aaa" stroke-width="0.12" />
<line x1="209.16" y1="238.90" x2="190.20" y2="243.60" stroke="#000" stroke-width="0.62" />
<line x1="210.06" y1="235.70" x2="210.06" y2="236.40" stroke="#222" stroke-width="0.4" />
<line x1="210.06" y1="236.40" x2="210.06" y2="239.00" stroke="#aaa" stroke-width="0.12" />
<line x1="210.06" y1="238.90" x2="191.52" y2="243.60" stroke="#000" stroke-width="0.62" />
<line x1="212.20" y1="235.70" x2="212.20" y2="236.40" stroke="#222" stroke-width="0.4" />
<line x1="212.20" y1="236.40" x2="212.20" y2="239.00" stroke="#aaa" stroke-width="0.12" />
<line x1="212.20" y1="238.90" x2="192.84" y2="243.60" stroke="#000" stroke-width="0.62" />
<line x1="214.17" y1="235.70" x2="214.17" y2="236.40" stroke="#222" stroke-width="0.4" />
<line x1="214.17" y1="236.40" x2="214.17" y2="239.00" stroke="#aaa" stroke-width="0.12" />
<line x1="214.17" y1="238.90" x2="194.16" y2="243.60" stroke="#000" stroke-width="0.62" />
<line x1="215.20" y1="235.70" x2="215.20" y2="236.40" stroke="#222" stroke-width="0.4" />
<line x1="215.20" y1="236.40" x2="215.20" y2="239.00" stroke="#aaa" stroke-width="0.12" />
<line x1="215.20" y1="238.90" x2="195.48" y2="243.60" stroke="#000" stroke-width="0.62" />
<line x1="215.71" y1="235.70" x2="215.71" y2="236.40" stroke="#222" stroke-width="0.4" />
<line x1="215.71" y1="236.40" x2="215.71" y2="239.00" stroke="#aaa" stroke-width="0.12" />
<line x1="215.71" y1="238.90" x2="196.80" y2="243.60" stroke="#000" stroke-width="0.62" />
<line x1="219.24" y1="235.70" x2="219.24" y2="236.40" stroke="#222" stroke-width="0.4" />
<line x1="219.24" y1="236.40" x2="219.24" y2="239.00" stroke="#aaa" stroke-width="0.12" />
<line x1="219.24" y1="238.90" x2="198.12" y2="243.60" stroke="#000" stroke-width="0.62" />
<line x1="221.35" y1="235.70" x2="221.35" y2="236.40" stroke="#222" stroke-width="0.4" />
<line x1="221.35" y1="236.40" x2="221.35" y2="239.00" stroke="#aaa" stroke-width="0.12" />
<line x1="221.35" y1="238.90" x2="199.44" y2="243.60" stroke="#000" stroke-width="0.62" />
<line x1="222.31" y1="235.70" x2="222.31" y2="236.40" stroke="#222" stroke-width="0.4" />
<line x1="222.31" y1="236.40" x2="222.31" y2="239.00" stroke="#aaa" stroke-width="0.12" />
<line x1="222.31" y1="238.90" x2="200.76" y2="243.60" stroke="#000" stroke-width="0.62" />
<line x1="223.50" y1="235.70" x2="223.50" y2="236.40" stroke="#222" stroke-width="0.4" />
<line x1="223.50" y1="236.40" x2="223.50" y2="239.00" stroke="#aaa" stroke-width="0.12" />
<line x1="223.50" y1="238.90" x2="202.08" y2="243.60" stroke="#000" stroke-width="0.62" />
<line x1="224.16" y1="235.70" x2="224.16" y2="236.40" stroke="#222" stroke-width="0.4" />
<line x1="224.16" y1="236.40" x2="224.16" y2="239.00" stroke="#aaa" stroke-width="0.12" />
<line x1="224.16" y1="238.90" x2="203.40" y2="243.60" stroke="#000" stroke-width="0.62" />
<line x1="224.84" y1="235.70" x2="224.84" y2="236.40" stroke="#222" stroke-width="0.4" />
<line x1="224.84" y1="236.40" x2="224.84" y2="239.00" stroke="#aaa" stroke-width="0.12" />
<line x1="224.84" y1="238.90" x2="204.72" y2="243.60" stroke="#000" stroke-width="0.62" />
<line x1="225.55" y1="235.70" x2="225.55" y2="236.40" stroke="#222" stroke-width="0.4" />
<line x1="225.55" y1="236.40" x2="225.55" y2="239.00" stroke="#aaa" stroke-width="0.12" />
<line x1="225.55" y1="238.90" x2="206.04" y2="243.60" stroke="#000" stroke-width="0.62" />
<line x1="226.34" y1="235.70" x2="226.34" y2="236.40" stroke="#222" stroke-width="0.4" />
<line x1="226.34" y1="236.40" x2="226.34" y2="239.00" stroke="#aaa" stroke-width="0.12" />
<line x1="226.34" y1="238.90" x2="207.36" y2="243.60" stroke="#000" stroke-width="0.62" />
<line x1="227.42" y1="235.70" x2="227.42" y2="236.40" stroke="#222" stroke-width="0.4" />
<line x1="227.42" y1="236.40" x2="227.42" y2="239.00" stroke="#aaa" stroke-width="0.12" />
<line x1="227.42" y1="238.90" x2="208.68" y2="243.60" stroke="#000" stroke-width="0.62" />
<line x1="227.59" y1="235.70" x2="227.59" y2="236.40" stroke="#222" stroke-width="0.4" />
<line x1="227.59" y1="236.40" x2="227.59" y2="239.00" stroke="#aaa" stroke-width="0.12" />
<line x1="227.59" y1="238.90" x2="210.00" y2="243.60" stroke="#000" stroke-width="0.62" />
<line x1="227.97" y1="235.70" x2="227.97" y2="236.40" stroke="#222" stroke-width="0.4" />
<line x1="227.97" y1="236.40" x2="227.97" y2="239.00" stroke="#aaa" stroke-width="0.12" />
<line x1="227.97" y1="238.90" x2="211.33" y2="243.60" stroke="#000" stroke-width="0.62" />
<line x1="231.63" y1="235.70" x2="231.63" y2="236.40" stroke="#222" stroke-width="0.4" />
<line x1="231.63" y1="236.40" x2="231.63" y2="239.00" stroke="#aaa" stroke-width="0.12" />
<line x1="231.63" y1="238.90" x2="212.65" y2="243.60" stroke="#000" stroke-width="0.62" />
<line x1="232.52" y1="235.70" x2="232.52" y2="236.40" stroke="#222" stroke-width="0.4" />
<line x1="232.52" y1="236.40" x2="232.52" y2="239.00" stroke="#aaa" stroke-width="0.12" />
<line x1="232.52" y1="238.90" x2="213.97" y2="243.60" stroke="#000" stroke-width="0.62" />
<line x1="232.69" y1="235.70" x2="232.69" y2="236.40" stroke="#222" stroke-width="0.4" />
<line x1="232.69" y1="236.40" x2="232.69" y2="239.00" stroke="#aaa" stroke-width="0.12" />
<line x1="232.69" y1="238.90" x2="215.29" y2="243.60" stroke="#000" stroke-width="0.62" />
<line x1="234.79" y1="235.70" x2="234.79" y2="236.40" stroke="#222" stroke-width="0.4" />
<line x1="234.79" y1="236.40" x2="234.79" y2="239.00" stroke="#aaa" stroke-width="0.12" />
<line x1="234.79" y1="238.90" x2="216.61" y2="243.60" stroke="#000" stroke-width="0.62" />
<line x1="235.07" y1="235.70" x2="235.07" y2="236.40" stroke="#222" stroke-width="0.4" />
<line x1="235.07" y1="236.40" x2="235.07" y2="239.00" stroke="#aaa" stroke-width="0.12" />
<line x1="235.07" y1="238.90" x2="217.93" y2="243.60" stroke="#000" stroke-width="0.62" />
<line x1="236.03" y1="235.70" x2="236.03" y2="236.40" stroke="#222" stroke-width="0.4" />
<line x1="236.03" y1="236.40" x2="236.03" y2="239.00" stroke="#aaa" stroke-width="0.12" />
<line x1="236.03" y1="238.90" x2="219.25" y2="243.60" stroke="#000" stroke-width="0.62" />
<line x1="236.69" y1="235.70" x2="236.69" y2="236.40" stroke="#222" stroke-width="0.4" />
<line x1="236.69" y1="236.40" x2="236.69" y2="239.00" stroke="#aaa" stroke-width="0.12" />
<line x1="236.69" y1="238.90" x2="220.57" y2="243.60" stroke="#000" stroke-width="0.62" />
<line x1="237.16" y1="235.70" x2="237.16" y2="236.40" stroke="#222" stroke-width="0.4" />
<line x1="237.16" y1="236.40" x2="237.16" y2="239.00" stroke="#aaa" stroke-width="0.12" />
<line x1="237.16" y1="238.90" x2="221.89" y2="243.60" stroke="#000" stroke-width="0.62" />
<line x1="237.62" y1="235.70" x2="237.62" y2="236.40" stroke="#222" stroke-width="0.4" />
<line x1="237.62" y1="236.40" x2="237.62" y2="239.00" stroke="#aaa" stroke-width="0.12" />
<line x1="237.62" y1="238.90" x2="223.21" y2="243.60" stroke="#000" stroke-width="0.62" />
<line x1="238.67" y1="235.70" x2="238.67" y2="236.40" stroke="#222" stroke-width="0.4" />
<line x1="238.67" y1="236.40" x2="238.67" y2="239.00" stroke="#aaa" stroke-width="0.12" />
<line x1="238.67" y1="238.90" x2="224.53" y2="243.60" stroke="#000" stroke-width="0.62" />
<line x1="240.39" y1="235.70" x2="240.39" y2="236.40" stroke="#222" stroke-width="0.4" />
<line x1="240.39" y1="236.40" x2="240.39" y2="239.00" stroke="#aaa" stroke-width="0.12" />
<line x1="240.39" y1="238.90" x2="225.85" y2="243.60" stroke="#000" stroke-width="0.62" />
<line x1="240.92" y1="235.70" x2="240.92" y2="236.40" stroke="#222" stroke-width="0.4" />
<line x1="240.92" y1="236.40" x2="240.92" y2="239.00" stroke="#aaa" stroke-width="0.12" />
<line x1="240.92" y1="238.90" x2="227.17" y2="243.60" stroke="#000" stroke-width="0.62" />
<line x1="241.18" y1="235.70" x2="241.18" y2="236.40" stroke="#222" stroke-width="0.4" />
<line x1="241.18" y1="236.40" x2="241.18" y2="239.00" stroke="#aaa" stroke-width="0.12" />
<line x1="241.18" y1="238.90" x2="228.49" y2="243.60" stroke="#000" stroke-width="0.62" />
<line x1="241.59" y1="235.70" x2="241.59" y2="236.40" stroke="#222" stroke-width="0.4" />
<line x1="241.59" y1="236.40" x2="241.59" y2="239.00" stroke="#aaa" stroke-width="0.12" />
<line x1="241.59" y1="238.90" x2="229.81" y2="243.60" stroke="#000" stroke-width="0.62" />
<line x1="242.77" y1="235.70" x2="242.77" y2="236.40" stroke="#222" stroke-width="0.4" />
<line x1="242.77" y1="236.40" x2="242.77" y2="239.00" stroke="#aaa" stroke-width="0.12" />
<line x1="242.77" y1="238.90" x2="231.13" y2="243.60" stroke="#000" stroke-width="0.62" />
<line x1="243.01" y1="235.70" x2="243.01" y2="236.40" stroke="#222" stroke-width="0.4" />
<line x1="243.01" y1="236.40" x2="243.01" y2="239.00" stroke="#aaa" stroke-width="0.12" />
<line x1="243.01" y1="238.90" x2="232.45" y2="243.60" stroke="#000" stroke-width="0.62" />
<line x1="243.09" y1="235.70" x2="243.09" y2="236.40" stroke="#222" stroke-width="0.4" />
<line x1="243.09" y1="236.40" x2="243.09" y2="239.00" stroke="#aaa" stroke-width="0.12" />
<line x1="243.09" y1="238.90" x2="233.77" y2="243.60" stroke="#000" stroke-width="0.62" />
<line x1="244.32" y1="235.70" x2="244.32" y2="236.40" stroke="#222" stroke-width="0.4" />
<line x1="244.32" y1="236.40" x2="244.32" y2="239.00" stroke="#aaa" stroke-width="0.12" />
<line x1="244.32" y1="238.90" x2="235.09" y2="243.60" stroke="#000" stroke-width="0.62" />
<line x1="245.63" y1="235.70" x2="245.63" y2="236.40" stroke="#222" stroke-width="0.4" />
<line x1="245.63" y1="236.40" x2="245.63" y2="239.00" stroke="#aaa" stroke-width="0.12" />
<line x1="245.63" y1="238.90" x2="236.41" y2="243.60" stroke="#000" stroke-width="0.62" />
<line x1="247.86" y1="235.70" x2="247.86" y2="236.40" stroke="#222" stroke-width="0.4" />
<line x1="247.86" y1="236.40" x2="247.86" y2="239.00" stroke="#aaa" stroke-width="0.12" />
<line x1="247.86" y1="238.90" x2="237.73" y2="243.60" stroke="#000" stroke-width="0.62" />
<line x1="249.64" y1="235.70" x2="249.64" y2="236.40" stroke="#222" stroke-width="0.4" />
<line x1="249.64" y1="236.40" x2="249.64" y2="239.00" stroke="#aaa" stroke-width="0.12" />
<line x1="249.64" y1="238.90" x2="239.05" y2="243.60" stroke="#000" stroke-width="0.62" />
<line x1="249.96" y1="235.70" x2="249.96" y2="236.40" stroke="#222" stroke-width="0.4" />
<line x1="249.96" y1="236.40" x2="249.96" y2="239.00" stroke="#aaa" stroke-width="0.12" />
<line x1="249.96" y1="238.90" x2="240.37" y2="243.60" stroke="#000" stroke-width="0.62" />
<line x1="251.26" y1="235.70" x2="251.26" y2="236.40" stroke="#222" stroke-width="0.4" />
<line x1="251.26" y1="236.40" x2="251.26" y2="239.00" stroke="#aaa" stroke-width="0.12" />
<line x1="251.26" y1="238.90" x2="241.69" y2="243.60" stroke="#000" stroke-width="0.62" />
<line x1="252.51" y1="235.70" x2="252.51" y2="236.40" stroke="#222" stroke-width="0.4" />
<line x1="252.51" y1="236.40" x2="252.51" y2="239.00" stroke="#aaa" stroke-width="0.12" />
<line x1="252.51" y1="238.90" x2="243.01" y2="243.60" stroke="#000" stroke-width="0.62" />
<line x1="254.12" y1="235.70" x2="254.12" y2="236.40" stroke="#222" stroke-width="0.4" />
<line x1="254.12" y1="236.40" x2="254.12" y2="239.00" stroke="#aaa" stroke-width="0.12" />
<line x1="254.12" y1="238.90" x2="244.33" y2="243.60" stroke="#000" stroke-width="0.62" />
<line x1="254.46" y1="235.70" x2="254.46" y2="236.40" stroke="#222" stroke-width="0.4" />
<line x1="254.46" y1="236.40" x2="254.46" y2="239.00" stroke="#aaa" stroke-width="0.12" />
<line x1="254.46" y1="238.90" x2="245.65" y2="243.60" stroke="#000" stroke-width="0.62" />
<line x1="254.98" y1="235.70" x2="254.98" y2="236.40" stroke="#222" stroke-width="0.4" />
<line x1="254.98" y1="236.40" x2="254.98" y2="239.00" stroke="#aaa" stroke-width="0.12" />
<line x1="254.98" y1="238.90" x2="246.97" y2="243.60" stroke="#000" stroke-width="0.62" />
<line x1="255.33" y1="235.70" x2="255.33" y2="236.40" stroke="#222" stroke-width="0.4" />
<line x1="255.33" y1="236.40" x2="255.33" y2="239.00" stroke="#aaa" stroke-width="0.12" />
<line x1="255.33" y1="238.90" x2="248.29" y2="243.60" stroke="#000" stroke-width="0.62" />
<line x1="255.40" y1="235.70" x2="255.40" y2="236.40" stroke="#222" stroke-width="0.4" />
<line x1="255.40" y1="236.40" x2="255.40" y2="239.00" stroke="#aaa" stroke-width="0.12" />
<line x1="255.40" y1="238.90" x2="249.61" y2="243.60" stroke="#000" stroke-width="0.62" />
<line x1="257.02" y1="235.70" x2="257.02" y2="236.40" stroke="#222" stroke-width="0.4" />
<line x1="257.02" y1="236.40" x2="257.02" y2="239.00" stroke="#aaa" stroke-width="0.12" />
<line x1="257.02" y1="238.90" x2="250.93" y2="243.60" stroke="#000" stroke-width="0.62" />
<line x1="259.10" y1="235.70" x2="259.10" y2="236.40" stroke="#222" stroke-width="0.4" />
<line x1="259.10" y1="236.40" x2="259.10" y2="239.00" stroke="#aaa" stroke-width="0.12" />
<line x1="259.10" y1="238.90" x2="252.25" y2="243.60" stroke="#000" stroke-width="0.62" />
<line x1="259.10" y1="235.70" x2="259.10" y2="236.40" stroke="#222" stroke-width="0.4" />
<line x1="259.10" y1="236.40" x2="259.10" y2="239.00" stroke="#aaa" stroke-width="0.12" />
<line x1="259.10" y1="238.90" x2="253.57" y2="243.60" stroke="#000" stroke-width="0.62" />
<line x1="260.02" y1="235.70" x2="260.02" y2="236.40" stroke="#222" stroke-width="0.4" />
<line x1="260.02" y1="236.40" x2="260.02" y2="239.00" stroke="#aaa" stroke-width="0.12" />
<line x1="260.02" y1="238.90" x2="254.89" y2="243.60" stroke="#000" stroke-width="0.62" />
<line x1="260.21" y1="235.70" x2="260.21" y2="236.40" stroke="#222" stroke-width="0.4" />
<line x1="260.21" y1="236.40" x2="260.21" y2="239.00" stroke="#aaa" stroke-width="0.12" />
<line x1="260.21" y1="238.90" x2="256.21" y2="243.60" stroke="#000" stroke-width="0.62" />
<line x1="260.50" y1="235.70" x2="260.50" y2="236.40" stroke="#222" stroke-width="0.4" />
<line x1="260.50" y1="236.40" x2="260.50" y2="239.00" stroke="#aaa" stroke-width="0.12" />
<line x1="260.50" y1="238.90" x2="257.53" y2="243.60" stroke="#000" stroke-width="0.62" />
<line x1="261.68" y1="235.70" x2="261.68" y2="236.40" stroke="#222" stroke-width="0.4" />
<line x1="261.68" y1="236.40" x2="261.68" y2="239.00" stroke="#aaa" stroke-width="0.12" />
<line x1="261.68" y1="238.90" x2="258.85" y2="243.60" stroke="#000" stroke-width="0.62" />
<line x1="262.08" y1="235.70" x2="262.08" y2="236.40" stroke="#222" stroke-width="0.4" />
<line x1="262.08" y1="236.40" x2="262.08" y2="239.00" stroke="#aaa" stroke-width="0.12" />
<line x1="262.08" y1="238.90" x2="260.17" y2="243.60" stroke="#000" stroke-width="0.62" />
<line x1="262.75" y1="235.70" x2="262.75" y2="236.40" stroke="#222" stroke-width="0.4" />
<line x1="262.75" y1="236.40" x2="262.75" y2="239.00" stroke="#aaa" stroke-width="0.12" />
<line x1="262.75" y1="238.90" x2="261.49" y2="243.60" stroke="#000" stroke-width="0.62" />
<line x1="263.54" y1="235.70" x2="263.54" y2="236.40" stroke="#222" stroke-width="0.4" />
<line x1="263.54" y1="236.40" x2="263.54" y2="239.00" stroke="#aaa" stroke-width="0.12" />
<line x1="263.54" y1="238.90" x2="262.81" y2="243.60" stroke="#000" stroke-width="0.62" />
<line x1="264.40" y1="235.70" x2="264.40" y2="236.40" stroke="#222" stroke-width="0.4" />
<line x1="264.40" y1="236.40" x2="264.40" y2="239.00" stroke="#aaa" stroke-width="0.12" />
<line x1="264.40" y1="238.90" x2="264.13" y2="243.60" stroke="#000" stroke-width="0.62" />
<line x1="265.51" y1="235.70" x2="265.51" y2="236.40" stroke="#222" stroke-width="0.4" />
<line x1="265.51" y1="236.40" x2="265.51" y2="239.00" stroke="#aaa" stroke-width="0.12" />
<line x1="265.51" y1="238.90" x2="265.45" y2="243.60" stroke="#000" stroke-width="0.62" />
<line x1="265.85" y1="235.70" x2="265.85" y2="236.40" stroke="#222" stroke-width="0.4" />
<line x1="265.85" y1="236.40" x2="265.85" y2="239.00" stroke="#aaa" stroke-width="0.12" />
<line x1="265.85" y1="238.90" x2="266.77" y2="243.60" stroke="#000" stroke-width="0.62" />
<line x1="265.96" y1="235.70" x2="265.96" y2="236.40" stroke="#222" stroke-width="0.4" />
<line x1="265.96" y1="236.40" x2="265.96" y2="239.00" stroke="#aaa" stroke-width="0.12" />
<line x1="265.96" y1="238.90" x2="268.09" y2="243.60" stroke="#000" stroke-width="0.62" />
<line x1="266.00" y1="235.70" x2="266.00" y2="236.40" stroke="#222" stroke-width="0.4" />
<line x1="266.00" y1="236.40" x2="266.00" y2="239.00" stroke="#aaa" stroke-width="0.12" />
<line x1="266.00" y1="238.90" x2="269.41" y2="243.60" stroke="#000" stroke-width="0.62" />
<line x1="266.08" y1="235.70" x2="266.08" y2="236.40" stroke="#222" stroke-width="0.4" />
<line x1="266.08" y1="236.40" x2="266.08" y2="239.00" stroke="#aaa" stroke-width="0.12" />
<line x1="266.08" y1="238.90" x2="270.73" y2="243.60" stroke="#000" stroke-width="0.62" />
<line x1="266.68" y1="235.70" x2="266.68" y2="236.40" stroke="#222" stroke-width="0.4" />
<line x1="266.68" y1="236.40" x2="266.68" y2="239.00" stroke="#aaa" stroke-width="0.12" />
<line x1="266.68" y1="238.90" x2="272.05" y2="243.60" stroke="#000" stroke-width="0.62" />
<line x1="266.82" y1="235.70" x2="266.82" y2="236.40" stroke="#222" stroke-width="0.4" />
<line x1="266.82" y1="236.40" x2="266.82" y2="239.00" stroke="#aaa" stroke-width="0.12" />
<line x1="266.82" y1="238.90" x2="273.37" y2="243.60" stroke="#000" stroke-width="0.62" />
<line x1="267.79" y1="235.70" x2="267.79" y2="236.40" stroke="#222" stroke-width="0.4" />
<line x1="267.79" y1="236.40" x2="267.79" y2="239.00" stroke="#aaa" stroke-width="0.12" />
<line x1="267.79" y1="238.90" x2="274.69" y2="243.60" stroke="#000" stroke-width="0.62" />
<line x1="268.92" y1="235.70" x2="268.92" y2="236.40" stroke="#222" stroke-width="0.4" />
<line x1="268.92" y1="236.40" x2="268.92" y2="239.00" stroke="#aaa" stroke-width="0.12" />
<line x1="268.92" y1="238.90" x2="276.01" y2="243.60" stroke="#000" stroke-width="0.62" />
<line x1="269.40" y1="235.70" x2="269.40" y2="236.40" stroke="#222" stroke-width="0.4" />
<line x1="269.40" y1="236.40" x2="269.40" y2="239.00" stroke="#aaa" stroke-width="0.12" />
<line x1="269.40" y1="238.90" x2="277.33" y2="243.60" stroke="#000" stroke-width="0.62" />
<line x1="271.18" y1="235.70" x2="271.18" y2="236.40" stroke="#222" stroke-width="0.4" />
<line x1="271.18" y1="236.40" x2="271.18" y2="239.00" stroke="#aaa" stroke-width="0.12" />
<line x1="271.18" y1="238.90" x2="278.66" y2="243.60" stroke="#000" stroke-width="0.62" />
<line x1="271.28" y1="235.70" x2="271.28" y2="236.40" stroke="#222" stroke-width="0.4" />
<line x1="271.28" y1="236.40" x2="271.28" y2="239.00" stroke="#aaa" stroke-width="0.12" />
<line x1="271.28" y1="238.90" x2="279.98" y2="243.60" stroke="#000" stroke-width="0.62" />
<line x1="271.67" y1="235.70" x2="271.67" y2="236.40" stroke="#222" stroke-width="0.4" />
<line x1="271.67" y1="236.40" x2="271.67" y2="239.00" stroke="#aaa" stroke-width="0.12" />
<line x1="271.67" y1="238.90" x2="281.30" y2="243.60" stroke="#000" stroke-width="0.62" />
<line x1="271.90" y1="235.70" x2="271.90" y2="236.40" stroke="#222" stroke-width="0.4" />
<line x1="271.90" y1="236.40" x2="271.90" y2="239.00" stroke="#aaa" stroke-width="0.12" />
<line x1="271.90" y1="238.90" x2="282.62" y2="243.60" stroke="#000" stroke-width="0.62" />
<line x1="273.78" y1="235.70" x2="273.78" y2="236.40" stroke="#222" stroke-width="0.4" />
<line x1="273.78" y1="236.40" x2="273.78" y2="239.00" stroke="#aaa" stroke-width="0.12" />
<line x1="273.78" y1="238.90" x2="283.94" y2="243.60" stroke="#000" stroke-width="0.62" />
<line x1="275.73" y1="235.70" x2="275.73" y2="236.40" stroke="#222" stroke-width="0.4" />
<line x1="275.73" y1="236.40" x2="275.73" y2="239.00" stroke="#aaa" stroke-width="0.12" />
<line x1="275.73" y1="238.90" x2="285.26" y2="243.60" stroke="#000" stroke-width="0.62" />
<line x1="277.80" y1="235.70" x2="277.80" y2="236.40" stroke="#222" stroke-width="0.4" />
<line x1="277.80" y1="236.40" x2="277.80" y2="239.00" stroke="#aaa" stroke-width="0.12" />
<line x1="277.80" y1="238.90" x2="286.58" y2="243.60" stroke="#000" stroke-width="0.62" />
<line x1="281.16" y1="235.70" x2="281.16" y2="236.40" stroke="#222" stroke-width="0.4" />
<line x1="281.16" y1="236.40" x2="281.16" y2="239.00" stroke="#aaa" stroke-width="0.12" />
<line x1="281.16" y1="238.90" x2="287.90" y2="243.60" stroke="#000" stroke-width="0.62" />
<line x1="283.27" y1="235.70" x2="283.27" y2="236.40" stroke="#222" stroke-width="0.4" />
<line x1="283.27" y1="236.40" x2="283.27" y2="239.00" stroke="#aaa" stroke-width="0.12" />
<line x1="283.27" y1="238.90" x2="289.22" y2="243.60" stroke="#000" stroke-width="0.62" />
<line x1="285.74" y1="235.70" x2="285.74" y2="236.40" stroke="#222" stroke-width="0.4" />
<line x1="285.74" y1="236.40" x2="285.74" y2="239.00" stroke="#aaa" stroke-width="0.12" />
<line x1="285.74" y1="238.90" x2="290.54" y2="243.60" stroke="#000" stroke-width="0.62" />
<line x1="287.64" y1="235.70" x2="287.64" y2="236.40" stroke="#222" stroke-width="0.4" />
<line x1="287.64" y1="236.40" x2="287.64" y2="239.00" stroke="#aaa" stroke-width="0.12" />
<line x1="287.64" y1="238.90" x2="291.86" y2="243.60" stroke="#000" stroke-width="0.62" />
<line x1="290.76" y1="235.70" x2="290.76" y2="236.40" stroke="#222" stroke-width="0.4" />
<line x1="290.76" y1="236.40" x2="290.76" y2="239.00" stroke="#aaa" stroke-width="0.12" />
<line x1="290.76" y1="238.90" x2="293.18" y2="243.60" stroke="#000" stroke-width="0.62" />
<line x1="291.73" y1="235.70" x2="291.73" y2="236.40" stroke="#222" stroke-width="0.4" />
<line x1="291.73" y1="236.40" x2="291.73" y2="239.00" stroke="#aaa" stroke-width="0.12" />
<line x1="291.73" y1="238.90" x2="294.50" y2="243.60" stroke="#000" stroke-width="0.62" />
<line x1="294.04" y1="235.70" x2="294.04" y2="236.40" stroke="#222" stroke-width="0.4" />
<line x1="294.04" y1="236.40" x2="294.04" y2="239.00" stroke="#aaa" stroke-width="0.12" />
<line x1="294.04" y1="238.90" x2="295.82" y2="243.60" stroke="#000" stroke-width="0.62" />
<line x1="296.79" y1="235.70" x2="296.79" y2="236.40" stroke="#222" stroke-width="0.4" />
<line x1="296.79" y1="236.40" x2="296.79" y2="239.00" stroke="#aaa" stroke-width="0.12" />
<line x1="296.79" y1="238.90" x2="297.14" y2="243.60" stroke="#000" stroke-width="0.62" />
<line x1="297.55" y1="235.70" x2="297.55" y2="236.40" stroke="#222" stroke-width="0.4" />
<line x1="297.55" y1="236.40" x2="297.55" y2="239.00" stroke="#aaa" stroke-width="0.12" />
<line x1="297.55" y1="238.90" x2="298.46" y2="243.60" stroke="#000" stroke-width="0.62" />
<line x1="298.81" y1="235.70" x2="298.81" y2="236.40" stroke="#222" stroke-width="0.4" />
<line x1="298.81" y1="236.40" x2="298.81" y2="239.00" stroke="#aaa" stroke-width="0.12" />
<line x1="298.81" y1="238.90" x2="299.78" y2="243.60" stroke="#000" stroke-width="0.62" />
<line x1="299.09" y1="235.70" x2="299.09" y2="236.40" stroke="#222" stroke-width="0.4" />
<line x1="299.09" y1="236.40" x2="299.09" y2="239.00" stroke="#aaa" stroke-width="0.12" />
<line x1="299.09" y1="238.90" x2="301.10" y2="243.60" stroke="#000" stroke-width="0.62" />
<line x1="299.30" y1="235.70" x2="299.30" y2="236.40" stroke="#222" stroke-width="0.4" />
<line x1="299.30" y1="236.40" x2="299.30" y2="239.00" stroke="#aaa" stroke-width="0.12" />
<line x1="299.30" y1="238.90" x2="302.42" y2="243.60" stroke="#000" stroke-width="0.62" />
<line x1="300.62" y1="235.70" x2="300.62" y2="236.40" stroke="#222" stroke-width="0.4" />
<line x1="300.62" y1="236.40" x2="300.62" y2="239.00" stroke="#aaa" stroke-width="0.12" />
<line x1="300.62" y1="238.90" x2="303.74" y2="243.60" stroke="#000" stroke-width="0.62" />
<line x1="300.72" y1="235.70" x2="300.72" y2="236.40" stroke="#222" stroke-width="0.4" />
<line x1="300.72" y1="236.40" x2="300.72" y2="239.00" stroke="#aaa" stroke-width="0.12" />
<line x1="300.72" y1="238.90" x2="305.06" y2="243.60" stroke="#000" stroke-width="0.62" />
<line x1="300.80" y1="235.70" x2="300.80" y2="236.40" stroke="#222" stroke-width="0.4" />
<line x1="300.80" y1="236.40" x2="300.80" y2="239.00" stroke="#aaa" stroke-width="0.12" />
<line x1="300.80" y1="238.90" x2="306.38" y2="243.60" stroke="#000" stroke-width="0.62" />
<line x1="302.91" y1="235.70" x2="302.91" y2="236.40" stroke="#222" stroke-width="0.4" />
<line x1="302.91" y1="236.40" x2="302.91" y2="239.00" stroke="#aaa" stroke-width="0.12" />
<line x1="302.91" y1="238.90" x2="307.70" y2="243.60" stroke="#000" stroke-width="0.62" />
<line x1="308.80" y1="235.70" x2="308.80" y2="236.40" stroke="#222" stroke-width="0.4" />
<line x1="308.80" y1="236.40" x2="308.80" y2="239.00" stroke="#aaa" stroke-width="0.12" />
<line x1="308.80" y1="238.90" x2="309.02" y2="243.60" stroke="#000" stroke-width="0.62" />
<line x1="312.30" y1="235.70" x2="312.30" y2="236.40" stroke="#222" stroke-width="0.4" />
<line x1="312.30" y1="236.40" x2="312.30" y2="239.00" stroke="#aaa" stroke-width="0.12" />
<line x1="312.30" y1="238.90" x2="310.34" y2="243.60" stroke="#000" stroke-width="0.62" />
</g>
<g transform="matrix(0.5,-0.5,0.5,0.5,39.4,308.2)">
<clipPath id="hA"><polygon points="0,0 272.3,272.3 0,272.3"/></clipPath>
<g clip-path="url(#hA)">
<rect x="0.00" y="0.00" width="272.30" height="272.30" fill="#ff4848" />
<rect x="0.00" y="0" width="1.20" height="272.3" fill="#ffffff" opacity="0.14"/>
<rect x="0" y="0.00" width="272.3" height="1.20" fill="#ffffff" opacity="0.14"/>
<rect x="1.20" y="0" width="1.20" height="272.3" fill="#ffffff" opacity="0.10"/>
<rect x="0" y="1.20" width="272.3" height="1.20" fill="#ffffff" opacity="0.10"/>
<rect x="2.40" y="0" width="1.50" height="272.3" fill="#ffffff" opacity="0.03"/>
<rect x="0" y="2.40" width="272.3" height="1.50" fill="#ffffff" opacity="0.03"/>
<rect x="3.90" y="0" width="1.50" height="272.3" fill="#ffffff" opacity="0.10"/>
<rect x="0" y="3.90" width="272.3" height="1.50" fill="#ffffff" opacity="0.10"/>
<rect x="7.20" y="0" width="1.50" height="272.3" fill="#ffffff" opacity="0.55"/>
<rect x="0" y="7.20" width="272.3" height="1.50" fill="#ffffff" opacity="0.55"/>
<rect x="8.70" y="0" width="1.20" height="272.3" fill="#ffffff" opacity="0.20"/>
<rect x="0" y="8.70" width="272.3" height="1.20" fill="#ffffff" opacity="0.20"/>
<rect x="9.90" y="0" width="1.50" height="272.3" fill="#ffffff" opacity="0.03"/>
<rect x="0" y="9.90" width="272.3" height="1.50" fill="#ffffff" opacity="0.03"/>
<rect x="11.40" y="0" width="1.50" height="272.3" fill="#ffffff" opacity="0.35"/>
<rect x="0" y="11.40" width="272.3" height="1.50" fill="#ffffff" opacity="0.35"/>
<rect x="12.90" y="0" width="0.90" height="272.3" fill="#ffffff" opacity="0.42"/>
<rect x="0" y="12.90" width="272.3" height="0.90" fill="#ffffff" opacity="0.42"/>
<rect x="13.80" y="0" width="1.20" height="272.3" fill="#ffffff" opacity="0.14"/>
<rect x="0" y="13.80" width="272.3" height="1.20" fill="#ffffff" opacity="0.14"/>
<rect x="15.00" y="0" width="1.50" height="272.3" fill="#ffffff" opacity="0.03"/>
<rect x="0" y="15.00" width="272.3" height="1.50" fill="#ffffff" opacity="0.03"/>
<rect x="17.70" y="0" width="1.20" height="272.3" fill="#ffffff" opacity="0.20"/>
<rect x="0" y="17.70" width="272.3" height="1.20" fill="#ffffff" opacity="0.20"/>
<rect x="20.40" y="0" width="1.20" height="272.3" fill="#ffffff" opacity="0.03"/>
<rect x="0" y="20.40" width="272.3" height="1.20" fill="#ffffff" opacity="0.03"/>
<rect x="22.50" y="0" width="0.90" height="272.3" fill="#ffffff" opacity="0.37"/>
<rect x="0" y="22.50" width="272.3" height="0.90" fill="#ffffff" opacity="0.37"/>
<rect x="24.30" y="0" width="0.90" height="272.3" fill="#ffffff" opacity="0.03"/>
<rect x="0" y="24.30" width="272.3" height="0.90" fill="#ffffff" opacity="0.03"/>
<rect x="25.20" y="0" width="0.90" height="272.3" fill="#ffffff" opacity="0.10"/>
<rect x="0" y="25.20" width="272.3" height="0.90" fill="#ffffff" opacity="0.10"/>
<rect x="26.10" y="0" width="1.50" height="272.3" fill="#ffffff" opacity="0.10"/>
<rect x="0" y="26.10" width="272.3" height="1.50" fill="#ffffff" opacity="0.10"/>
<rect x="27.60" y="0" width="1.50" height="272.3" fill="#ffffff" opacity="0.20"/>
<rect x="0" y="27.60" width="272.3" height="1.50" fill="#ffffff" opacity="0.20"/>
<rect x="29.10" y="0" width="1.50" height="272.3" fill="#ffffff" opacity="0.06"/>
<rect x="0" y="29.10" width="272.3" height="1.50" fill="#ffffff" opacity="0.06"/>
<rect x="30.60" y="0" width="1.20" height="272.3" fill="#ffffff" opacity="0.40"/>
<rect x="0" y="30.60" width="272.3" height="1.20" fill="#ffffff" opacity="0.40"/>
<rect x="31.80" y="0" width="0.90" height="272.3" fill="#ffffff" opacity="0.03"/>
<rect x="0" y="31.80" width="272.3" height="0.90" fill="#ffffff" opacity="0.03"/>
<rect x="32.70" y="0" width="0.90" height="272.3" fill="#ffffff" opacity="0.50"/>
<rect x="0" y="32.70" width="272.3" height="0.90" fill="#ffffff" opacity="0.50"/>
<rect x="33.60" y="0" width="0.90" height="272.3" fill="#ffffff" opacity="0.20"/>
<rect x="0" y="33.60" width="272.3" height="0.90" fill="#ffffff" opacity="0.20"/>
<rect x="34.50" y="0" width="1.20" height="272.3" fill="#ffffff" opacity="0.14"/>
<rect x="0" y="34.50" width="272.3" height="1.20" fill="#ffffff" opacity="0.14"/>
<rect x="35.70" y="0" width="1.50" height="272.3" fill="#ffffff" opacity="0.03"/>
<rect x="0" y="35.70" width="272.3" height="1.50" fill="#ffffff" opacity="0.03"/>
<rect x="39.30" y="0" width="1.50" height="272.3" fill="#ffffff" opacity="0.06"/>
<rect x="0" y="39.30" width="272.3" height="1.50" fill="#ffffff" opacity="0.06"/>
<rect x="40.80" y="0" width="0.90" height="272.3" fill="#ffffff" opacity="0.03"/>
<rect x="0" y="40.80" width="272.3" height="0.90" fill="#ffffff" opacity="0.03"/>
<rect x="41.70" y="0" width="1.50" height="272.3" fill="#ffffff" opacity="0.20"/>
<rect x="0" y="41.70" width="272.3" height="1.50" fill="#ffffff" opacity="0.20"/>
<rect x="43.20" y="0" width="0.90" height="272.3" fill="#ffffff" opacity="0.03"/>
<rect x="0" y="43.20" width="272.3" height="0.90" fill="#ffffff" opacity="0.03"/>
<rect x="45.30" y="0" width="1.20" height="272.3" fill="#ffffff" opacity="0.06"/>
<rect x="0" y="45.30" width="272.3" height="1.20" fill="#ffffff" opacity="0.06"/>
<rect x="47.40" y="0" width="1.50" height="272.3" fill="#ffffff" opacity="0.39"/>
<rect x="0" y="47.40" width="272.3" height="1.50" fill="#ffffff" opacity="0.39"/>
<rect x="48.90" y="0" width="1.50" height="272.3" fill="#ffffff" opacity="0.45"/>
<rect x="0" y="48.90" width="272.3" height="1.50" fill="#ffffff" opacity="0.45"/>
<rect x="50.40" y="0" width="1.50" height="272.3" fill="#ffffff" opacity="0.03"/>
<rect x="0" y="50.40" width="272.3" height="1.50" fill="#ffffff" opacity="0.03"/>
<rect x="51.90" y="0" width="0.90" height="272.3" fill="#ffffff" opacity="0.53"/>
<rect x="0" y="51.90" width="272.3" height="0.90" fill="#ffffff" opacity="0.53"/>
<rect x="52.80" y="0" width="1.50" height="272.3" fill="#ffffff" opacity="0.03"/>
<rect x="0" y="52.80" width="272.3" height="1.50" fill="#ffffff" opacity="0.03"/>
<rect x="54.30" y="0" width="0.90" height="272.3" fill="#ffffff" opacity="0.20"/>
<rect x="0" y="54.30" width="272.3" height="0.90" fill="#ffffff" opacity="0.20"/>
<rect x="55.20" y="0" width="1.50" height="272.3" fill="#ffffff" opacity="0.03"/>
<rect x="0" y="55.20" width="272.3" height="1.50" fill="#ffffff" opacity="0.03"/>
<rect x="56.70" y="0" width="1.20" height="272.3" fill="#ffffff" opacity="0.10"/>
<rect x="0" y="56.70" width="272.3" height="1.20" fill="#ffffff" opacity="0.10"/>
<rect x="57.90" y="0" width="1.20" height="272.3" fill="#ffffff" opacity="0.31"/>
<rect x="0" y="57.90" width="272.3" height="1.20" fill="#ffffff" opacity="0.31"/>
<rect x="59.10" y="0" width="1.20" height="272.3" fill="#ffffff" opacity="0.03"/>
<rect x="0" y="59.10" width="272.3" height="1.20" fill="#ffffff" opacity="0.03"/>
<rect x="60.30" y="0" width="1.20" height="272.3" fill="#ffffff" opacity="0.06"/>
<rect x="0" y="60.30" width="272.3" height="1.20" fill="#ffffff" opacity="0.06"/>
<rect x="61.50" y="0" width="1.50" height="272.3" fill="#ffffff" opacity="0.10"/>
<rect x="0" y="61.50" width="272.3" height="1.50" fill="#ffffff" opacity="0.10"/>
<rect x="63.00" y="0" width="0.90" height="272.3" fill="#ffffff" opacity="0.20"/>
<rect x="0" y="63.00" width="272.3" height="0.90" fill="#ffffff" opacity="0.20"/>
<rect x="63.90" y="0" width="0.90" height="272.3" fill="#ffffff" opacity="0.03"/>
<rect x="0" y="63.90" width="272.3" height="0.90" fill="#ffffff" opacity="0.03"/>
<rect x="64.80" y="0" width="1.50" height="272.3" fill="#ffffff" opacity="0.14"/>
<rect x="0" y="64.80" width="272.3" height="1.50" fill="#ffffff" opacity="0.14"/>
<rect x="66.30" y="0" width="1.20" height="272.3" fill="#ffffff" opacity="0.03"/>
<rect x="0" y="66.30" width="272.3" height="1.20" fill="#ffffff" opacity="0.03"/>
<rect x="67.50" y="0" width="0.90" height="272.3" fill="#ffffff" opacity="0.37"/>
<rect x="0" y="67.50" width="272.3" height="0.90" fill="#ffffff" opacity="0.37"/>
<rect x="68.40" y="0" width="1.20" height="272.3" fill="#ffffff" opacity="0.34"/>
<rect x="0" y="68.40" width="272.3" height="1.20" fill="#ffffff" opacity="0.34"/>
<rect x="69.60" y="0" width="1.20" height="272.3" fill="#ffffff" opacity="0.14"/>
<rect x="0" y="69.60" width="272.3" height="1.20" fill="#ffffff" opacity="0.14"/>
<rect x="71.70" y="0" width="1.20" height="272.3" fill="#ffffff" opacity="0.06"/>
<rect x="0" y="71.70" width="272.3" height="1.20" fill="#ffffff" opacity="0.06"/>
<rect x="72.90" y="0" width="1.50" height="272.3" fill="#ffffff" opacity="0.14"/>
<rect x="0" y="72.90" width="272.3" height="1.50" fill="#ffffff" opacity="0.14"/>
<rect x="74.40" y="0" width="0.90" height="272.3" fill="#ffffff" opacity="0.30"/>
<rect x="0" y="74.40" width="272.3" height="0.90" fill="#ffffff" opacity="0.30"/>
<rect x="75.30" y="0" width="1.20" height="272.3" fill="#ffffff" opacity="0.20"/>
<rect x="0" y="75.30" width="272.3" height="1.20" fill="#ffffff" opacity="0.20"/>
<rect x="77.40" y="0" width="0.90" height="272.3" fill="#ffffff" opacity="0.38"/>
<rect x="0" y="77.40" width="272.3" height="0.90" fill="#ffffff" opacity="0.38"/>
<rect x="78.30" y="0" width="0.90" height="272.3" fill="#ffffff" opacity="0.44"/>
<rect x="0" y="78.30" width="272.3" height="0.90" fill="#ffffff" opacity="0.44"/>
<rect x="80.70" y="0" width="1.50" height="272.3" fill="#ffffff" opacity="0.20"/>
<rect x="0" y="80.70" width="272.3" height="1.50" fill="#ffffff" opacity="0.20"/>
<rect x="82.20" y="0" width="1.20" height="272.3" fill="#ffffff" opacity="0.42"/>
<rect x="0" y="82.20" width="272.3" height="1.20" fill="#ffffff" opacity="0.42"/>
<rect x="83.40" y="0" width="0.90" height="272.3" fill="#ffffff" opacity="0.10"/>
<rect x="0" y="83.40" width="272.3" height="0.90" fill="#ffffff" opacity="0.10"/>
<rect x="84.30" y="0" width="0.90" height="272.3" fill="#ffffff" opacity="0.10"/>
<rect x="0" y="84.30" width="272.3" height="0.90" fill="#ffffff" opacity="0.10"/>
<rect x="85.20" y="0" width="1.50" height="272.3" fill="#ffffff" opacity="0.20"/>
<rect x="0" y="85.20" width="272.3" height="1.50" fill="#ffffff" opacity="0.20"/>
<rect x="89.10" y="0" width="1.20" height="272.3" fill="#ffffff" opacity="0.10"/>
<rect x="0" y="89.10" width="272.3" height="1.20" fill="#ffffff" opacity="0.10"/>
<rect x="90.30" y="0" width="1.20" height="272.3" fill="#ffffff" opacity="0.20"/>
<rect x="0" y="90.30" width="272.3" height="1.20" fill="#ffffff" opacity="0.20"/>
<rect x="91.50" y="0" width="1.20" height="272.3" fill="#ffffff" opacity="0.10"/>
<rect x="0" y="91.50" width="272.3" height="1.20" fill="#ffffff" opacity="0.10"/>
<rect x="95.70" y="0" width="0.90" height="272.3" fill="#ffffff" opacity="0.54"/>
<rect x="0" y="95.70" width="272.3" height="0.90" fill="#ffffff" opacity="0.54"/>
<rect x="96.60" y="0" width="0.90" height="272.3" fill="#ffffff" opacity="0.10"/>
<rect x="0" y="96.60" width="272.3" height="0.90" fill="#ffffff" opacity="0.10"/>
<rect x="97.50" y="0" width="1.50" height="272.3" fill="#ffffff" opacity="0.10"/>
<rect x="0" y="97.50" width="272.3" height="1.50" fill="#ffffff" opacity="0.10"/>
<rect x="99.00" y="0" width="0.90" height="272.3" fill="#ffffff" opacity="0.06"/>
<rect x="0" y="99.00" width="272.3" height="0.90" fill="#ffffff" opacity="0.06"/>
<rect x="99.90" y="0" width="1.50" height="272.3" fill="#ffffff" opacity="0.14"/>
<rect x="0" y="99.90" width="272.3" height="1.50" fill="#ffffff" opacity="0.14"/>
<rect x="101.40" y="0" width="0.90" height="272.3" fill="#ffffff" opacity="0.06"/>
<rect x="0" y="101.40" width="272.3" height="0.90" fill="#ffffff" opacity="0.06"/>
<rect x="102.30" y="0" width="1.20" height="272.3" fill="#ffffff" opacity="0.10"/>
<rect x="0" y="102.30" width="272.3" height="1.20" fill="#ffffff" opacity="0.10"/>
<rect x="103.50" y="0" width="1.20" height="272.3" fill="#ffffff" opacity="0.10"/>
<rect x="0" y="103.50" width="272.3" height="1.20" fill="#ffffff" opacity="0.10"/>
<rect x="104.70" y="0" width="0.90" height="272.3" fill="#ffffff" opacity="0.20"/>
<rect x="0" y="104.70" width="272.3" height="0.90" fill="#ffffff" opacity="0.20"/>
<rect x="105.60" y="0" width="0.90" height="272.3" fill="#ffffff" opacity="0.03"/>
<rect x="0" y="105.60" width="272.3" height="0.90" fill="#ffffff" opacity="0.03"/>
<rect x="106.50" y="0" width="1.50" height="272.3" fill="#ffffff" opacity="0.06"/>
<rect x="0" y="106.50" width="272.3" height="1.50" fill="#ffffff" opacity="0.06"/>
<rect x="108.00" y="0" width="0.90" height="272.3" fill="#ffffff" opacity="0.10"/>
<rect x="0" y="108.00" width="272.3" height="0.90" fill="#ffffff" opacity="0.10"/>
<rect x="108.90" y="0" width="0.90" height="272.3" fill="#ffffff" opacity="0.55"/>
<rect x="0" y="108.90" width="272.3" height="0.90" fill="#ffffff" opacity="0.55"/>
<rect x="110.70" y="0" width="1.20" height="272.3" fill="#ffffff" opacity="0.03"/>
<rect x="0" y="110.70" width="272.3" height="1.20" fill="#ffffff" opacity="0.03"/>
<rect x="111.90" y="0" width="1.20" height="272.3" fill="#ffffff" opacity="0.20"/>
<rect x="0" y="111.90" width="272.3" height="1.20" fill="#ffffff" opacity="0.20"/>
<rect x="113.10" y="0" width="1.50" height="272.3" fill="#ffffff" opacity="0.06"/>
<rect x="0" y="113.10" width="272.3" height="1.50" fill="#ffffff" opacity="0.06"/>
<rect x="114.60" y="0" width="1.50" height="272.3" fill="#ffffff" opacity="0.10"/>
<rect x="0" y="114.60" width="272.3" height="1.50" fill="#ffffff" opacity="0.10"/>
<rect x="116.10" y="0" width="0.90" height="272.3" fill="#ffffff" opacity="0.06"/>
<rect x="0" y="116.10" width="272.3" height="0.90" fill="#ffffff" opacity="0.06"/>
<rect x="117.00" y="0" width="0.90" height="272.3" fill="#ffffff" opacity="0.20"/>
<rect x="0" y="117.00" width="272.3" height="0.90" fill="#ffffff" opacity="0.20"/>
<rect x="117.90" y="0" width="1.50" height="272.3" fill="#ffffff" opacity="0.06"/>
<rect x="0" y="117.90" width="272.3" height="1.50" fill="#ffffff" opacity="0.06"/>
<rect x="120.90" y="0" width="1.20" height="272.3" fill="#ffffff" opacity="0.10"/>
<rect x="0" y="120.90" width="272.3" height="1.20" fill="#ffffff" opacity="0.10"/>
<rect x="122.10" y="0" width="1.20" height="272.3" fill="#ffffff" opacity="0.03"/>
<rect x="0" y="122.10" width="272.3" height="1.20" fill="#ffffff" opacity="0.03"/>
<rect x="123.30" y="0" width="0.90" height="272.3" fill="#ffffff" opacity="0.33"/>
<rect x="0" y="123.30" width="272.3" height="0.90" fill="#ffffff" opacity="0.33"/>
<rect x="124.20" y="0" width="1.50" height="272.3" fill="#ffffff" opacity="0.20"/>
<rect x="0" y="124.20" width="272.3" height="1.50" fill="#ffffff" opacity="0.20"/>
<rect x="126.90" y="0" width="0.90" height="272.3" fill="#ffffff" opacity="0.10"/>
<rect x="0" y="126.90" width="272.3" height="0.90" fill="#ffffff" opacity="0.10"/>
<rect x="129.30" y="0" width="1.50" height="272.3" fill="#ffffff" opacity="0.36"/>
<rect x="0" y="129.30" width="272.3" height="1.50" fill="#ffffff" opacity="0.36"/>
<rect x="130.80" y="0" width="1.20" height="272.3" fill="#ffffff" opacity="0.14"/>
<rect x="0" y="130.80" width="272.3" height="1.20" fill="#ffffff" opacity="0.14"/>
<rect x="132.00" y="0" width="1.50" height="272.3" fill="#ffffff" opacity="0.14"/>
<rect x="0" y="132.00" width="272.3" height="1.50" fill="#ffffff" opacity="0.14"/>
<rect x="133.50" y="0" width="0.90" height="272.3" fill="#ffffff" opacity="0.10"/>
<rect x="0" y="133.50" width="272.3" height="0.90" fill="#ffffff" opacity="0.10"/>
<rect x="134.40" y="0" width="1.50" height="272.3" fill="#ffffff" opacity="0.53"/>
<rect x="0" y="134.40" width="272.3" height="1.50" fill="#ffffff" opacity="0.53"/>
<rect x="135.90" y="0" width="1.50" height="272.3" fill="#ffffff" opacity="0.41"/>
<rect x="0" y="135.90" width="272.3" height="1.50" fill="#ffffff" opacity="0.41"/>
<rect x="138.90" y="0" width="1.50" height="272.3" fill="#ffffff" opacity="0.20"/>
<rect x="0" y="138.90" width="272.3" height="1.50" fill="#ffffff" opacity="0.20"/>
<rect x="140.40" y="0" width="1.20" height="272.3" fill="#ffffff" opacity="0.10"/>
<rect x="0" y="140.40" width="272.3" height="1.20" fill="#ffffff" opacity="0.10"/>
<rect x="142.50" y="0" width="1.50" height="272.3" fill="#ffffff" opacity="0.36"/>
<rect x="0" y="142.50" width="272.3" height="1.50" fill="#ffffff" opacity="0.36"/>
<rect x="145.20" y="0" width="1.50" height="272.3" fill="#ffffff" opacity="0.06"/>
<rect x="0" y="145.20" width="272.3" height="1.50" fill="#ffffff" opacity="0.06"/>
<rect x="149.10" y="0" width="1.50" height="272.3" fill="#ffffff" opacity="0.10"/>
<rect x="0" y="149.10" width="272.3" height="1.50" fill="#ffffff" opacity="0.10"/>
<rect x="151.80" y="0" width="0.90" height="272.3" fill="#ffffff" opacity="0.10"/>
<rect x="0" y="151.80" width="272.3" height="0.90" fill="#ffffff" opacity="0.10"/>
<rect x="152.70" y="0" width="0.90" height="272.3" fill="#ffffff" opacity="0.14"/>
<rect x="0" y="152.70" width="272.3" height="0.90" fill="#ffffff" opacity="0.14"/>
<rect x="153.60" y="0" width="0.90" height="272.3" fill="#ffffff" opacity="0.43"/>
<rect x="0" y="153.60" width="272.3" height="0.90" fill="#ffffff" opacity="0.43"/>
<rect x="154.50" y="0" width="1.50" height="272.3" fill="#ffffff" opacity="0.14"/>
<rect x="0" y="154.50" width="272.3" height="1.50" fill="#ffffff" opacity="0.14"/>
<rect x="156.00" y="0" width="1.50" height="272.3" fill="#ffffff" opacity="0.10"/>
<rect x="0" y="156.00" width="272.3" height="1.50" fill="#ffffff" opacity="0.10"/>
<rect x="157.50" y="0" width="1.20" height="272.3" fill="#ffffff" opacity="0.14"/>
<rect x="0" y="157.50" width="272.3" height="1.20" fill="#ffffff" opacity="0.14"/>
<rect x="158.70" y="0" width="0.90" height="272.3" fill="#ffffff" opacity="0.03"/>
<rect x="0" y="158.70" width="272.3" height="0.90" fill="#ffffff" opacity="0.03"/>
<rect x="159.60" y="0" width="1.50" height="272.3" fill="#ffffff" opacity="0.06"/>
<rect x="0" y="159.60" width="272.3" height="1.50" fill="#ffffff" opacity="0.06"/>
<rect x="161.10" y="0" width="1.50" height="272.3" fill="#ffffff" opacity="0.20"/>
<rect x="0" y="161.10" width="272.3" height="1.50" fill="#ffffff" opacity="0.20"/>
<rect x="162.60" y="0" width="1.50" height="272.3" fill="#ffffff" opacity="0.14"/>
<rect x="0" y="162.60" width="272.3" height="1.50" fill="#ffffff" opacity="0.14"/>
<rect x="164.10" y="0" width="1.50" height="272.3" fill="#ffffff" opacity="0.10"/>
<rect x="0" y="164.10" width="272.3" height="1.50" fill="#ffffff" opacity="0.10"/>
<rect x="165.60" y="0" width="1.50" height="272.3" fill="#ffffff" opacity="0.03"/>
<rect x="0" y="165.60" width="272.3" height="1.50" fill="#ffffff" opacity="0.03"/>
<rect x="167.10" y="0" width="0.90" height="272.3" fill="#ffffff" opacity="0.14"/>
<rect x="0" y="167.10" width="272.3" height="0.90" fill="#ffffff" opacity="0.14"/>
<rect x="168.00" y="0" width="1.50" height="272.3" fill="#ffffff" opacity="0.10"/>
<rect x="0" y="168.00" width="272.3" height="1.50" fill="#ffffff" opacity="0.10"/>
<rect x="171.00" y="0" width="1.50" height="272.3" fill="#ffffff" opacity="0.54"/>
<rect x="0" y="171.00" width="272.3" height="1.50" fill="#ffffff" opacity="0.54"/>
<rect x="172.50" y="0" width="1.50" height="272.3" fill="#ffffff" opacity="0.10"/>
<rect x="0" y="172.50" width="272.3" height="1.50" fill="#ffffff" opacity="0.10"/>
<rect x="175.50" y="0" width="1.50" height="272.3" fill="#ffffff" opacity="0.43"/>
<rect x="0" y="175.50" width="272.3" height="1.50" fill="#ffffff" opacity="0.43"/>
<rect x="177.00" y="0" width="1.20" height="272.3" fill="#ffffff" opacity="0.10"/>
<rect x="0" y="177.00" width="272.3" height="1.20" fill="#ffffff" opacity="0.10"/>
<rect x="178.20" y="0" width="1.20" height="272.3" fill="#ffffff" opacity="0.41"/>
<rect x="0" y="178.20" width="272.3" height="1.20" fill="#ffffff" opacity="0.41"/>
<rect x="179.40" y="0" width="1.20" height="272.3" fill="#ffffff" opacity="0.14"/>
<rect x="0" y="179.40" width="272.3" height="1.20" fill="#ffffff" opacity="0.14"/>
<rect x="180.60" y="0" width="0.90" height="272.3" fill="#ffffff" opacity="0.10"/>
<rect x="0" y="180.60" width="272.3" height="0.90" fill="#ffffff" opacity="0.10"/>
<rect x="181.50" y="0" width="1.20" height="272.3" fill="#ffffff" opacity="0.03"/>
<rect x="0" y="181.50" width="272.3" height="1.20" fill="#ffffff" opacity="0.03"/>
<rect x="184.50" y="0" width="1.20" height="272.3" fill="#ffffff" opacity="0.20"/>
<rect x="0" y="184.50" width="272.3" height="1.20" fill="#ffffff" opacity="0.20"/>
<rect x="185.70" y="0" width="1.50" height="272.3" fill="#ffffff" opacity="0.48"/>
<rect x="0" y="185.70" width="272.3" height="1.50" fill="#ffffff" opacity="0.48"/>
<rect x="187.20" y="0" width="0.90" height="272.3" fill="#ffffff" opacity="0.14"/>
<rect x="0" y="187.20" width="272.3" height="0.90" fill="#ffffff" opacity="0.14"/>
<rect x="188.10" y="0" width="1.50" height="272.3" fill="#ffffff" opacity="0.03"/>
<rect x="0" y="188.10" width="272.3" height="1.50" fill="#ffffff" opacity="0.03"/>
<rect x="190.80" y="0" width="1.20" height="272.3" fill="#ffffff" opacity="0.14"/>
<rect x="0" y="190.80" width="272.3" height="1.20" fill="#ffffff" opacity="0.14"/>
<rect x="192.00" y="0" width="1.50" height="272.3" fill="#ffffff" opacity="0.03"/>
<rect x="0" y="192.00" width="272.3" height="1.50" fill="#ffffff" opacity="0.03"/>
<rect x="193.50" y="0" width="1.50" height="272.3" fill="#ffffff" opacity="0.20"/>
<rect x="0" y="193.50" width="272.3" height="1.50" fill="#ffffff" opacity="0.20"/>
<rect x="195.00" y="0" width="0.90" height="272.3" fill="#ffffff" opacity="0.14"/>
<rect x="0" y="195.00" width="272.3" height="0.90" fill="#ffffff" opacity="0.14"/>
<rect x="195.90" y="0" width="0.90" height="272.3" fill="#ffffff" opacity="0.03"/>
<rect x="0" y="195.90" width="272.3" height="0.90" fill="#ffffff" opacity="0.03"/>
<rect x="196.80" y="0" width="1.50" height="272.3" fill="#ffffff" opacity="0.10"/>
<rect x="0" y="196.80" width="272.3" height="1.50" fill="#ffffff" opacity="0.10"/>
<rect x="198.30" y="0" width="1.20" height="272.3" fill="#ffffff" opacity="0.20"/>
<rect x="0" y="198.30" width="272.3" height="1.20" fill="#ffffff" opacity="0.20"/>
<rect x="199.50" y="0" width="0.90" height="272.3" fill="#ffffff" opacity="0.06"/>
<rect x="0" y="199.50" width="272.3" height="0.90" fill="#ffffff" opacity="0.06"/>
<rect x="200.40" y="0" width="0.90" height="272.3" fill="#ffffff" opacity="0.36"/>
<rect x="0" y="200.40" width="272.3" height="0.90" fill="#ffffff" opacity="0.36"/>
<rect x="201.30" y="0" width="1.50" height="272.3" fill="#ffffff" opacity="0.03"/>
<rect x="0" y="201.30" width="272.3" height="1.50" fill="#ffffff" opacity="0.03"/>
<rect x="202.80" y="0" width="0.90" height="272.3" fill="#ffffff" opacity="0.15"/>
<rect x="0" y="202.80" width="272.3" height="0.90" fill="#ffffff" opacity="0.15"/>
<rect x="203.70" y="0" width="1.20" height="272.3" fill="#ffffff" opacity="0.20"/>
<rect x="0" y="203.70" width="272.3" height="1.20" fill="#ffffff" opacity="0.20"/>
<rect x="204.90" y="0" width="0.90" height="272.3" fill="#ffffff" opacity="0.06"/>
<rect x="0" y="204.90" width="272.3" height="0.90" fill="#ffffff" opacity="0.06"/>
<rect x="205.80" y="0" width="1.50" height="272.3" fill="#ffffff" opacity="0.44"/>
<rect x="0" y="205.80" width="272.3" height="1.50" fill="#ffffff" opacity="0.44"/>
<rect x="207.30" y="0" width="1.20" height="272.3" fill="#ffffff" opacity="0.43"/>
<rect x="0" y="207.30" width="272.3" height="1.20" fill="#ffffff" opacity="0.43"/>
<rect x="208.50" y="0" width="1.20" height="272.3" fill="#ffffff" opacity="0.20"/>
<rect x="0" y="208.50" width="272.3" height="1.20" fill="#ffffff" opacity="0.20"/>
<rect x="209.70" y="0" width="0.90" height="272.3" fill="#ffffff" opacity="0.03"/>
<rect x="0" y="209.70" width="272.3" height="0.90" fill="#ffffff" opacity="0.03"/>
<rect x="210.60" y="0" width="0.90" height="272.3" fill="#ffffff" opacity="0.03"/>
<rect x="0" y="210.60" width="272.3" height="0.90" fill="#ffffff" opacity="0.03"/>
<rect x="211.50" y="0" width="1.50" height="272.3" fill="#ffffff" opacity="0.20"/>
<rect x="0" y="211.50" width="272.3" height="1.50" fill="#ffffff" opacity="0.20"/>
<rect x="213.00" y="0" width="1.20" height="272.3" fill="#ffffff" opacity="0.06"/>
<rect x="0" y="213.00" width="272.3" height="1.20" fill="#ffffff" opacity="0.06"/>
<rect x="214.20" y="0" width="0.90" height="272.3" fill="#ffffff" opacity="0.06"/>
<rect x="0" y="214.20" width="272.3" height="0.90" fill="#ffffff" opacity="0.06"/>
<rect x="215.10" y="0" width="0.90" height="272.3" fill="#ffffff" opacity="0.10"/>
<rect x="0" y="215.10" width="272.3" height="0.90" fill="#ffffff" opacity="0.10"/>
<rect x="216.00" y="0" width="0.90" height="272.3" fill="#ffffff" opacity="0.54"/>
<rect x="0" y="216.00" width="272.3" height="0.90" fill="#ffffff" opacity="0.54"/>
<rect x="216.90" y="0" width="1.20" height="272.3" fill="#ffffff" opacity="0.03"/>
<rect x="0" y="216.90" width="272.3" height="1.20" fill="#ffffff" opacity="0.03"/>
<rect x="218.10" y="0" width="1.20" height="272.3" fill="#ffffff" opacity="0.15"/>
<rect x="0" y="218.10" width="272.3" height="1.20" fill="#ffffff" opacity="0.15"/>
<rect x="219.30" y="0" width="1.50" height="272.3" fill="#ffffff" opacity="0.10"/>
<rect x="0" y="219.30" width="272.3" height="1.50" fill="#ffffff" opacity="0.10"/>
<rect x="220.80" y="0" width="1.50" height="272.3" fill="#ffffff" opacity="0.48"/>
<rect x="0" y="220.80" width="272.3" height="1.50" fill="#ffffff" opacity="0.48"/>
<rect x="222.30" y="0" width="0.90" height="272.3" fill="#ffffff" opacity="0.06"/>
<rect x="0" y="222.30" width="272.3" height="0.90" fill="#ffffff" opacity="0.06"/>
<rect x="223.20" y="0" width="1.20" height="272.3" fill="#ffffff" opacity="0.10"/>
<rect x="0" y="223.20" width="272.3" height="1.20" fill="#ffffff" opacity="0.10"/>
<rect x="224.40" y="0" width="0.90" height="272.3" fill="#ffffff" opacity="0.20"/>
<rect x="0" y="224.40" width="272.3" height="0.90" fill="#ffffff" opacity="0.20"/>
<rect x="225.30" y="0" width="1.50" height="272.3" fill="#ffffff" opacity="0.03"/>
<rect x="0" y="225.30" width="272.3" height="1.50" fill="#ffffff" opacity="0.03"/>
<rect x="226.80" y="0" width="0.90" height="272.3" fill="#ffffff" opacity="0.15"/>
<rect x="0" y="226.80" width="272.3" height="0.90" fill="#ffffff" opacity="0.15"/>
<rect x="227.70" y="0" width="0.90" height="272.3" fill="#ffffff" opacity="0.20"/>
<rect x="0" y="227.70" width="272.3" height="0.90" fill="#ffffff" opacity="0.20"/>
<rect x="228.60" y="0" width="1.20" height="272.3" fill="#ffffff" opacity="0.10"/>
<rect x="0" y="228.60" width="272.3" height="1.20" fill="#ffffff" opacity="0.10"/>
<rect x="229.80" y="0" width="0.90" height="272.3" fill="#ffffff" opacity="0.06"/>
<rect x="0" y="229.80" width="272.3" height="0.90" fill="#ffffff" opacity="0.06"/>
<rect x="230.70" y="0" width="1.20" height="272.3" fill="#ffffff" opacity="0.06"/>
<rect x="0" y="230.70" width="272.3" height="1.20" fill="#ffffff" opacity="0.06"/>
<rect x="231.90" y="0" width="1.50" height="272.3" fill="#ffffff" opacity="0.10"/>
<rect x="0" y="231.90" width="272.3" height="1.50" fill="#ffffff" opacity="0.10"/>
<rect x="233.40" y="0" width="0.90" height="272.3" fill="#ffffff" opacity="0.15"/>
<rect x="0" y="233.40" width="272.3" height="0.90" fill="#ffffff" opacity="0.15"/>
<rect x="234.30" y="0" width="0.90" height="272.3" fill="#ffffff" opacity="0.03"/>
<rect x="0" y="234.30" width="272.3" height="0.90" fill="#ffffff" opacity="0.03"/>
<rect x="235.20" y="0" width="1.20" height="272.3" fill="#ffffff" opacity="0.52"/>
<rect x="0" y="235.20" width="272.3" height="1.20" fill="#ffffff" opacity="0.52"/>
<rect x="236.40" y="0" width="1.50" height="272.3" fill="#ffffff" opacity="0.37"/>
<rect x="0" y="236.40" width="272.3" height="1.50" fill="#ffffff" opacity="0.37"/>
<rect x="237.90" y="0" width="1.50" height="272.3" fill="#ffffff" opacity="0.10"/>
<rect x="0" y="237.90" width="272.3" height="1.50" fill="#ffffff" opacity="0.10"/>
<rect x="239.40" y="0" width="1.50" height="272.3" fill="#ffffff" opacity="0.15"/>
<rect x="0" y="239.40" width="272.3" height="1.50" fill="#ffffff" opacity="0.15"/>
<rect x="240.90" y="0" width="1.50" height="272.3" fill="#ffffff" opacity="0.03"/>
<rect x="0" y="240.90" width="272.3" height="1.50" fill="#ffffff" opacity="0.03"/>
<rect x="242.40" y="0" width="1.20" height="272.3" fill="#ffffff" opacity="0.06"/>
<rect x="0" y="242.40" width="272.3" height="1.20" fill="#ffffff" opacity="0.06"/>
<rect x="243.60" y="0" width="1.20" height="272.3" fill="#ffffff" opacity="0.45"/>
<rect x="0" y="243.60" width="272.3" height="1.20" fill="#ffffff" opacity="0.45"/>
<rect x="244.80" y="0" width="1.50" height="272.3" fill="#ffffff" opacity="0.06"/>
<rect x="0" y="244.80" width="272.3" height="1.50" fill="#ffffff" opacity="0.06"/>
<rect x="246.30" y="0" width="1.20" height="272.3" fill="#ffffff" opacity="0.35"/>
<rect x="0" y="246.30" width="272.3" height="1.20" fill="#ffffff" opacity="0.35"/>
<rect x="247.50" y="0" width="1.20" height="272.3" fill="#ffffff" opacity="0.36"/>
<rect x="0" y="247.50" width="272.3" height="1.20" fill="#ffffff" opacity="0.36"/>
<rect x="248.70" y="0" width="1.20" height="272.3" fill="#ffffff" opacity="0.20"/>
<rect x="0" y="248.70" width="272.3" height="1.20" fill="#ffffff" opacity="0.20"/>
<rect x="249.90" y="0" width="1.20" height="272.3" fill="#ffffff" opacity="0.20"/>
<rect x="0" y="249.90" width="272.3" height="1.20" fill="#ffffff" opacity="0.20"/>
<rect x="251.10" y="0" width="0.90" height="272.3" fill="#ffffff" opacity="0.15"/>
<rect x="0" y="251.10" width="272.3" height="0.90" fill="#ffffff" opacity="0.15"/>
<rect x="252.00" y="0" width="0.90" height="272.3" fill="#ffffff" opacity="0.20"/>
<rect x="0" y="252.00" width="272.3" height="0.90" fill="#ffffff" opacity="0.20"/>
<rect x="252.90" y="0" width="0.90" height="272.3" fill="#ffffff" opacity="0.15"/>
<rect x="0" y="252.90" width="272.3" height="0.90" fill="#ffffff" opacity="0.15"/>
<rect x="253.80" y="0" width="0.90" height="272.3" fill="#ffffff" opacity="0.15"/>
<rect x="0" y="253.80" width="272.3" height="0.90" fill="#ffffff" opacity="0.15"/>
<rect x="254.70" y="0" width="0.90" height="272.3" fill="#ffffff" opacity="0.15"/>
<rect x="0" y="254.70" width="272.3" height="0.90" fill="#ffffff" opacity="0.15"/>
<rect x="255.60" y="0" width="1.50" height="272.3" fill="#ffffff" opacity="0.03"/>
<rect x="0" y="255.60" width="272.3" height="1.50" fill="#ffffff" opacity="0.03"/>
<rect x="257.10" y="0" width="1.20" height="272.3" fill="#ffffff" opacity="0.15"/>
<rect x="0" y="257.10" width="272.3" height="1.20" fill="#ffffff" opacity="0.15"/>
<rect x="258.30" y="0" width="1.20" height="272.3" fill="#ffffff" opacity="0.20"/>
<rect x="0" y="258.30" width="272.3" height="1.20" fill="#ffffff" opacity="0.20"/>
<rect x="259.50" y="0" width="1.50" height="272.3" fill="#ffffff" opacity="0.10"/>
<rect x="0" y="259.50" width="272.3" height="1.50" fill="#ffffff" opacity="0.10"/>
<rect x="261.00" y="0" width="1.20" height="272.3" fill="#ffffff" opacity="0.20"/>
<rect x="0" y="261.00" width="272.3" height="1.20" fill="#ffffff" opacity="0.20"/>
<rect x="262.20" y="0" width="1.50" height="272.3" fill="#ffffff" opacity="0.49"/>
<rect x="0" y="262.20" width="272.3" height="1.50" fill="#ffffff" opacity="0.49"/>
<rect x="263.70" y="0" width="1.50" height="272.3" fill="#ffffff" opacity="0.03"/>
<rect x="0" y="263.70" width="272.3" height="1.50" fill="#ffffff" opacity="0.03"/>
<rect x="265.20" y="0" width="1.20" height="272.3" fill="#ffffff" opacity="0.38"/>
<rect x="0" y="265.20" width="272.3" height="1.20" fill="#ffffff" opacity="0.38"/>
<rect x="266.40" y="0" width="1.20" height="272.3" fill="#ffffff" opacity="0.03"/>
<rect x="0" y="266.40" width="272.3" height="1.20" fill="#ffffff" opacity="0.03"/>
<rect x="267.60" y="0" width="1.50" height="272.3" fill="#ffffff" opacity="0.53"/>
<rect x="0" y="267.60" width="272.3" height="1.50" fill="#ffffff" opacity="0.53"/>
<rect x="269.10" y="0" width="1.20" height="272.3" fill="#ffffff" opacity="0.15"/>
<rect x="0" y="269.10" width="272.3" height="1.20" fill="#ffffff" opacity="0.15"/>
<rect x="270.30" y="0" width="0.90" height="272.3" fill="#ffffff" opacity="0.03"/>
<rect x="0" y="270.30" width="272.3" height="0.90" fill="#ffffff" opacity="0.03"/>
<rect x="271.20" y="0" width="1.10" height="272.3" fill="#ffffff" opacity="0.54"/>
<rect x="0" y="271.20" width="272.3" height="1.10" fill="#ffffff" opacity="0.54"/>
<rect x="0.00" y="0" width="1.20" height="272.3" fill="#ffffff" opacity="0.50"/>
<rect x="0" y="0.00" width="272.3" height="1.20" fill="#ffffff" opacity="0.50"/>
<rect x="2.40" y="0" width="1.20" height="272.3" fill="#ffffff" opacity="0.50"/>
<rect x="0" y="2.40" width="272.3" height="1.20" fill="#ffffff" opacity="0.50"/>
<rect x="4.00" y="0" width="1.00" height="272.3" fill="#ffffff" opacity="0.40"/>
<rect x="0" y="4.00" width="272.3" height="1.00" fill="#ffffff" opacity="0.40"/>
<rect x="5.00" y="0" width="3.00" height="272.3" fill="#ffffff" opacity="0.15"/>
<rect x="0" y="5.00" width="272.3" height="3.00" fill="#ffffff" opacity="0.15"/>
<rect x="8.00" y="0" width="0.90" height="272.3" fill="#ffffff" opacity="0.75"/>
<rect x="0" y="8.00" width="272.3" height="0.90" fill="#ffffff" opacity="0.75"/>
<rect x="8.20" y="0" width="0.50" height="272.3" fill="#b4b4ff" opacity="0.75"/>
<rect x="0" y="8.20" width="272.3" height="0.50" fill="#b4b4ff" opacity="0.75"/>
<rect x="9.40" y="0" width="0.80" height="272.3" fill="#ffffff" opacity="0.50"/>
<rect x="0" y="9.40" width="272.3" height="0.80" fill="#ffffff" opacity="0.50"/>
<rect x="10.70" y="0" width="0.90" height="272.3" fill="#ffffff" opacity="0.75"/>
<rect x="0" y="10.70" width="272.3" height="0.90" fill="#ffffff" opacity="0.75"/>
<rect x="10.90" y="0" width="0.50" height="272.3" fill="#b4b4ff" opacity="0.75"/>
<rect x="0" y="10.90" width="272.3" height="0.50" fill="#b4b4ff" opacity="0.75"/>
<rect x="12.00" y="0" width="0.80" height="272.3" fill="#ffffff" opacity="0.45"/>
<rect x="0" y="12.00" width="272.3" height="0.80" fill="#ffffff" opacity="0.45"/>
<rect x="13.10" y="0" width="0.90" height="272.3" fill="#ffffff" opacity="0.75"/>
<rect x="0" y="13.10" width="272.3" height="0.90" fill="#ffffff" opacity="0.75"/>
<rect x="13.30" y="0" width="0.50" height="272.3" fill="#b4b4ff" opacity="0.75"/>
<rect x="0" y="13.30" width="272.3" height="0.50" fill="#b4b4ff" opacity="0.75"/>
<rect x="14.50" y="0" width="0.70" height="272.3" fill="#ffffff" opacity="0.45"/>
<rect x="0" y="14.50" width="272.3" height="0.70" fill="#ffffff" opacity="0.45"/>
<rect x="15.50" y="0" width="0.90" height="272.3" fill="#ffffff" opacity="0.70"/>
<rect x="0" y="15.50" width="272.3" height="0.90" fill="#ffffff" opacity="0.70"/>
<rect x="15.70" y="0" width="0.50" height="272.3" fill="#b4b4ff" opacity="0.75"/>
<rect x="0" y="15.70" width="272.3" height="0.50" fill="#b4b4ff" opacity="0.75"/>
<rect x="16.90" y="0" width="1.60" height="272.3" fill="#ffffff" opacity="0.80"/>
<rect x="0" y="16.90" width="272.3" height="1.60" fill="#ffffff" opacity="0.80"/>
<rect x="25.20" y="0" width="1.00" height="272.3" fill="#ffffff" opacity="0.30"/>
<rect x="0" y="25.20" width="272.3" height="1.00" fill="#ffffff" opacity="0.30"/>
<rect x="31.80" y="0" width="1.00" height="272.3" fill="#ffffff" opacity="0.30"/>
<rect x="0" y="31.80" width="272.3" height="1.00" fill="#ffffff" opacity="0.30"/>
<rect x="39.00" y="0" width="1.00" height="272.3" fill="#ffffff" opacity="0.30"/>
<rect x="0" y="39.00" width="272.3" height="1.00" fill="#ffffff" opacity="0.30"/>
<rect x="51.50" y="0" width="2.50" height="272.3" fill="#ffffff" opacity="0.85"/>
<rect x="0" y="51.50" width="272.3" height="2.50" fill="#ffffff" opacity="0.85"/>
<rect x="57.50" y="0" width="1.50" height="272.3" fill="#ffffff" opacity="0.80"/>
<rect x="0" y="57.50" width="272.3" height="1.50" fill="#ffffff" opacity="0.80"/>
<rect x="60.00" y="0" width="1.50" height="272.3" fill="#ffffff" opacity="0.60"/>
<rect x="0" y="60.00" width="272.3" height="1.50" fill="#ffffff" opacity="0.60"/>
<rect x="66.00" y="0" width="1.20" height="272.3" fill="#ffffff" opacity="0.80"/>
<rect x="0" y="66.00" width="272.3" height="1.20" fill="#ffffff" opacity="0.80"/>
<rect x="66.26" y="0" width="0.67" height="272.3" fill="#b4b4ff" opacity="0.75"/>
<rect x="0" y="66.26" width="272.3" height="0.67" fill="#b4b4ff" opacity="0.75"/>
<rect x="67.20" y="0" width="1.30" height="272.3" fill="#ffffff" opacity="0.80"/>
<rect x="0" y="67.20" width="272.3" height="1.30" fill="#ffffff" opacity="0.80"/>
<rect x="72.20" y="0" width="1.00" height="272.3" fill="#ffffff" opacity="0.30"/>
<rect x="0" y="72.20" width="272.3" height="1.00" fill="#ffffff" opacity="0.30"/>
<rect x="77.80" y="0" width="1.00" height="272.3" fill="#ffffff" opacity="0.30"/>
<rect x="0" y="77.80" width="272.3" height="1.00" fill="#ffffff" opacity="0.30"/>
<rect x="86.00" y="0" width="1.00" height="272.3" fill="#ffffff" opacity="0.25"/>
<rect x="0" y="86.00" width="272.3" height="1.00" fill="#ffffff" opacity="0.25"/>
<rect x="94.00" y="0" width="1.00" height="272.3" fill="#ffffff" opacity="0.25"/>
<rect x="0" y="94.00" width="272.3" height="1.00" fill="#ffffff" opacity="0.25"/>
<rect x="105.00" y="0" width="2.00" height="272.3" fill="#ffffff" opacity="0.85"/>
<rect x="0" y="105.00" width="272.3" height="2.00" fill="#ffffff" opacity="0.85"/>
<rect x="108.00" y="0" width="1.50" height="272.3" fill="#ffffff" opacity="0.80"/>
<rect x="0" y="108.00" width="272.3" height="1.50" fill="#ffffff" opacity="0.80"/>
<rect x="108.33" y="0" width="0.84" height="272.3" fill="#b4b4ff" opacity="0.75"/>
<rect x="0" y="108.33" width="272.3" height="0.84" fill="#b4b4ff" opacity="0.75"/>
<rect x="110.00" y="0" width="1.50" height="272.3" fill="#ffffff" opacity="0.85"/>
<rect x="0" y="110.00" width="272.3" height="1.50" fill="#ffffff" opacity="0.85"/>
<rect x="112.00" y="0" width="2.60" height="272.3" fill="#ffffff" opacity="0.75"/>
<rect x="0" y="112.00" width="272.3" height="2.60" fill="#ffffff" opacity="0.75"/>
<rect x="112.57" y="0" width="1.46" height="272.3" fill="#b4b4ff" opacity="0.75"/>
<rect x="0" y="112.57" width="272.3" height="1.46" fill="#b4b4ff" opacity="0.75"/>
<rect x="121.20" y="0" width="1.10" height="272.3" fill="#ffffff" opacity="0.80"/>
<rect x="0" y="121.20" width="272.3" height="1.10" fill="#ffffff" opacity="0.80"/>
<rect x="127.90" y="0" width="1.50" height="272.3" fill="#ffffff" opacity="0.80"/>
<rect x="0" y="127.90" width="272.3" height="1.50" fill="#ffffff" opacity="0.80"/>
<rect x="134.00" y="0" width="2.60" height="272.3" fill="#ffffff" opacity="0.50"/>
<rect x="0" y="134.00" width="272.3" height="2.60" fill="#ffffff" opacity="0.50"/>
<rect x="140.20" y="0" width="1.00" height="272.3" fill="#ffffff" opacity="0.30"/>
<rect x="0" y="140.20" width="272.3" height="1.00" fill="#ffffff" opacity="0.30"/>
<rect x="144.30" y="0" width="1.00" height="272.3" fill="#ffffff" opacity="0.30"/>
<rect x="0" y="144.30" width="272.3" height="1.00" fill="#ffffff" opacity="0.30"/>
<rect x="150.00" y="0" width="2.50" height="272.3" fill="#ffffff" opacity="0.60"/>
<rect x="0" y="150.00" width="272.3" height="2.50" fill="#ffffff" opacity="0.60"/>
<rect x="155.50" y="0" width="1.50" height="272.3" fill="#ffffff" opacity="0.80"/>
<rect x="0" y="155.50" width="272.3" height="1.50" fill="#ffffff" opacity="0.80"/>
<rect x="157.00" y="0" width="2.00" height="272.3" fill="#ffffff" opacity="0.85"/>
<rect x="0" y="157.00" width="272.3" height="2.00" fill="#ffffff" opacity="0.85"/>
<rect x="157.44" y="0" width="1.12" height="272.3" fill="#b4b4ff" opacity="0.75"/>
<rect x="0" y="157.44" width="272.3" height="1.12" fill="#b4b4ff" opacity="0.75"/>
<rect x="159.00" y="0" width="1.00" height="272.3" fill="#ffffff" opacity="0.70"/>
<rect x="0" y="159.00" width="272.3" height="1.00" fill="#ffffff" opacity="0.70"/>
<rect x="165.00" y="0" width="1.00" height="272.3" fill="#ffffff" opacity="0.25"/>
<rect x="0" y="165.00" width="272.3" height="1.00" fill="#ffffff" opacity="0.25"/>
<rect x="173.00" y="0" width="2.00" height="272.3" fill="#ffffff" opacity="0.60"/>
<rect x="0" y="173.00" width="272.3" height="2.00" fill="#ffffff" opacity="0.60"/>
<rect x="180.60" y="0" width="2.00" height="272.3" fill="#ffffff" opacity="0.50"/>
<rect x="0" y="180.60" width="272.3" height="2.00" fill="#ffffff" opacity="0.50"/>
<rect x="187.70" y="0" width="1.30" height="272.3" fill="#ffffff" opacity="0.80"/>
<rect x="0" y="187.70" width="272.3" height="1.30" fill="#ffffff" opacity="0.80"/>
<rect x="189.00" y="0" width="1.30" height="272.3" fill="#ffffff" opacity="0.80"/>
<rect x="0" y="189.00" width="272.3" height="1.30" fill="#ffffff" opacity="0.80"/>
<rect x="189.29" y="0" width="0.73" height="272.3" fill="#b4b4ff" opacity="0.75"/>
<rect x="0" y="189.29" width="272.3" height="0.73" fill="#b4b4ff" opacity="0.75"/>
<rect x="196.00" y="0" width="2.00" height="272.3" fill="#ffffff" opacity="0.85"/>
<rect x="0" y="196.00" width="272.3" height="2.00" fill="#ffffff" opacity="0.85"/>
<rect x="200.50" y="0" width="0.80" height="272.3" fill="#ffffff" opacity="0.60"/>
<rect x="0" y="200.50" width="272.3" height="0.80" fill="#ffffff" opacity="0.60"/>
<rect x="203.00" y="0" width="1.12" height="272.3" fill="#ffffff" opacity="0.60"/>
<rect x="0" y="203.00" width="272.3" height="1.12" fill="#ffffff" opacity="0.60"/>
<rect x="206.20" y="0" width="0.80" height="272.3" fill="#ffffff" opacity="0.60"/>
<rect x="0" y="206.20" width="272.3" height="0.80" fill="#ffffff" opacity="0.60"/>
<rect x="208.70" y="0" width="0.80" height="272.3" fill="#ffffff" opacity="0.60"/>
<rect x="0" y="208.70" width="272.3" height="0.80" fill="#ffffff" opacity="0.60"/>
<rect x="211.50" y="0" width="0.96" height="272.3" fill="#ffffff" opacity="0.60"/>
<rect x="0" y="211.50" width="272.3" height="0.96" fill="#ffffff" opacity="0.60"/>
<rect x="215.50" y="0" width="0.80" height="272.3" fill="#ffffff" opacity="0.50"/>
<rect x="0" y="215.50" width="272.3" height="0.80" fill="#ffffff" opacity="0.50"/>
<rect x="218.50" y="0" width="0.80" height="272.3" fill="#ffffff" opacity="0.50"/>
<rect x="0" y="218.50" width="272.3" height="0.80" fill="#ffffff" opacity="0.50"/>
<rect x="221.00" y="0" width="0.80" height="272.3" fill="#ffffff" opacity="0.50"/>
<rect x="0" y="221.00" width="272.3" height="0.80" fill="#ffffff" opacity="0.50"/>
<rect x="224.50" y="0" width="1.20" height="272.3" fill="#ffffff" opacity="0.50"/>
<rect x="0" y="224.50" width="272.3" height="1.20" fill="#ffffff" opacity="0.50"/>
<rect x="228.50" y="0" width="0.80" height="272.3" fill="#ffffff" opacity="0.50"/>
<rect x="0" y="228.50" width="272.3" height="0.80" fill="#ffffff" opacity="0.50"/>
<rect x="231.20" y="0" width="0.80" height="272.3" fill="#ffffff" opacity="0.50"/>
<rect x="0" y="231.20" width="272.3" height="0.80" fill="#ffffff" opacity="0.50"/>
<rect x="235.30" y="0" width="1.50" height="272.3" fill="#ffffff" opacity="0.80"/>
<rect x="0" y="235.30" width="272.3" height="1.50" fill="#ffffff" opacity="0.80"/>
<rect x="235.63" y="0" width="0.84" height="272.3" fill="#b4b4ff" opacity="0.75"/>
<rect x="0" y="235.63" width="272.3" height="0.84" fill="#b4b4ff" opacity="0.75"/>
<rect x="239.40" y="0" width="1.28" height="272.3" fill="#ffffff" opacity="0.50"/>
<rect x="0" y="239.40" width="272.3" height="1.28" fill="#ffffff" opacity="0.50"/>
<rect x="244.00" y="0" width="1.50" height="272.3" fill="#ffffff" opacity="0.80"/>
<rect x="0" y="244.00" width="272.3" height="1.50" fill="#ffffff" opacity="0.80"/>
<rect x="244.33" y="0" width="0.84" height="272.3" fill="#b4b4ff" opacity="0.75"/>
<rect x="0" y="244.33" width="272.3" height="0.84" fill="#b4b4ff" opacity="0.75"/>
<rect x="248.00" y="0" width="1.28" height="272.3" fill="#ffffff" opacity="0.80"/>
<rect x="0" y="248.00" width="272.3" height="1.28" fill="#ffffff" opacity="0.80"/>
<rect x="251.60" y="0" width="0.80" height="272.3" fill="#ffffff" opacity="0.80"/>
<rect x="0" y="251.60" width="272.3" height="0.80" fill="#ffffff" opacity="0.80"/>
<rect x="254.20" y="0" width="0.80" height="272.3" fill="#ffffff" opacity="0.80"/>
<rect x="0" y="254.20" width="272.3" height="0.80" fill="#ffffff" opacity="0.80"/>
<rect x="256.20" y="0" width="1.60" height="272.3" fill="#ffffff" opacity="0.80"/>
<rect x="0" y="256.20" width="272.3" height="1.60" fill="#ffffff" opacity="0.80"/>
<rect x="262.40" y="0" width="0.80" height="272.3" fill="#ffffff" opacity="0.80"/>
<rect x="0" y="262.40" width="272.3" height="0.80" fill="#ffffff" opacity="0.80"/>
</g></g>
<defs><linearGradient id="cb" x1="0" x2="1" y1="0" y2="0"><stop offset="0" stop-color="#ff0000"/><stop offset="0.5" stop-color="#ffffff"/><stop offset="1" stop-color="#0000ff"/></linearGradient></defs>
<rect x="0.60" y="454.90" width="98.50" height="9.20" fill="url(#cb)" />
<text x="51.00" y="431.10" font-size="2.6" fill="#222" text-anchor="middle" font-family="Liberation Sans, Arial, sans-serif" stroke="#222" stroke-width="0.04" >Physical Distance: 61.6 kb</text>
<text x="49.90" y="447.30" font-size="2.58" fill="#222" text-anchor="middle" font-family="Liberation Sans, Arial, sans-serif" stroke="#222" stroke-width="0.04" >Correlation Matrix Map Type: Spearman</text>
<text x="0.60" y="471.00" font-size="2.2" fill="#111" text-anchor="middle" font-family="Liberation Sans, Arial, sans-serif" stroke="#111" stroke-width="0.1" >1</text>
<text x="20.30" y="471.00" font-size="2.2" fill="#111" text-anchor="middle" font-family="Liberation Sans, Arial, sans-serif" stroke="#111" stroke-width="0.1" >0.6</text>
<text x="40.00" y="471.00" font-size="2.2" fill="#111" text-anchor="middle" font-family="Liberation Sans, Arial, sans-serif" stroke="#111" stroke-width="0.1" >0.2</text>
<text x="59.70" y="471.00" font-size="2.2" fill="#111" text-anchor="middle" font-family="Liberation Sans, Arial, sans-serif" stroke="#111" stroke-width="0.1" >-0.2</text>
<text x="79.40" y="471.00" font-size="2.2" fill="#111" text-anchor="middle" font-family="Liberation Sans, Arial, sans-serif" stroke="#111" stroke-width="0.1" >-0.6</text>
<text x="99.10" y="471.00" font-size="2.2" fill="#111" text-anchor="middle" font-family="Liberation Sans, Arial, sans-serif" stroke="#111" stroke-width="0.1" >-1</text>
<text x="254.10" y="477.70" font-size="2.0" fill="#111" text-anchor="start" font-family="Liberation Sans, Arial, sans-serif" stroke="#111" stroke-width="0.1" >CpG</text>
<text x="254.10" y="486.60" font-size="2.0" fill="#111" text-anchor="start" font-family="Liberation Sans, Arial, sans-serif" stroke="#111" stroke-width="0.1" >cg05575921</text>
<text x="0.00" y="0.00" font-size="14.1" fill="#000" text-anchor="start" font-family="Liberation Serif, Times New Roman, serif"  font-weight="bold" transform="translate(366.6,9.65) scale(0.99,1)">B.</text>
<line x1="400.30" y1="107.35" x2="668.90" y2="107.35" stroke="#d8d8d8" stroke-width="0.6" stroke-dasharray="0.9 1.16"/>
<line x1="400.30" y1="96.45" x2="668.90" y2="96.45" stroke="#d8d8d8" stroke-width="0.6" stroke-dasharray="0.9 1.16"/>
<line x1="400.30" y1="85.55" x2="668.90" y2="85.55" stroke="#d8d8d8" stroke-width="0.6" stroke-dasharray="0.9 1.16"/>
<line x1="400.30" y1="74.65" x2="668.90" y2="74.65" stroke="#d8d8d8" stroke-width="0.6" stroke-dasharray="0.9 1.16"/>
<line x1="400.30" y1="63.75" x2="668.90" y2="63.75" stroke="#d8d8d8" stroke-width="0.6" stroke-dasharray="0.9 1.16"/>
<line x1="400.30" y1="52.85" x2="668.90" y2="52.85" stroke="#d8d8d8" stroke-width="0.6" stroke-dasharray="0.9 1.16"/>
<line x1="398.70" y1="42.10" x2="668.90" y2="42.10" stroke="#ff2020" stroke-width="0.65" stroke-dasharray="0.95 0.9"/>
<line x1="398.30" y1="30.80" x2="398.30" y2="118.40" stroke="#4a4a4a" stroke-width="0.5" />
<line x1="396.60" y1="118.40" x2="398.30" y2="118.40" stroke="#222" stroke-width="0.45" />
<text x="395.30" y="119.18" font-size="2.2" fill="#000" text-anchor="end" font-family="Liberation Sans, Arial, sans-serif" stroke="#000" stroke-width="0.1" >0</text>
<line x1="396.60" y1="107.50" x2="398.30" y2="107.50" stroke="#222" stroke-width="0.45" />
<text x="395.30" y="108.28" font-size="2.2" fill="#000" text-anchor="end" font-family="Liberation Sans, Arial, sans-serif" stroke="#000" stroke-width="0.1" >1</text>
<line x1="396.60" y1="96.60" x2="398.30" y2="96.60" stroke="#222" stroke-width="0.45" />
<text x="395.30" y="97.38" font-size="2.2" fill="#000" text-anchor="end" font-family="Liberation Sans, Arial, sans-serif" stroke="#000" stroke-width="0.1" >2</text>
<line x1="396.60" y1="85.70" x2="398.30" y2="85.70" stroke="#222" stroke-width="0.45" />
<text x="395.30" y="86.48" font-size="2.2" fill="#000" text-anchor="end" font-family="Liberation Sans, Arial, sans-serif" stroke="#000" stroke-width="0.1" >3</text>
<line x1="396.60" y1="74.80" x2="398.30" y2="74.80" stroke="#222" stroke-width="0.45" />
<text x="395.30" y="75.58" font-size="2.2" fill="#000" text-anchor="end" font-family="Liberation Sans, Arial, sans-serif" stroke="#000" stroke-width="0.1" >4</text>
<line x1="396.60" y1="63.90" x2="398.30" y2="63.90" stroke="#222" stroke-width="0.45" />
<text x="395.30" y="64.68" font-size="2.2" fill="#000" text-anchor="end" font-family="Liberation Sans, Arial, sans-serif" stroke="#000" stroke-width="0.1" >5</text>
<line x1="396.60" y1="53.00" x2="398.30" y2="53.00" stroke="#222" stroke-width="0.45" />
<text x="395.30" y="53.78" font-size="2.2" fill="#000" text-anchor="end" font-family="Liberation Sans, Arial, sans-serif" stroke="#000" stroke-width="0.1" >6</text>
<line x1="396.60" y1="42.10" x2="398.30" y2="42.10" stroke="#222" stroke-width="0.45" />
<text x="395.30" y="42.88" font-size="2.2" fill="#000" text-anchor="end" font-family="Liberation Sans, Arial, sans-serif" stroke="#000" stroke-width="0.1" >7</text>
<line x1="396.60" y1="31.20" x2="398.30" y2="31.20" stroke="#222" stroke-width="0.45" />
<text x="395.30" y="31.98" font-size="2.2" fill="#000" text-anchor="end" font-family="Liberation Sans, Arial, sans-serif" stroke="#000" stroke-width="0.1" >8</text>
<line x1="398.00" y1="118.45" x2="669.20" y2="118.45" stroke="#000" stroke-width="0.95" />
<text x="0.00" y="0.00" font-size="2.95" fill="#222" text-anchor="middle" font-family="Liberation Sans, Arial, sans-serif" stroke="#222" stroke-width="0.04" transform="translate(372.60,74.7) rotate(-90)">-log10(P-value)</text>
<text x="526.00" y="129.80" font-size="4.7" fill="#7a7a7a" text-anchor="middle" font-family="Liberation Sans, Arial, sans-serif"  >PHGDH</text>
<text x="398.60" y="25.90" font-size="2.6" fill="#9c9c9c" text-anchor="start" font-family="Liberation Sans, Arial, sans-serif" stroke="#9c9c9c" stroke-width="0.03" >Chromosome 1</text>
<text x="379.80" y="128.00" font-size="2.0" fill="#333" text-anchor="start" font-family="Liberation Sans, Arial, sans-serif" stroke="#333" stroke-width="0.05" >120253000 bp</text>
<text x="674.00" y="128.00" font-size="2.0" fill="#333" text-anchor="start" font-family="Liberation Sans, Arial, sans-serif" stroke="#333" stroke-width="0.05" >120286800 bp</text>
<text x="0.00" y="0.00" font-size="5.7" fill="#000" text-anchor="middle" font-family="Liberation Sans, Arial, sans-serif" stroke="#000" stroke-width="0.12" font-weight="bold" font-style="italic" transform="translate(534.00,8.9) scale(0.91,1)">PHGDH</text>
<clipPath id="c1a"><path d="M453.20,22.20 H556.57 Q557.47,22.20 560.53,24.57 Q563.93,22.20 564.83,22.20 H667.20 A1.7,1.7 0 0 1 668.90,23.90 V25.75 A1.7,1.7 0 0 1 667.20,27.45 H564.83 Q563.93,27.45 560.53,25.07 Q557.47,27.45 556.57,27.45 H453.20 A1.7,1.7 0 0 1 451.50,25.75 V23.90 A1.7,1.7 0 0 1 453.20,22.20 Z"/></clipPath>
<g clip-path="url(#c1a)">
<rect x="453.51" y="22.20" width="2.70" height="5.25" fill="#c8c8c8" />
<rect x="457.78" y="22.20" width="1.74" height="5.25" fill="#c8c8c8" />
<rect x="462.58" y="22.20" width="3.05" height="5.25" fill="#8c8c8c" />
<rect x="469.29" y="22.20" width="3.05" height="5.25" fill="#c8c8c8" />
<rect x="475.92" y="22.20" width="1.92" height="5.25" fill="#c8c8c8" />
<rect x="479.76" y="22.20" width="1.92" height="5.25" fill="#c8c8c8" />
<rect x="486.48" y="22.20" width="3.49" height="5.25" fill="#c8c8c8" />
<rect x="492.32" y="22.20" width="3.40" height="5.25" fill="#505050" />
<rect x="500.43" y="22.20" width="2.53" height="5.25" fill="#8c8c8c" />
<rect x="504.97" y="22.20" width="6.63" height="5.25" fill="#8c8c8c" />
<rect x="512.29" y="22.20" width="13.26" height="5.25" fill="#000000" />
<rect x="528.60" y="22.20" width="3.14" height="5.25" fill="#505050" />
<rect x="534.10" y="22.20" width="4.36" height="5.25" fill="#505050" />
<rect x="540.64" y="22.20" width="4.36" height="5.25" fill="#000000" />
<rect x="549.01" y="22.20" width="3.75" height="5.25" fill="#8c8c8c" />
<rect x="554.25" y="22.20" width="2.44" height="5.25" fill="#8c8c8c" />
<rect x="557.37" y="22.20" width="3.25" height="5.25" fill="#8b1a1a" />
<rect x="560.43" y="22.20" width="3.60" height="5.25" fill="#8b1a1a" />
<rect x="563.93" y="22.20" width="11.95" height="5.25" fill="#000000" />
<rect x="579.72" y="22.20" width="2.88" height="5.25" fill="#8c8c8c" />
<rect x="586.69" y="22.20" width="1.31" height="5.25" fill="#8c8c8c" />
<rect x="590.27" y="22.20" width="1.22" height="5.25" fill="#8c8c8c" />
<rect x="595.85" y="22.20" width="1.48" height="5.25" fill="#8c8c8c" />
<rect x="600.56" y="22.20" width="1.74" height="5.25" fill="#505050" />
<rect x="605.01" y="22.20" width="3.75" height="5.25" fill="#8c8c8c" />
<rect x="613.56" y="22.20" width="4.36" height="5.25" fill="#000000" />
<rect x="620.54" y="22.20" width="4.27" height="5.25" fill="#000000" />
<rect x="632.22" y="22.20" width="3.75" height="5.25" fill="#c8c8c8" />
<rect x="638.59" y="22.20" width="8.37" height="5.25" fill="#000000" />
<rect x="647.40" y="22.20" width="2.09" height="5.25" fill="#c8c8c8" />
<rect x="652.72" y="22.20" width="3.49" height="5.25" fill="#8c8c8c" />
<rect x="657.87" y="22.20" width="6.19" height="5.25" fill="#505050" />
</g>
<path d="M453.20,22.20 H556.57 Q557.47,22.20 560.53,24.57 Q563.93,22.20 564.83,22.20 H667.20 A1.7,1.7 0 0 1 668.90,23.90 V25.75 A1.7,1.7 0 0 1 667.20,27.45 H564.83 Q563.93,27.45 560.53,25.07 Q557.47,27.45 556.57,27.45 H453.20 A1.7,1.7 0 0 1 451.50,25.75 V23.90 A1.7,1.7 0 0 1 453.20,22.20 Z" fill="none" stroke="#2a2a2a" stroke-width="0.55"/>
<line x1="556.20" y1="19.60" x2="556.20" y2="29.75" stroke="#e8000a" stroke-width="0.75" />
<line x1="398.30" y1="118.60" x2="398.30" y2="122.20" stroke="#111" stroke-width="0.45" />
<line x1="504.40" y1="118.60" x2="504.40" y2="122.20" stroke="#111" stroke-width="0.45" />
<line x1="508.30" y1="118.60" x2="508.30" y2="122.20" stroke="#111" stroke-width="0.45" />
<line x1="509.30" y1="118.60" x2="509.30" y2="122.20" stroke="#111" stroke-width="0.45" />
<line x1="510.00" y1="118.60" x2="510.00" y2="122.20" stroke="#111" stroke-width="0.45" />
<line x1="510.60" y1="118.60" x2="510.60" y2="122.20" stroke="#111" stroke-width="0.45" />
<line x1="511.00" y1="118.60" x2="511.00" y2="122.20" stroke="#111" stroke-width="0.45" />
<line x1="512.00" y1="118.60" x2="512.00" y2="122.20" stroke="#111" stroke-width="0.45" />
<line x1="512.60" y1="118.60" x2="512.60" y2="122.20" stroke="#111" stroke-width="0.45" />
<line x1="513.00" y1="118.60" x2="513.00" y2="122.20" stroke="#111" stroke-width="0.45" />
<line x1="515.30" y1="118.60" x2="515.30" y2="122.20" stroke="#111" stroke-width="0.45" />
<line x1="515.70" y1="118.60" x2="515.70" y2="122.20" stroke="#7a2fb0" stroke-width="0.45" />
<line x1="526.60" y1="118.60" x2="526.60" y2="122.20" stroke="#111" stroke-width="0.45" />
<line x1="591.20" y1="118.60" x2="591.20" y2="122.20" stroke="#111" stroke-width="0.45" />
<line x1="596.10" y1="118.60" x2="596.10" y2="122.20" stroke="#777" stroke-width="0.45" />
<line x1="646.00" y1="118.60" x2="646.00" y2="122.20" stroke="#777" stroke-width="0.45" />
<line x1="654.70" y1="118.60" x2="654.70" y2="122.20" stroke="#111" stroke-width="0.45" />
<line x1="668.70" y1="118.60" x2="668.70" y2="122.20" stroke="#111" stroke-width="0.45" />
<circle cx="398.30" cy="118.18" r="0.62" fill="#b41616" stroke="#3a0a0a" stroke-width="0.3"/>
<circle cx="504.40" cy="116.87" r="0.62" fill="#b41616" stroke="#3a0a0a" stroke-width="0.3"/>
<circle cx="508.30" cy="114.37" r="0.62" fill="#b41616" stroke="#3a0a0a" stroke-width="0.3"/>
<circle cx="509.30" cy="117.53" r="0.62" fill="#b41616" stroke="#3a0a0a" stroke-width="0.3"/>
<circle cx="510.00" cy="108.92" r="0.62" fill="#b41616" stroke="#3a0a0a" stroke-width="0.3"/>
<circle cx="510.60" cy="117.31" r="0.62" fill="#b41616" stroke="#3a0a0a" stroke-width="0.3"/>
<circle cx="511.00" cy="111.97" r="0.62" fill="#b41616" stroke="#3a0a0a" stroke-width="0.3"/>
<circle cx="512.00" cy="117.09" r="0.62" fill="#b41616" stroke="#3a0a0a" stroke-width="0.3"/>
<circle cx="512.60" cy="116.00" r="0.62" fill="#b41616" stroke="#3a0a0a" stroke-width="0.3"/>
<circle cx="513.00" cy="112.95" r="0.62" fill="#b41616" stroke="#3a0a0a" stroke-width="0.3"/>
<circle cx="515.30" cy="44.93" r="0.62" fill="#b41616" stroke="#3a0a0a" stroke-width="0.3"/>
<rect x="514.85" y="37.38" width="1.7" height="1.6" fill="#d10f17" stroke="#7a0000" stroke-width="0.25"/>
<circle cx="526.60" cy="107.72" r="0.62" fill="#b41616" stroke="#3a0a0a" stroke-width="0.3"/>
<circle cx="591.20" cy="114.91" r="0.62" fill="#b41616" stroke="#3a0a0a" stroke-width="0.3"/>
<circle cx="596.10" cy="117.75" r="0.62" fill="#b41616" stroke="#3a0a0a" stroke-width="0.3"/>
<circle cx="646.00" cy="111.10" r="0.62" fill="#b41616" stroke="#3a0a0a" stroke-width="0.3"/>
<circle cx="654.70" cy="116.87" r="0.62" fill="#b41616" stroke="#3a0a0a" stroke-width="0.3"/>
<circle cx="668.70" cy="114.15" r="0.62" fill="#b41616" stroke="#3a0a0a" stroke-width="0.3"/>
<line x1="398.30" y1="143.50" x2="654.70" y2="143.50" stroke="#ffa500" stroke-width="0.7" />
<polyline points="403.67,141.85 406.57,143.50 403.67,145.15" fill="none" stroke="#ffa500" stroke-width="0.8" stroke-linejoin="miter"/>
<polyline points="412.96,141.85 415.86,143.50 412.96,145.15" fill="none" stroke="#ffa500" stroke-width="0.8" stroke-linejoin="miter"/>
<polyline points="422.26,141.85 425.16,143.50 422.26,145.15" fill="none" stroke="#ffa500" stroke-width="0.8" stroke-linejoin="miter"/>
<polyline points="431.31,141.85 434.21,143.50 431.31,145.15" fill="none" stroke="#ffa500" stroke-width="0.8" stroke-linejoin="miter"/>
<polyline points="440.60,141.85 443.50,143.50 440.60,145.15" fill="none" stroke="#ffa500" stroke-width="0.8" stroke-linejoin="miter"/>
<polyline points="449.65,141.85 452.55,143.50 449.65,145.15" fill="none" stroke="#ffa500" stroke-width="0.8" stroke-linejoin="miter"/>
<polyline points="458.69,141.85 461.59,143.50 458.69,145.15" fill="none" stroke="#ffa500" stroke-width="0.8" stroke-linejoin="miter"/>
<polyline points="467.74,141.85 470.64,143.50 467.74,145.15" fill="none" stroke="#ffa500" stroke-width="0.8" stroke-linejoin="miter"/>
<polyline points="477.03,141.85 479.93,143.50 477.03,145.15" fill="none" stroke="#ffa500" stroke-width="0.8" stroke-linejoin="miter"/>
<polyline points="485.83,141.85 488.73,143.50 485.83,145.15" fill="none" stroke="#ffa500" stroke-width="0.8" stroke-linejoin="miter"/>
<polyline points="495.13,141.85 498.03,143.50 495.13,145.15" fill="none" stroke="#ffa500" stroke-width="0.8" stroke-linejoin="miter"/>
<polyline points="513.34,141.85 516.24,143.50 513.34,145.15" fill="none" stroke="#ffa500" stroke-width="0.8" stroke-linejoin="miter"/>
<polyline points="522.27,141.85 525.17,143.50 522.27,145.15" fill="none" stroke="#ffa500" stroke-width="0.8" stroke-linejoin="miter"/>
<polyline points="531.21,141.85 534.11,143.50 531.21,145.15" fill="none" stroke="#ffa500" stroke-width="0.8" stroke-linejoin="miter"/>
<polyline points="567.93,141.85 570.83,143.50 567.93,145.15" fill="none" stroke="#ffa500" stroke-width="0.8" stroke-linejoin="miter"/>
<polyline points="595.23,141.85 598.13,143.50 595.23,145.15" fill="none" stroke="#ffa500" stroke-width="0.8" stroke-linejoin="miter"/>
<polyline points="604.41,141.85 607.31,143.50 604.41,145.15" fill="none" stroke="#ffa500" stroke-width="0.8" stroke-linejoin="miter"/>
<rect x="509.20" y="136.20" width="1.00" height="14.50" fill="#ffa500" />
<rect x="544.03" y="136.20" width="8.68" height="14.50" fill="#ffa500" />
<rect x="560.16" y="136.20" width="1.24" height="14.50" fill="#ffa500" />
<rect x="564.63" y="136.20" width="1.24" height="14.50" fill="#ffa500" />
<rect x="576.04" y="136.20" width="1.99" height="14.50" fill="#ffa500" />
<rect x="588.20" y="136.20" width="1.24" height="14.50" fill="#ffa500" />
<rect x="590.19" y="136.20" width="1.49" height="14.50" fill="#ffa500" />
<rect x="610.53" y="136.20" width="1.49" height="14.50" fill="#ffa500" />
<rect x="613.76" y="136.20" width="1.74" height="14.50" fill="#ffa500" />
<rect x="622.20" y="136.20" width="1.24" height="14.50" fill="#ffa500" />
<rect x="633.11" y="136.20" width="4.96" height="14.50" fill="#ffa500" />
<rect x="643.04" y="136.20" width="1.49" height="14.50" fill="#ffa500" />
<rect x="648.00" y="136.20" width="1.74" height="14.50" fill="#ffa500" />
<rect x="652.97" y="136.20" width="1.74" height="14.50" fill="#ffa500" />
<text x="385.70" y="144.30" font-size="2.1" fill="#111" text-anchor="end" font-family="Liberation Sans, Arial, sans-serif" stroke="#111" stroke-width="0.1" >ENSEMBL Genes</text>
<text x="677.60" y="143.30" font-size="2.1" fill="#111" text-anchor="start" font-family="Liberation Sans, Arial, sans-serif" stroke="#111" stroke-width="0.1" >PHGDH</text>
<rect x="510.80" y="156.20" width="3.10" height="10.80" fill="#006400" />
<text x="385.70" y="171.00" font-size="2.1" fill="#111" text-anchor="end" font-family="Liberation Sans, Arial, sans-serif" stroke="#111" stroke-width="0.1" >CG Island</text>
<rect x="398.30" y="173.20" width="2.15" height="7.60" fill="#ff00ff" />
<rect x="400.30" y="173.20" width="106.95" height="7.60" fill="#8b6508" />
<rect x="507.10" y="173.20" width="0.85" height="7.60" fill="#ffff99" />
<rect x="507.80" y="173.20" width="9.35" height="7.60" fill="#fb9a99" />
<rect x="517.00" y="173.20" width="3.15" height="7.60" fill="#fdbf6f" />
<rect x="520.00" y="173.20" width="1.65" height="7.60" fill="#00e5ee" />
<rect x="521.50" y="173.20" width="0.65" height="7.60" fill="#ffff99" />
<rect x="522.00" y="173.20" width="3.15" height="7.60" fill="#00e5ee" />
<rect x="525.00" y="173.20" width="1.05" height="7.60" fill="#ffff99" />
<rect x="525.90" y="173.20" width="55.05" height="7.60" fill="#8b6508" />
<rect x="580.80" y="173.20" width="4.05" height="7.60" fill="#fdbf6f" />
<rect x="584.70" y="173.20" width="67.45" height="7.60" fill="#00e5ee" />
<rect x="652.00" y="173.20" width="5.05" height="7.60" fill="#1f78b4" />
<rect x="656.90" y="173.20" width="12.15" height="7.60" fill="#8b6508" />
<text x="385.70" y="180.80" font-size="2.1" fill="#111" text-anchor="end" font-family="Liberation Sans, Arial, sans-serif" stroke="#111" stroke-width="0.1" >Broad ChromHMM</text>
<line x1="398.30" y1="191.80" x2="668.90" y2="191.80" stroke="#add8e6" stroke-width="0.45" />
<rect x="398.78" y="188.00" width="2.51" height="7.60" fill="#add8e6" />
<rect x="405.06" y="188.00" width="1.51" height="7.60" fill="#add8e6" />
<rect x="408.58" y="188.00" width="2.26" height="7.60" fill="#add8e6" />
<rect x="442.25" y="188.00" width="1.26" height="7.60" fill="#add8e6" />
<rect x="444.76" y="188.00" width="1.76" height="7.60" fill="#add8e6" />
<rect x="451.79" y="188.00" width="2.26" height="7.60" fill="#add8e6" />
<rect x="458.08" y="188.00" width="2.01" height="7.60" fill="#add8e6" />
<rect x="463.60" y="188.00" width="0.75" height="7.60" fill="#add8e6" />
<rect x="466.37" y="188.00" width="1.01" height="7.60" fill="#add8e6" />
<rect x="472.90" y="188.00" width="2.26" height="7.60" fill="#add8e6" />
<rect x="475.66" y="188.00" width="1.51" height="7.60" fill="#add8e6" />
<rect x="479.43" y="188.00" width="1.76" height="7.60" fill="#add8e6" />
<rect x="491.99" y="188.00" width="1.76" height="7.60" fill="#add8e6" />
<rect x="494.26" y="188.00" width="1.51" height="7.60" fill="#add8e6" />
<rect x="496.27" y="188.00" width="1.51" height="7.60" fill="#add8e6" />
<rect x="502.80" y="188.00" width="3.02" height="7.60" fill="#add8e6" />
<rect x="507.57" y="188.00" width="7.54" height="7.60" fill="#add8e6" />
<rect x="515.00" y="188.00" width="3.72" height="7.60" fill="#add8e6" />
<rect x="519.96" y="188.00" width="2.98" height="7.60" fill="#add8e6" />
<rect x="524.93" y="188.00" width="5.96" height="7.60" fill="#add8e6" />
<rect x="535.35" y="188.00" width="1.99" height="7.60" fill="#add8e6" />
<rect x="538.08" y="188.00" width="1.74" height="7.60" fill="#add8e6" />
<rect x="540.81" y="188.00" width="1.99" height="7.60" fill="#add8e6" />
<rect x="549.74" y="188.00" width="0.99" height="7.60" fill="#add8e6" />
<rect x="554.70" y="188.00" width="0.74" height="7.60" fill="#add8e6" />
<rect x="559.17" y="188.00" width="0.99" height="7.60" fill="#add8e6" />
<rect x="562.15" y="188.00" width="0.99" height="7.60" fill="#add8e6" />
<rect x="564.63" y="188.00" width="1.24" height="7.60" fill="#add8e6" />
<rect x="566.61" y="188.00" width="1.24" height="7.60" fill="#add8e6" />
<rect x="569.59" y="188.00" width="1.24" height="7.60" fill="#add8e6" />
<rect x="576.04" y="188.00" width="1.49" height="7.60" fill="#add8e6" />
<rect x="582.00" y="188.00" width="1.74" height="7.60" fill="#add8e6" />
<rect x="585.22" y="188.00" width="2.48" height="7.60" fill="#add8e6" />
<rect x="591.92" y="188.00" width="1.99" height="7.60" fill="#add8e6" />
<rect x="594.40" y="188.00" width="2.48" height="7.60" fill="#add8e6" />
<rect x="597.63" y="188.00" width="6.20" height="7.60" fill="#add8e6" />
<rect x="607.31" y="188.00" width="3.23" height="7.60" fill="#add8e6" />
<rect x="611.28" y="188.00" width="2.98" height="7.60" fill="#add8e6" />
<rect x="615.00" y="188.00" width="5.46" height="7.60" fill="#add8e6" />
<rect x="621.20" y="188.00" width="4.22" height="7.60" fill="#add8e6" />
<rect x="626.17" y="188.00" width="4.96" height="7.60" fill="#add8e6" />
<rect x="631.63" y="188.00" width="3.72" height="7.60" fill="#add8e6" />
<rect x="636.09" y="188.00" width="2.98" height="7.60" fill="#add8e6" />
<rect x="640.31" y="188.00" width="3.72" height="7.60" fill="#add8e6" />
<rect x="644.78" y="188.00" width="2.98" height="7.60" fill="#add8e6" />
<rect x="649.00" y="188.00" width="2.48" height="7.60" fill="#add8e6" />
<rect x="652.22" y="188.00" width="4.22" height="7.60" fill="#add8e6" />
<rect x="661.40" y="188.00" width="1.24" height="7.60" fill="#add8e6" />
<rect x="663.88" y="188.00" width="1.49" height="7.60" fill="#add8e6" />
<rect x="666.36" y="188.00" width="1.24" height="7.60" fill="#add8e6" />
<text x="385.70" y="192.90" font-size="2.1" fill="#111" text-anchor="end" font-family="Liberation Sans, Arial, sans-serif" stroke="#111" stroke-width="0.1" >DNase Clusters</text>
<line x1="398.30" y1="207.00" x2="668.90" y2="207.00" stroke="#b5ecf5" stroke-width="0.45" />
<rect x="398.30" y="203.10" width="13.50" height="7.80" fill="#add8e6" />
<rect x="465.10" y="203.10" width="5.80" height="7.80" fill="#add8e6" />
<rect x="500.80" y="203.10" width="2.00" height="7.80" fill="#add8e6" />
<rect x="507.10" y="203.10" width="15.80" height="7.80" fill="#add8e6" />
<rect x="526.20" y="203.10" width="1.20" height="7.80" fill="#97f0fb" />
<rect x="567.10" y="203.10" width="8.20" height="7.80" fill="#ffcc00" />
<rect x="595.10" y="203.10" width="1.80" height="7.80" fill="#add8e6" />
<rect x="599.30" y="203.10" width="1.30" height="7.80" fill="#add8e6" />
<rect x="601.60" y="203.10" width="1.20" height="7.80" fill="#add8e6" />
<rect x="621.90" y="203.10" width="3.80" height="7.80" fill="#ffcc00" />
<rect x="644.80" y="203.10" width="3.00" height="7.80" fill="#add8e6" />
<rect x="649.70" y="203.10" width="19.20" height="7.80" fill="#add8e6" />
<text x="385.70" y="204.90" font-size="2.1" fill="#111" text-anchor="end" font-family="Liberation Sans, Arial, sans-serif" stroke="#111" stroke-width="0.1" >Regulation ENSEMBL</text>
<text x="385.70" y="214.70" font-size="2.1" fill="#111" text-anchor="end" font-family="Liberation Sans, Arial, sans-serif" stroke="#111" stroke-width="0.1" >SNP UCSC</text>
<rect x="398.16" y="216.40" width="1.31" height="11.30" fill="#000" />
<rect x="401.25" y="216.40" width="0.91" height="11.30" fill="#000" />
<rect x="409.17" y="216.40" width="1.44" height="11.30" fill="#000" />
<rect x="411.18" y="216.40" width="2.79" height="11.30" fill="#000" />
<rect x="415.88" y="216.40" width="1.44" height="11.30" fill="#000" />
<rect x="418.03" y="216.40" width="0.91" height="11.30" fill="#000" />
<rect x="420.58" y="216.40" width="0.77" height="11.30" fill="#000" />
<rect x="422.46" y="216.40" width="0.37" height="11.30" fill="#000" />
<rect x="424.34" y="216.40" width="1.31" height="11.30" fill="#000" />
<rect x="426.75" y="216.40" width="0.51" height="11.30" fill="#000" />
<rect x="430.65" y="216.40" width="2.12" height="11.30" fill="#666" />
<rect x="433.06" y="216.40" width="3.06" height="11.30" fill="#000" />
<rect x="438.83" y="216.40" width="1.04" height="11.30" fill="#000" />
<rect x="441.38" y="216.40" width="0.77" height="11.30" fill="#000" />
<rect x="443.13" y="216.40" width="0.77" height="11.30" fill="#000" />
<rect x="445.14" y="216.40" width="0.64" height="11.30" fill="#000" />
<rect x="446.89" y="216.40" width="0.77" height="11.30" fill="#666" />
<rect x="448.23" y="216.40" width="0.64" height="11.30" fill="#666" />
<rect x="449.57" y="216.40" width="0.51" height="11.30" fill="#666" />
<rect x="451.18" y="216.40" width="0.51" height="11.30" fill="#000" />
<rect x="452.79" y="216.40" width="1.04" height="11.30" fill="#000" />
<rect x="454.67" y="216.40" width="1.04" height="11.30" fill="#000" />
<rect x="456.82" y="216.40" width="0.51" height="11.30" fill="#666" />
<rect x="458.16" y="216.40" width="0.77" height="11.30" fill="#000" />
<rect x="460.31" y="216.40" width="1.31" height="11.30" fill="#000" />
<rect x="464.87" y="216.40" width="0.77" height="11.30" fill="#000" />
<rect x="466.62" y="216.40" width="1.04" height="11.30" fill="#000" />
<rect x="468.36" y="216.40" width="0.77" height="11.30" fill="#000" />
<rect x="474.67" y="216.40" width="3.32" height="11.30" fill="#000" />
<rect x="480.45" y="216.40" width="1.31" height="11.30" fill="#000" />
<rect x="484.07" y="216.40" width="0.64" height="11.30" fill="#666" />
<rect x="485.81" y="216.40" width="0.77" height="11.30" fill="#000" />
<rect x="486.15" y="216.40" width="0.77" height="11.30" fill="#666" />
<rect x="487.76" y="216.40" width="0.77" height="11.30" fill="#000" />
<rect x="489.77" y="216.40" width="0.77" height="11.30" fill="#000" />
<rect x="496.22" y="216.40" width="1.31" height="11.30" fill="#000" />
<rect x="501.18" y="216.40" width="2.12" height="11.30" fill="#666" />
<rect x="506.28" y="216.40" width="0.64" height="11.30" fill="#000" />
<rect x="508.70" y="216.40" width="1.04" height="11.30" fill="#000" />
<rect x="510.58" y="216.40" width="0.77" height="11.30" fill="#666" />
<rect x="511.92" y="216.40" width="4.13" height="11.30" fill="#000" />
<rect x="518.77" y="216.40" width="1.71" height="11.30" fill="#666" />
<rect x="521.32" y="216.40" width="1.85" height="11.30" fill="#666" />
<rect x="529.37" y="216.40" width="1.44" height="11.30" fill="#000" />
<rect x="532.46" y="216.40" width="1.04" height="11.30" fill="#666" />
<rect x="538.50" y="216.40" width="2.38" height="11.30" fill="#000" />
<rect x="542.26" y="216.40" width="1.04" height="11.30" fill="#000" />
<rect x="544.14" y="216.40" width="0.77" height="11.30" fill="#000" />
<rect x="546.28" y="216.40" width="1.58" height="11.30" fill="#000" />
<rect x="552.19" y="216.40" width="0.51" height="11.30" fill="#000" />
<rect x="554.87" y="216.40" width="0.77" height="11.30" fill="#000" />
<rect x="556.49" y="216.40" width="0.51" height="11.30" fill="#000" />
<rect x="557.69" y="216.40" width="1.31" height="11.30" fill="#000" />
<rect x="559.71" y="216.40" width="1.04" height="11.30" fill="#000" />
<rect x="561.59" y="216.40" width="0.77" height="11.30" fill="#666" />
<rect x="563.33" y="216.40" width="0.64" height="11.30" fill="#000" />
<rect x="565.34" y="216.40" width="1.85" height="11.30" fill="#000" />
<rect x="568.30" y="216.40" width="0.77" height="11.30" fill="#000" />
<rect x="570.18" y="216.40" width="1.58" height="11.30" fill="#000" />
<rect x="572.73" y="216.40" width="0.64" height="11.30" fill="#000" />
<rect x="574.07" y="216.40" width="0.64" height="11.30" fill="#666" />
<rect x="576.08" y="216.40" width="1.71" height="11.30" fill="#000" />
<rect x="578.82" y="216.40" width="2.38" height="11.30" fill="#000" />
<rect x="583.25" y="216.40" width="1.31" height="11.30" fill="#000" />
<rect x="587.28" y="216.40" width="0.64" height="11.30" fill="#000" />
<rect x="588.89" y="216.40" width="1.31" height="11.30" fill="#666" />
<rect x="592.65" y="216.40" width="0.64" height="11.30" fill="#000" />
<rect x="596.27" y="216.40" width="1.04" height="11.30" fill="#000" />
<rect x="598.28" y="216.40" width="1.04" height="11.30" fill="#000" />
<rect x="601.24" y="216.40" width="1.44" height="11.30" fill="#000" />
<rect x="603.65" y="216.40" width="1.04" height="11.30" fill="#000" />
<rect x="605.67" y="216.40" width="1.04" height="11.30" fill="#000" />
<rect x="607.41" y="216.40" width="1.31" height="11.30" fill="#000" />
<rect x="615.06" y="216.40" width="4.67" height="11.30" fill="#000" />
<rect x="621.37" y="216.40" width="1.04" height="11.30" fill="#000" />
<rect x="623.79" y="216.40" width="1.31" height="11.30" fill="#666" />
<rect x="625.80" y="216.40" width="1.44" height="11.30" fill="#000" />
<rect x="628.49" y="216.40" width="1.04" height="11.30" fill="#000" />
<rect x="630.23" y="216.40" width="1.31" height="11.30" fill="#666" />
<rect x="632.51" y="216.40" width="1.04" height="11.30" fill="#000" />
<rect x="634.53" y="216.40" width="0.77" height="11.30" fill="#000" />
<rect x="636.14" y="216.40" width="0.77" height="11.30" fill="#000" />
<rect x="638.82" y="216.40" width="0.51" height="11.30" fill="#000" />
<rect x="644.59" y="216.40" width="3.32" height="11.30" fill="#000" />
<rect x="651.30" y="216.40" width="1.04" height="11.30" fill="#000" />
<rect x="653.59" y="216.40" width="1.44" height="11.30" fill="#666" />
<rect x="656.00" y="216.40" width="1.04" height="11.30" fill="#666" />
<rect x="658.02" y="216.40" width="1.04" height="11.30" fill="#000" />
<rect x="660.30" y="216.40" width="1.04" height="11.30" fill="#000" />
<rect x="662.18" y="216.40" width="1.58" height="11.30" fill="#000" />
<rect x="664.73" y="216.40" width="1.04" height="11.30" fill="#000" />
<rect x="666.47" y="216.40" width="1.04" height="11.30" fill="#000" />
<text x="379.80" y="235.90" font-size="2.0" fill="#333" text-anchor="start" font-family="Liberation Sans, Arial, sans-serif" stroke="#333" stroke-width="0.05" >120253000 bp</text>
<text x="674.00" y="235.90" font-size="2.0" fill="#333" text-anchor="start" font-family="Liberation Sans, Arial, sans-serif" stroke="#333" stroke-width="0.05" >120286800 bp</text>
<line x1="398.30" y1="235.60" x2="668.90" y2="235.60" stroke="#bdbdbd" stroke-width="0.4" />
<clipPath id="cB"><rect x="395" y="234" width="278" height="9.0"/></clipPath><g clip-path="url(#cB)">
<polyline points="398.30,235.6 398.30,238.8 402.50,243.3" fill="none" stroke="#000" stroke-width="0.42"/>
<polyline points="504.40,235.6 504.40,238.8 417.40,243.3" fill="none" stroke="#000" stroke-width="0.42"/>
<polyline points="508.30,235.6 508.30,238.8 432.30,243.3" fill="none" stroke="#000" stroke-width="0.42"/>
<polyline points="509.30,235.6 509.30,238.8 447.20,243.3" fill="none" stroke="#000" stroke-width="0.42"/>
<polyline points="510.00,235.6 510.00,238.8 462.10,243.3" fill="none" stroke="#000" stroke-width="0.42"/>
<polyline points="510.60,235.6 510.60,238.8 477.00,243.3" fill="none" stroke="#000" stroke-width="0.42"/>
<polyline points="511.00,235.6 511.00,238.8 491.90,243.3" fill="none" stroke="#000" stroke-width="0.42"/>
<polyline points="512.00,235.6 512.00,238.8 506.80,243.3" fill="none" stroke="#000" stroke-width="0.42"/>
<polyline points="512.60,235.6 512.60,238.8 521.70,243.3" fill="none" stroke="#000" stroke-width="0.42"/>
<polyline points="513.00,235.6 513.00,238.8 536.60,243.3" fill="none" stroke="#000" stroke-width="0.42"/>
<polyline points="515.30,235.6 515.30,238.8 551.50,243.3" fill="none" stroke="#000" stroke-width="0.42"/>
<polyline points="515.70,235.6 515.70,238.8 566.40,243.3" fill="none" stroke="#a34bd1" stroke-width="0.42"/>
<polyline points="526.60,235.6 526.60,238.8 581.30,243.3" fill="none" stroke="#000" stroke-width="0.42"/>
<polyline points="591.20,235.6 591.20,238.8 596.20,243.3" fill="none" stroke="#000" stroke-width="0.42"/>
<polyline points="596.10,235.6 596.10,238.8 611.10,243.3" fill="none" stroke="#000" stroke-width="0.42"/>
<polyline points="646.00,235.6 646.00,238.8 626.00,243.3" fill="none" stroke="#000" stroke-width="0.42"/>
<polyline points="654.70,235.6 654.70,238.8 640.90,243.3" fill="none" stroke="#000" stroke-width="0.42"/>
<polyline points="668.70,235.6 668.70,238.8 655.80,243.3" fill="none" stroke="#000" stroke-width="0.42"/>
</g>
<text x="0.00" y="0.00" font-size="2.45" fill="#222" text-anchor="start" font-family="Liberation Sans, Arial, sans-serif" stroke="#222" stroke-width="0.05" transform="translate(404.00,302.3) rotate(-90)">cg14476101</text>
<text x="0.00" y="0.00" font-size="2.45" fill="#222" text-anchor="start" font-family="Liberation Sans, Arial, sans-serif" stroke="#222" stroke-width="0.05" transform="translate(419.12,302.3) rotate(-90)">cg16246545</text>
<text x="0.00" y="0.00" font-size="2.45" fill="#222" text-anchor="start" font-family="Liberation Sans, Arial, sans-serif" stroke="#222" stroke-width="0.05" transform="translate(434.24,302.3) rotate(-90)">cg02079413</text>
<text x="0.00" y="0.00" font-size="2.45" fill="#222" text-anchor="start" font-family="Liberation Sans, Arial, sans-serif" stroke="#222" stroke-width="0.05" transform="translate(449.36,302.3) rotate(-90)">cg21226234</text>
<text x="0.00" y="0.00" font-size="2.45" fill="#222" text-anchor="start" font-family="Liberation Sans, Arial, sans-serif" stroke="#222" stroke-width="0.05" transform="translate(464.48,302.3) rotate(-90)">cg09529082</text>
<text x="0.00" y="0.00" font-size="2.45" fill="#222" text-anchor="start" font-family="Liberation Sans, Arial, sans-serif" stroke="#222" stroke-width="0.05" transform="translate(479.60,302.3) rotate(-90)">cg00469995</text>
<text x="0.00" y="0.00" font-size="2.45" fill="#222" text-anchor="start" font-family="Liberation Sans, Arial, sans-serif" stroke="#222" stroke-width="0.05" transform="translate(494.72,302.3) rotate(-90)">cg01541443</text>
<text x="0.00" y="0.00" font-size="2.45" fill="#222" text-anchor="start" font-family="Liberation Sans, Arial, sans-serif" stroke="#222" stroke-width="0.05" transform="translate(509.84,302.3) rotate(-90)">cg25624628</text>
<text x="0.00" y="0.00" font-size="2.45" fill="#222" text-anchor="start" font-family="Liberation Sans, Arial, sans-serif" stroke="#222" stroke-width="0.05" transform="translate(524.96,302.3) rotate(-90)">cg10017626</text>
<text x="0.00" y="0.00" font-size="2.45" fill="#222" text-anchor="start" font-family="Liberation Sans, Arial, sans-serif" stroke="#222" stroke-width="0.05" transform="translate(540.08,302.3) rotate(-90)">cg25563198</text>
<text x="0.00" y="0.00" font-size="2.45" fill="#222" text-anchor="start" font-family="Liberation Sans, Arial, sans-serif" stroke="#222" stroke-width="0.05" transform="translate(555.20,302.3) rotate(-90)">cg26283059</text>
<text x="0.00" y="0.00" font-size="2.45" fill="#222" text-anchor="start" font-family="Liberation Sans, Arial, sans-serif" stroke="#222" stroke-width="0.05" transform="translate(570.32,302.3) rotate(-90)">cg11089401</text>
<text x="0.00" y="0.00" font-size="2.45" fill="#222" text-anchor="start" font-family="Liberation Sans, Arial, sans-serif" stroke="#222" stroke-width="0.05" transform="translate(585.44,302.3) rotate(-90)">cg03613618</text>
<text x="0.00" y="0.00" font-size="2.45" fill="#222" text-anchor="start" font-family="Liberation Sans, Arial, sans-serif" stroke="#222" stroke-width="0.05" transform="translate(600.56,302.3) rotate(-90)">cg03268463</text>
<text x="0.00" y="0.00" font-size="2.45" fill="#222" text-anchor="start" font-family="Liberation Sans, Arial, sans-serif" stroke="#222" stroke-width="0.05" transform="translate(615.68,302.3) rotate(-90)">cg05385718</text>
<text x="0.00" y="0.00" font-size="2.45" fill="#222" text-anchor="start" font-family="Liberation Sans, Arial, sans-serif" stroke="#222" stroke-width="0.05" transform="translate(630.80,302.3) rotate(-90)">cg16547110</text>
<text x="0.00" y="0.00" font-size="2.45" fill="#222" text-anchor="start" font-family="Liberation Sans, Arial, sans-serif" stroke="#222" stroke-width="0.05" transform="translate(645.92,302.3) rotate(-90)">cg10702366</text>
<text x="0.00" y="0.00" font-size="2.45" fill="#222" text-anchor="start" font-family="Liberation Sans, Arial, sans-serif" stroke="#222" stroke-width="0.05" transform="translate(661.04,302.3) rotate(-90)">cg04265576</text>
<polygon points="410.76,307.44 418.62,315.30 410.76,323.16 402.90,315.30" fill="#ffa6a6"/>
<polygon points="425.88,307.44 433.74,315.30 425.88,323.16 418.02,315.30" fill="#ffd4d4"/>
<polygon points="441.00,307.44 448.86,315.30 441.00,323.16 433.14,315.30" fill="#ff8080"/>
<polygon points="456.12,307.44 463.98,315.30 456.12,323.16 448.26,315.30" fill="#ff9999"/>
<polygon points="471.24,307.44 479.10,315.30 471.24,323.16 463.38,315.30" fill="#d4d4ff"/>
<polygon points="486.36,307.44 494.22,315.30 486.36,323.16 478.50,315.30" fill="#f7f7ff"/>
<polygon points="501.48,307.44 509.34,315.30 501.48,323.16 493.62,315.30" fill="#c7c7ff"/>
<polygon points="516.60,307.44 524.46,315.30 516.60,323.16 508.74,315.30" fill="#fff0f0"/>
<polygon points="531.72,307.44 539.58,315.30 531.72,323.16 523.86,315.30" fill="#ff6666"/>
<polygon points="546.84,307.44 554.70,315.30 546.84,323.16 538.98,315.30" fill="#ff8c8c"/>
<polygon points="561.96,307.44 569.82,315.30 561.96,323.16 554.10,315.30" fill="#ff1414"/>
<polygon points="577.08,307.44 584.94,315.30 577.08,323.16 569.22,315.30" fill="#ff6b6b"/>
<polygon points="592.20,307.44 600.06,315.30 592.20,323.16 584.34,315.30" fill="#ff3333"/>
<polygon points="607.32,307.44 615.18,315.30 607.32,323.16 599.46,315.30" fill="#ff8080"/>
<polygon points="622.44,307.44 630.30,315.30 622.44,323.16 614.58,315.30" fill="#ff4d4d"/>
<polygon points="637.56,307.44 645.42,315.30 637.56,323.16 629.70,315.30" fill="#ff6161"/>
<polygon points="652.68,307.44 660.54,315.30 652.68,323.16 644.82,315.30" fill="#ff6b6b"/>
<polygon points="418.32,315.00 426.18,322.86 418.32,330.72 410.46,322.86" fill="#ff6666"/>
<polygon points="433.44,315.00 441.30,322.86 433.44,330.72 425.58,322.86" fill="#ffb2b2"/>
<polygon points="448.56,315.00 456.42,322.86 448.56,330.72 440.70,322.86" fill="#ffabab"/>
<polygon points="463.68,315.00 471.54,322.86 463.68,330.72 455.82,322.86" fill="#ffc7c7"/>
<polygon points="478.80,315.00 486.66,322.86 478.80,330.72 470.94,322.86" fill="#ff8080"/>
<polygon points="493.92,315.00 501.78,322.86 493.92,330.72 486.06,322.86" fill="#ff7373"/>
<polygon points="509.04,315.00 516.90,322.86 509.04,330.72 501.18,322.86" fill="#ff6b6b"/>
<polygon points="524.16,315.00 532.02,322.86 524.16,330.72 516.30,322.86" fill="#dedeff"/>
<polygon points="539.28,315.00 547.14,322.86 539.28,330.72 531.42,322.86" fill="#ff7373"/>
<polygon points="554.40,315.00 562.26,322.86 554.40,330.72 546.54,322.86" fill="#ff8c8c"/>
<polygon points="569.52,315.00 577.38,322.86 569.52,330.72 561.66,322.86" fill="#ff8080"/>
<polygon points="584.64,315.00 592.50,322.86 584.64,330.72 576.78,322.86" fill="#ff6161"/>
<polygon points="599.76,315.00 607.62,322.86 599.76,330.72 591.90,322.86" fill="#ffa6a6"/>
<polygon points="614.88,315.00 622.74,322.86 614.88,330.72 607.02,322.86" fill="#ff5959"/>
<polygon points="630.00,315.00 637.86,322.86 630.00,330.72 622.14,322.86" fill="#ff8080"/>
<polygon points="645.12,315.00 652.98,322.86 645.12,330.72 637.26,322.86" fill="#ff4040"/>
<polygon points="425.88,322.56 433.74,330.42 425.88,338.28 418.02,330.42" fill="#ff9494"/>
<polygon points="441.00,322.56 448.86,330.42 441.00,338.28 433.14,330.42" fill="#fcfcff"/>
<polygon points="456.12,322.56 463.98,330.42 456.12,338.28 448.26,330.42" fill="#fff7f7"/>
<polygon points="471.24,322.56 479.10,330.42 471.24,338.28 463.38,330.42" fill="#ff8080"/>
<polygon points="486.36,322.56 494.22,330.42 486.36,338.28 478.50,330.42" fill="#c7c7ff"/>
<polygon points="501.48,322.56 509.34,330.42 501.48,338.28 493.62,330.42" fill="#ffbfbf"/>
<polygon points="516.60,322.56 524.46,330.42 516.60,338.28 508.74,330.42" fill="#ff4d4d"/>
<polygon points="531.72,322.56 539.58,330.42 531.72,338.28 523.86,330.42" fill="#ffc7c7"/>
<polygon points="546.84,322.56 554.70,330.42 546.84,338.28 538.98,330.42" fill="#ff8080"/>
<polygon points="561.96,322.56 569.82,330.42 561.96,338.28 554.10,330.42" fill="#ff8080"/>
<polygon points="577.08,322.56 584.94,330.42 577.08,338.28 569.22,330.42" fill="#ff7373"/>
<polygon points="592.20,322.56 600.06,330.42 592.20,338.28 584.34,330.42" fill="#ff8080"/>
<polygon points="607.32,322.56 615.18,330.42 607.32,338.28 599.46,330.42" fill="#ff7373"/>
<polygon points="622.44,322.56 630.30,330.42 622.44,338.28 614.58,330.42" fill="#ff5959"/>
<polygon points="637.56,322.56 645.42,330.42 637.56,338.28 629.70,330.42" fill="#ff4747"/>
<polygon points="433.44,330.12 441.30,337.98 433.44,345.84 425.58,337.98" fill="#ffe0e0"/>
<polygon points="448.56,330.12 456.42,337.98 448.56,345.84 440.70,337.98" fill="#ff8c8c"/>
<polygon points="463.68,330.12 471.54,337.98 463.68,345.84 455.82,337.98" fill="#ff5959"/>
<polygon points="478.80,330.12 486.66,337.98 478.80,345.84 470.94,337.98" fill="#ffcccc"/>
<polygon points="493.92,330.12 501.78,337.98 493.92,345.84 486.06,337.98" fill="#ffb8b8"/>
<polygon points="509.04,330.12 516.90,337.98 509.04,345.84 501.18,337.98" fill="#fcfcff"/>
<polygon points="524.16,330.12 532.02,337.98 524.16,345.84 516.30,337.98" fill="#ff9e9e"/>
<polygon points="539.28,330.12 547.14,337.98 539.28,345.84 531.42,337.98" fill="#ffcccc"/>
<polygon points="554.40,330.12 562.26,337.98 554.40,345.84 546.54,337.98" fill="#ff8080"/>
<polygon points="569.52,330.12 577.38,337.98 569.52,345.84 561.66,337.98" fill="#ff7373"/>
<polygon points="584.64,330.12 592.50,337.98 584.64,345.84 576.78,337.98" fill="#ff7373"/>
<polygon points="599.76,330.12 607.62,337.98 599.76,345.84 591.90,337.98" fill="#ff7373"/>
<polygon points="614.88,330.12 622.74,337.98 614.88,345.84 607.02,337.98" fill="#ff4d4d"/>
<polygon points="630.00,330.12 637.86,337.98 630.00,345.84 622.14,337.98" fill="#ff7373"/>
<polygon points="441.00,337.68 448.86,345.54 441.00,353.40 433.14,345.54" fill="#ffb8b8"/>
<polygon points="456.12,337.68 463.98,345.54 456.12,353.40 448.26,345.54" fill="#ffe6e6"/>
<polygon points="471.24,337.68 479.10,345.54 471.24,353.40 463.38,345.54" fill="#e6e6ff"/>
<polygon points="486.36,337.68 494.22,345.54 486.36,353.40 478.50,345.54" fill="#ff7373"/>
<polygon points="501.48,337.68 509.34,345.54 501.48,353.40 493.62,345.54" fill="#ff8c8c"/>
<polygon points="516.60,337.68 524.46,345.54 516.60,353.40 508.74,345.54" fill="#ffa6a6"/>
<polygon points="531.72,337.68 539.58,345.54 531.72,353.40 523.86,345.54" fill="#ffa6a6"/>
<polygon points="546.84,337.68 554.70,345.54 546.84,353.40 538.98,345.54" fill="#fff2f2"/>
<polygon points="561.96,337.68 569.82,345.54 561.96,353.40 554.10,345.54" fill="#ff6666"/>
<polygon points="577.08,337.68 584.94,345.54 577.08,353.40 569.22,345.54" fill="#ff9494"/>
<polygon points="592.20,337.68 600.06,345.54 592.20,353.40 584.34,345.54" fill="#ff7373"/>
<polygon points="607.32,337.68 615.18,345.54 607.32,353.40 599.46,345.54" fill="#ff7a7a"/>
<polygon points="622.44,337.68 630.30,345.54 622.44,353.40 614.58,345.54" fill="#ff8080"/>
<polygon points="448.56,345.24 456.42,353.10 448.56,360.96 440.70,353.10" fill="#ff5959"/>
<polygon points="463.68,345.24 471.54,353.10 463.68,360.96 455.82,353.10" fill="#ffa6a6"/>
<polygon points="478.80,345.24 486.66,353.10 478.80,360.96 470.94,353.10" fill="#ff7373"/>
<polygon points="493.92,345.24 501.78,353.10 493.92,360.96 486.06,353.10" fill="#ff7373"/>
<polygon points="509.04,345.24 516.90,353.10 509.04,360.96 501.18,353.10" fill="#ffcccc"/>
<polygon points="524.16,345.24 532.02,353.10 524.16,360.96 516.30,353.10" fill="#ffa6a6"/>
<polygon points="539.28,345.24 547.14,353.10 539.28,360.96 531.42,353.10" fill="#ff9999"/>
<polygon points="554.40,345.24 562.26,353.10 554.40,360.96 546.54,353.10" fill="#ffe0e0"/>
<polygon points="569.52,345.24 577.38,353.10 569.52,360.96 561.66,353.10" fill="#ff6666"/>
<polygon points="584.64,345.24 592.50,353.10 584.64,360.96 576.78,353.10" fill="#ff8080"/>
<polygon points="599.76,345.24 607.62,353.10 599.76,360.96 591.90,353.10" fill="#ff7373"/>
<polygon points="614.88,345.24 622.74,353.10 614.88,360.96 607.02,353.10" fill="#ff7373"/>
<polygon points="456.12,352.80 463.98,360.66 456.12,368.52 448.26,360.66" fill="#ffeded"/>
<polygon points="471.24,352.80 479.10,360.66 471.24,368.52 463.38,360.66" fill="#ffa6a6"/>
<polygon points="486.36,352.80 494.22,360.66 486.36,368.52 478.50,360.66" fill="#ff5959"/>
<polygon points="501.48,352.80 509.34,360.66 501.48,368.52 493.62,360.66" fill="#ff9999"/>
<polygon points="516.60,352.80 524.46,360.66 516.60,368.52 508.74,360.66" fill="#ffcccc"/>
<polygon points="531.72,352.80 539.58,360.66 531.72,368.52 523.86,360.66" fill="#ffd9d9"/>
<polygon points="546.84,352.80 554.70,360.66 546.84,368.52 538.98,360.66" fill="#ff9494"/>
<polygon points="561.96,352.80 569.82,360.66 561.96,368.52 554.10,360.66" fill="#ffbfbf"/>
<polygon points="577.08,352.80 584.94,360.66 577.08,368.52 569.22,360.66" fill="#ff4040"/>
<polygon points="592.20,352.80 600.06,360.66 592.20,368.52 584.34,360.66" fill="#ff6b6b"/>
<polygon points="607.32,352.80 615.18,360.66 607.32,368.52 599.46,360.66" fill="#ff7373"/>
<polygon points="463.68,360.36 471.54,368.22 463.68,376.08 455.82,368.22" fill="#ff4747"/>
<polygon points="478.80,360.36 486.66,368.22 478.80,376.08 470.94,368.22" fill="#ffd1d1"/>
<polygon points="493.92,360.36 501.78,368.22 493.92,376.08 486.06,368.22" fill="#ff8c8c"/>
<polygon points="509.04,360.36 516.90,368.22 509.04,376.08 501.18,368.22" fill="#ff9e9e"/>
<polygon points="524.16,360.36 532.02,368.22 524.16,376.08 516.30,368.22" fill="#ff9191"/>
<polygon points="539.28,360.36 547.14,368.22 539.28,376.08 531.42,368.22" fill="#ffbfbf"/>
<polygon points="554.40,360.36 562.26,368.22 554.40,376.08 546.54,368.22" fill="#ff9191"/>
<polygon points="569.52,360.36 577.38,368.22 569.52,376.08 561.66,368.22" fill="#ffe0e0"/>
<polygon points="584.64,360.36 592.50,368.22 584.64,376.08 576.78,368.22" fill="#ff6161"/>
<polygon points="599.76,360.36 607.62,368.22 599.76,376.08 591.90,368.22" fill="#ff7373"/>
<polygon points="471.24,367.92 479.10,375.78 471.24,383.64 463.38,375.78" fill="#ff7373"/>
<polygon points="486.36,367.92 494.22,375.78 486.36,383.64 478.50,375.78" fill="#ff9494"/>
<polygon points="501.48,367.92 509.34,375.78 501.48,383.64 493.62,375.78" fill="#ff9494"/>
<polygon points="516.60,367.92 524.46,375.78 516.60,383.64 508.74,375.78" fill="#ff8080"/>
<polygon points="531.72,367.92 539.58,375.78 531.72,383.64 523.86,375.78" fill="#ffc4c4"/>
<polygon points="546.84,367.92 554.70,375.78 546.84,383.64 538.98,375.78" fill="#ff8c8c"/>
<polygon points="561.96,367.92 569.82,375.78 561.96,383.64 554.10,375.78" fill="#ff9494"/>
<polygon points="577.08,367.92 584.94,375.78 577.08,383.64 569.22,375.78" fill="#f7f7ff"/>
<polygon points="592.20,367.92 600.06,375.78 592.20,383.64 584.34,375.78" fill="#ff4d4d"/>
<polygon points="478.80,375.48 486.66,383.34 478.80,391.20 470.94,383.34" fill="#ff7373"/>
<polygon points="493.92,375.48 501.78,383.34 493.92,391.20 486.06,383.34" fill="#ff9494"/>
<polygon points="509.04,375.48 516.90,383.34 509.04,391.20 501.18,383.34" fill="#ff9e9e"/>
<polygon points="524.16,375.48 532.02,383.34 524.16,391.20 516.30,383.34" fill="#ff8c8c"/>
<polygon points="539.28,375.48 547.14,383.34 539.28,391.20 531.42,383.34" fill="#fff5f5"/>
<polygon points="554.40,375.48 562.26,383.34 554.40,391.20 546.54,383.34" fill="#ffb2b2"/>
<polygon points="569.52,375.48 577.38,383.34 569.52,391.20 561.66,383.34" fill="#ff5959"/>
<polygon points="584.64,375.48 592.50,383.34 584.64,391.20 576.78,383.34" fill="#ffc7c7"/>
<polygon points="486.36,383.04 494.22,390.90 486.36,398.76 478.50,390.90" fill="#ff8585"/>
<polygon points="501.48,383.04 509.34,390.90 501.48,398.76 493.62,390.90" fill="#ff6161"/>
<polygon points="516.60,383.04 524.46,390.90 516.60,398.76 508.74,390.90" fill="#ff9494"/>
<polygon points="531.72,383.04 539.58,390.90 531.72,398.76 523.86,390.90" fill="#ff8c8c"/>
<polygon points="546.84,383.04 554.70,390.90 546.84,398.76 538.98,390.90" fill="#ffe0e0"/>
<polygon points="561.96,383.04 569.82,390.90 561.96,398.76 554.10,390.90" fill="#ffd9d9"/>
<polygon points="577.08,383.04 584.94,390.90 577.08,398.76 569.22,390.90" fill="#ff9494"/>
<polygon points="493.92,390.60 501.78,398.46 493.92,406.32 486.06,398.46" fill="#ffa6a6"/>
<polygon points="509.04,390.60 516.90,398.46 509.04,406.32 501.18,398.46" fill="#ff6b6b"/>
<polygon points="524.16,390.60 532.02,398.46 524.16,406.32 516.30,398.46" fill="#ff9494"/>
<polygon points="539.28,390.60 547.14,398.46 539.28,406.32 531.42,398.46" fill="#ff8c8c"/>
<polygon points="554.40,390.60 562.26,398.46 554.40,406.32 546.54,398.46" fill="#ffadad"/>
<polygon points="569.52,390.60 577.38,398.46 569.52,406.32 561.66,398.46" fill="#ffa6a6"/>
<polygon points="501.48,398.16 509.34,406.02 501.48,413.88 493.62,406.02" fill="#ff8c8c"/>
<polygon points="516.60,398.16 524.46,406.02 516.60,413.88 508.74,406.02" fill="#ff9999"/>
<polygon points="531.72,398.16 539.58,406.02 531.72,413.88 523.86,406.02" fill="#ff8a8a"/>
<polygon points="546.84,398.16 554.70,406.02 546.84,413.88 538.98,406.02" fill="#ff8c8c"/>
<polygon points="561.96,398.16 569.82,406.02 561.96,413.88 554.10,406.02" fill="#ffe6e6"/>
<polygon points="509.04,405.72 516.90,413.58 509.04,421.44 501.18,413.58" fill="#ff3333"/>
<polygon points="524.16,405.72 532.02,413.58 524.16,421.44 516.30,413.58" fill="#ff9494"/>
<polygon points="539.28,405.72 547.14,413.58 539.28,421.44 531.42,413.58" fill="#ff6666"/>
<polygon points="554.40,405.72 562.26,413.58 554.40,421.44 546.54,413.58" fill="#ff8080"/>
<polygon points="516.60,413.28 524.46,421.14 516.60,429.00 508.74,421.14" fill="#ff5252"/>
<polygon points="531.72,413.28 539.58,421.14 531.72,429.00 523.86,421.14" fill="#ff8c8c"/>
<polygon points="546.84,413.28 554.70,421.14 546.84,429.00 538.98,421.14" fill="#ff8585"/>
<polygon points="524.16,420.84 532.02,428.70 524.16,436.56 516.30,428.70" fill="#ff6666"/>
<polygon points="539.28,420.84 547.14,428.70 539.28,436.56 531.42,428.70" fill="#ff9494"/>
<polygon points="531.72,428.40 539.58,436.26 531.72,444.12 523.86,436.26" fill="#ff4d4d"/>
<rect x="356.90" y="454.90" width="98.10" height="9.20" fill="url(#cb)" />
<text x="405.70" y="431.10" font-size="2.6" fill="#222" text-anchor="middle" font-family="Liberation Sans, Arial, sans-serif" stroke="#222" stroke-width="0.04" >Physical Distance: 40.1 kb</text>
<text x="405.70" y="447.30" font-size="2.58" fill="#222" text-anchor="middle" font-family="Liberation Sans, Arial, sans-serif" stroke="#222" stroke-width="0.04" >Correlation Matrix Map Type: Spearman</text>
<text x="356.90" y="471.00" font-size="2.2" fill="#111" text-anchor="middle" font-family="Liberation Sans, Arial, sans-serif" stroke="#111" stroke-width="0.1" >1</text>
<text x="376.52" y="471.00" font-size="2.2" fill="#111" text-anchor="middle" font-family="Liberation Sans, Arial, sans-serif" stroke="#111" stroke-width="0.1" >0.6</text>
<text x="396.14" y="471.00" font-size="2.2" fill="#111" text-anchor="middle" font-family="Liberation Sans, Arial, sans-serif" stroke="#111" stroke-width="0.1" >0.2</text>
<text x="415.76" y="471.00" font-size="2.2" fill="#111" text-anchor="middle" font-family="Liberation Sans, Arial, sans-serif" stroke="#111" stroke-width="0.1" >-0.2</text>
<text x="435.38" y="471.00" font-size="2.2" fill="#111" text-anchor="middle" font-family="Liberation Sans, Arial, sans-serif" stroke="#111" stroke-width="0.1" >-0.6</text>
<text x="455.00" y="471.00" font-size="2.2" fill="#111" text-anchor="middle" font-family="Liberation Sans, Arial, sans-serif" stroke="#111" stroke-width="0.1" >-1</text>
<rect x="600.20" y="476.00" width="1.80" height="1.80" fill="#8b0000" />
<rect x="600.20" y="484.70" width="1.80" height="1.80" fill="#551a8b" />
<text x="603.40" y="477.70" font-size="2.0" fill="#111" text-anchor="start" font-family="Liberation Sans, Arial, sans-serif" stroke="#111" stroke-width="0.1" >CpG</text>
<text x="603.40" y="486.40" font-size="2.0" fill="#111" text-anchor="start" font-family="Liberation Sans, Arial, sans-serif" stroke="#111" stroke-width="0.1" >cg14476101</text>
</svg>
</body></html>
